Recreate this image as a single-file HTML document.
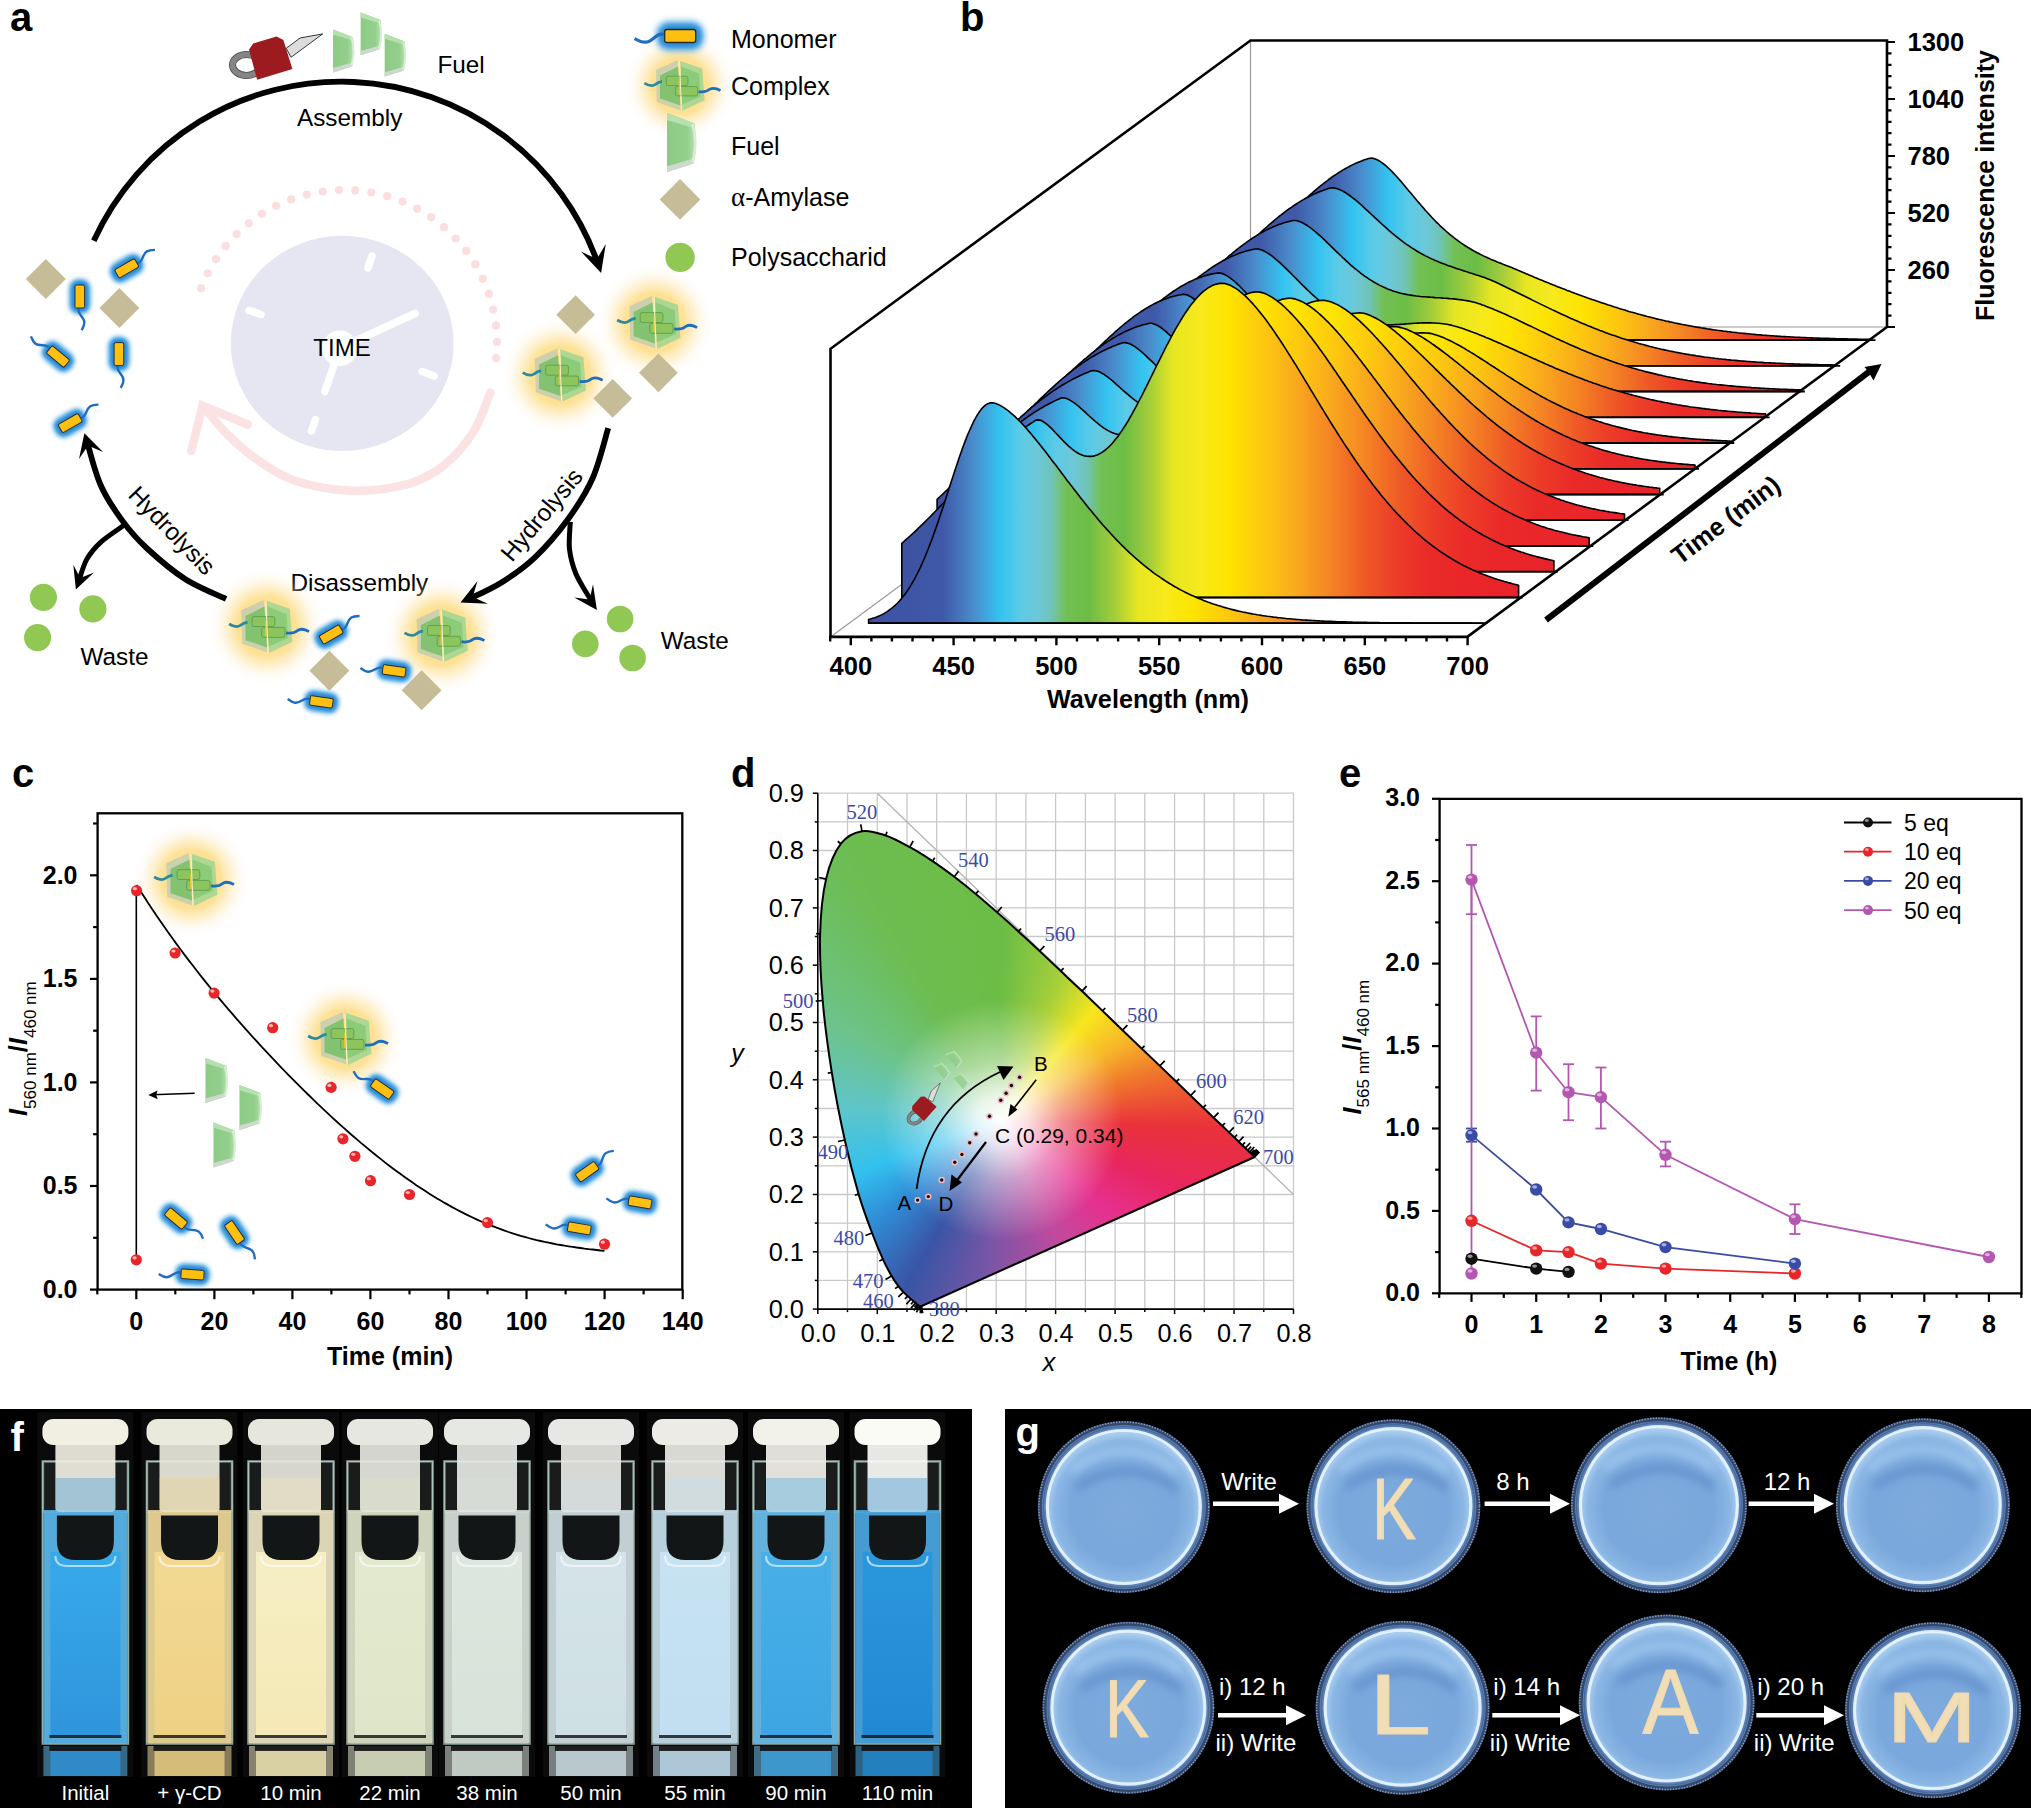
<!DOCTYPE html><html><head><meta charset="utf-8"><title>Figure</title><style>html,body{margin:0;padding:0;background:#fff;}body{width:2031px;height:1808px;overflow:hidden;}svg{display:block;}</style></head><body><svg xmlns="http://www.w3.org/2000/svg" width="2031" height="1808" viewBox="0 0 2031 1808"><defs><filter id="blur3" x="-50%" y="-50%" width="200%" height="200%"><feGaussianBlur stdDeviation="3"/></filter>
<filter id="blur2" x="-50%" y="-50%" width="200%" height="200%"><feGaussianBlur stdDeviation="2"/></filter>
<radialGradient id="yglow"><stop offset="0" stop-color="#fcd669" stop-opacity="0.95"/><stop offset="0.5" stop-color="#fddc84" stop-opacity="0.85"/><stop offset="0.68" stop-color="#fde3a0" stop-opacity="0.5"/><stop offset="0.85" stop-color="#feefd0" stop-opacity="0.2"/><stop offset="1" stop-color="#fff8ee" stop-opacity="0"/></radialGradient>
<linearGradient id="fuelg" x1="0" y1="0" x2="1" y2="0"><stop offset="0" stop-color="#8ccb86"/><stop offset="0.7" stop-color="#93cf8c"/><stop offset="1" stop-color="#b9e2b2"/></linearGradient>
<g id="mono"><rect x="-24" y="-15" width="48" height="30" rx="13" fill="#5aaee6" filter="url(#blur3)"/><rect x="-20.5" y="-11" width="41" height="22" rx="9" fill="#2a8ad6" filter="url(#blur2)"/><path d="M-16 -1.5 C-24 -4 -27 6 -35 6.2 C-39 6.3 -42 4.5 -45.6 2.5" fill="none" stroke="#1f6cc0" stroke-width="3.2" stroke-linecap="butt"/><rect x="-15.5" y="-6.5" width="31" height="13" rx="2.2" fill="#fdc011" stroke="#2a2a2a" stroke-width="1.3"/></g>
<g id="cplxbody"><path d="M-2.7 -25.3 L-24 -15.5 L-23.1 16.4 L0.9 24.8 Z" fill="#c9cfae" opacity="0.95"/><path d="M0 -24.6 L22.2 -17 L24.6 14.6 L2.4 25.2 Z" fill="#a9d693" opacity="0.95"/><path d="M-2 -19 L-20 -10 L-20 13 L0.5 20 Z" fill="#83c270"/><path d="M1 -19 L19 -12 L20.5 11 L2 19 Z" fill="#8ccb78"/><rect x="-13.7" y="-9.4" width="21.6" height="9.4" rx="1.8" fill="#8cc45e" stroke="#5d9a4a" stroke-width="0.8"/><rect x="-4.6" y="0.9" width="22.2" height="9.4" rx="1.8" fill="#8cc45e" stroke="#5d9a4a" stroke-width="0.8"/><path d="M-0.5 -5 V9" stroke="#f5c21a" stroke-width="1.6"/><line x1="-0.5" y1="-24" x2="1.5" y2="25" stroke="#f7f0c8" stroke-width="1"/><path d="M-35.6 -2.4 C-31 0.5 -28 1 -25 -1 C-23 -2.5 -21 -4 -18 -4" fill="none" stroke="#2a8aa0" stroke-width="2.6"/><path d="M18.6 6 C24 7 27 6 30 3.5 C34 1.5 37 3 40.5 4.9" fill="none" stroke="#1f6cc0" stroke-width="2.6"/></g>
<g id="cplx"><circle r="56" fill="url(#yglow)"/><use href="#cplxbody"/></g>
<g id="fuel"><path d="M0 0 L20 7.6 Q22 22 19.3 36.6 L0 42.8 Z" fill="url(#fuelg)"/><path d="M0 0 L20 7.6 L19.6 11 L0 5 Z" fill="#b6e0ae"/><path d="M0 38.5 L19.5 33 L19.3 36.6 L0 42.8 Z" fill="#cfd8cf"/><path d="M18.5 8 Q22.5 22 18.5 36" fill="none" stroke="#d7eed2" stroke-width="2"/></g>
<path id="dia" d="M0 -20 L20 0 L0 20 L-20 0 Z" fill="#c6bd98"/>
<g id="lock"><path d="M-8 -4 L-8 -4" /><ellipse cx="-23" cy="5" rx="14" ry="10.5" fill="none" stroke="#4a4a4a" stroke-width="7"/><ellipse cx="-23" cy="5" rx="14" ry="10.5" fill="none" stroke="#858585" stroke-width="5.4"/><path d="M16.7 -11.7 L30.5 -22 L53.2 -26.1 L21.5 -2.7 Z" fill="#dcdcdc" stroke="#222" stroke-width="0.9"/><path d="M-20.5 -10.3 L-16.4 -16.5 L7 -23.4 L13.9 -19.9 L22.9 9 L-12.3 19.8 Z" fill="#9b1b1e"/></g><linearGradient id="spec" gradientUnits="userSpaceOnUse" x1="866.5" y1="0" x2="1483.3" y2="0"><stop offset="0.0000" stop-color="#3d52a3"/><stop offset="0.1233" stop-color="#3f58a7"/><stop offset="0.1733" stop-color="#4a8ccc"/><stop offset="0.2167" stop-color="#33c3f0"/><stop offset="0.2500" stop-color="#5ccbe6"/><stop offset="0.2767" stop-color="#6cc8d8"/><stop offset="0.3000" stop-color="#6fc4b8"/><stop offset="0.3233" stop-color="#72c055"/><stop offset="0.3600" stop-color="#6cbd45"/><stop offset="0.4000" stop-color="#a0cc3a"/><stop offset="0.4400" stop-color="#e6e622"/><stop offset="0.4833" stop-color="#f7e91c"/><stop offset="0.5267" stop-color="#fde500"/><stop offset="0.5867" stop-color="#fdc810"/><stop offset="0.6400" stop-color="#f9a81e"/><stop offset="0.6933" stop-color="#f48524"/><stop offset="0.7500" stop-color="#ef5a26"/><stop offset="0.8033" stop-color="#ec3c28"/><stop offset="0.8567" stop-color="#ea2a28"/><stop offset="1.0000" stop-color="#e8222a"/></linearGradient></defs><rect width="2031" height="1808" fill="#fff"/><text x="10" y="31" font-size="40" font-weight="bold" fill="#000" font-family="'Liberation Sans', Arial, Helvetica, sans-serif">a</text>
<ellipse cx="342.2" cy="343.4" rx="111.4" ry="107.6" fill="#e5e6f1"/>
<g stroke="#fff" stroke-linecap="round" fill="none"><line x1="340" y1="348" x2="415" y2="313.5" stroke-width="7.5"/><line x1="340" y1="348" x2="324.8" y2="391.5" stroke-width="7.5"/><line x1="368" y1="268" x2="372" y2="256" stroke-width="7.5"/><line x1="249" y1="310.5" x2="261" y2="314.5" stroke-width="7.5"/><line x1="422" y1="371.5" x2="434" y2="376" stroke-width="7.5"/><line x1="311.5" y1="431" x2="315.5" y2="419.5" stroke-width="7.5"/></g>
<circle cx="339.8" cy="348.3" r="17.9" fill="#fff"/>
<text x="342" y="356" font-size="24" text-anchor="middle" fill="#000" font-family="'Liberation Sans', Arial, Helvetica, sans-serif">TIME</text>
<g fill="#fbdfe0"><circle cx="201.2" cy="288.2" r="4.1"/><circle cx="207.8" cy="273.3" r="4.1"/><circle cx="216" cy="259.2" r="4.1"/><circle cx="225.6" cy="246.1" r="4.1"/><circle cx="236.6" cy="234.1" r="4.1"/><circle cx="248.8" cy="223.3" r="4.1"/><circle cx="262" cy="213.8" r="4.1"/><circle cx="276.2" cy="205.8" r="4.1"/><circle cx="291.2" cy="199.4" r="4.1"/><circle cx="306.7" cy="194.6" r="4.1"/><circle cx="322.7" cy="191.5" r="4.1"/><circle cx="338.9" cy="190.1" r="4.1"/><circle cx="355.2" cy="190.4" r="4.1"/><circle cx="371.4" cy="192.5" r="4.1"/><circle cx="387.2" cy="196.2" r="4.1"/><circle cx="402.6" cy="201.6" r="4.1"/><circle cx="417.2" cy="208.7" r="4.1"/><circle cx="431.1" cy="217.2" r="4.1"/><circle cx="444" cy="227.2" r="4.1"/><circle cx="455.7" cy="238.5" r="4.1"/><circle cx="466.2" cy="250.9" r="4.1"/><circle cx="475.3" cy="264.4" r="4.1"/><circle cx="482.9" cy="278.8" r="4.1"/><circle cx="488.9" cy="293.9" r="4.1"/><circle cx="493.3" cy="309.6" r="4.1"/><circle cx="496" cy="325.7" r="4.1"/><circle cx="497" cy="341.9" r="4.1"/><circle cx="496.2" cy="358.2" r="4.1"/></g>
<path d="M490.3 392.5 C487.5 399.1 481.1 419.8 473.3 432 C465.5 444.2 454.6 457 443.3 465.8 C432 474.6 421.3 480.5 405.6 484.6 C389.9 488.7 368 491.3 349.2 490.5 C330.4 489.7 308.5 485.3 292.8 479.9 C277.1 474.5 266.2 466 255.2 458.3 C244.2 450.6 235 441.8 227 433.9 C219 426 210.3 414.8 207 411" fill="none" stroke="#fce3e3" stroke-width="8.5" stroke-linecap="round"/>
<path d="M191.3 450.8 L202.6 405.6 L247.7 424.5" fill="none" stroke="#fce3e3" stroke-width="8.5" stroke-linecap="round" stroke-linejoin="miter"/>
<text x="297" y="126.2" font-size="24.3" fill="#000" font-family="'Liberation Sans', Arial, Helvetica, sans-serif">Assembly</text>
<text x="290.5" y="590.8" font-size="24.3" fill="#000" font-family="'Liberation Sans', Arial, Helvetica, sans-serif">Disassembly</text>
<text x="437.5" y="73.1" font-size="24.3" fill="#000" font-family="'Liberation Sans', Arial, Helvetica, sans-serif">Fuel</text>
<text x="80.5" y="665.4" font-size="24.3" fill="#000" font-family="'Liberation Sans', Arial, Helvetica, sans-serif">Waste</text>
<text x="660.8" y="648.9" font-size="24.3" fill="#000" font-family="'Liberation Sans', Arial, Helvetica, sans-serif">Waste</text>
<text x="0" y="0" font-size="24.3" fill="#000" font-family="'Liberation Sans', Arial, Helvetica, sans-serif" transform="translate(512 563) rotate(-50)">Hydrolysis</text>
<text x="0" y="0" font-size="24.3" fill="#000" font-family="'Liberation Sans', Arial, Helvetica, sans-serif" transform="translate(127 496) rotate(46)">Hydrolysis</text>
<text x="731" y="47.5" font-size="25" fill="#000" font-family="'Liberation Sans', Arial, Helvetica, sans-serif">Monomer</text>
<text x="731" y="95.2" font-size="25" fill="#000" font-family="'Liberation Sans', Arial, Helvetica, sans-serif">Complex</text>
<text x="731" y="155" font-size="25" fill="#000" font-family="'Liberation Sans', Arial, Helvetica, sans-serif">Fuel</text>
<text x="731" y="206" font-size="25" fill="#000" font-family="'Liberation Sans', Arial, Helvetica, sans-serif"><tspan font-family="Liberation Serif, serif" font-size="27">α</tspan>-Amylase</text>
<text x="731" y="265.8" font-size="25" fill="#000" font-family="'Liberation Sans', Arial, Helvetica, sans-serif">Polysaccharid</text>
<use href="#cplx" transform="translate(680 85.6)"/>
<use href="#mono" transform="translate(680.2 36)"/>
<use href="#fuel" transform="translate(667 113) scale(1.380)"/>
<use href="#dia" transform="translate(680 199.4) scale(1.020)"/>
<circle cx="680.1" cy="257.4" r="14.7" fill="#90c853"/>
<use href="#lock" transform="translate(269.5 60)"/>
<use href="#fuel" transform="translate(333 29.6)"/>
<use href="#fuel" transform="translate(360.6 12.4)"/>
<use href="#fuel" transform="translate(384.7 33.8)"/>
<use href="#cplx" transform="translate(654.6 322.5) scale(1.050)"/>
<use href="#cplx" transform="translate(560.1 375.1) scale(1.050)"/>
<use href="#dia" transform="translate(575.6 314.7) scale(0.970)"/>
<use href="#dia" transform="translate(658.4 372.8) scale(0.970)"/>
<use href="#dia" transform="translate(612.7 398.4) scale(0.970)"/>
<circle cx="620.1" cy="619" r="13.3" fill="#90c853"/>
<circle cx="585.3" cy="643.9" r="13.3" fill="#90c853"/>
<circle cx="632.6" cy="658" r="13.3" fill="#90c853"/>
<circle cx="43.4" cy="597.3" r="13.6" fill="#90c853"/>
<circle cx="92.9" cy="608.9" r="13.6" fill="#90c853"/>
<circle cx="37.6" cy="637.6" r="13.6" fill="#90c853"/>
<use href="#dia" transform="translate(45.8 279.1)"/>
<use href="#dia" transform="translate(119.4 307.9)"/>
<use href="#mono" transform="translate(126.7 268.3) rotate(150) scale(0.740)"/>
<use href="#mono" transform="translate(79.8 296.5) rotate(-90) scale(0.740)"/>
<use href="#mono" transform="translate(58 356.6) rotate(40) scale(0.740)"/>
<use href="#mono" transform="translate(118.9 354.1) rotate(-90) scale(0.740)"/>
<use href="#mono" transform="translate(70.2 423.1) rotate(150) scale(0.740)"/>
<use href="#cplx" transform="translate(266.5 626.5) scale(1.050)"/>
<use href="#cplx" transform="translate(441.9 635.4) scale(1.050)"/>
<use href="#dia" transform="translate(329.4 670.8)"/>
<use href="#dia" transform="translate(421.6 690.3)"/>
<use href="#mono" transform="translate(331.2 634.5) rotate(150) scale(0.740)"/>
<use href="#mono" transform="translate(394.1 670.8) rotate(8) scale(0.740)"/>
<use href="#mono" transform="translate(321.4 701.8) rotate(8) scale(0.740)"/>
<path d="M93.8 240.7 A272 272 0 0 1 598 264" fill="none" stroke="#000" stroke-width="5.8"/>
<path d="M601.1 272.9 L581 251.6 L596.9 259.1 L605.8 243.9 Z" fill="#000"/>
<path d="M608.2 428.2 C605.6 436.5 599.4 462.8 592.7 478 C586 493.2 577.5 506.2 567.8 519.5 C558.1 532.8 545.8 547.1 534.7 557.6 C523.7 568.1 512.6 575.5 501.5 582.5 C490.4 589.5 473.6 596.7 468 599.5" fill="none" stroke="#000" stroke-width="5.8"/>
<path d="M460.5 602.6 L477.5 581 L472.7 597 L487.9 603.7 Z" fill="#000"/>
<path d="M226.1 598.9 C219.4 595.7 199 587.9 185.8 579.5 C172.6 571.1 157.7 558.3 147.1 548.5 C136.5 538.7 130.1 531.2 122.3 520.6 C114.5 510 106.5 498.3 100.6 485 C94.7 471.7 89.1 448.3 86.8 441" fill="none" stroke="#000" stroke-width="5.8"/>
<path d="M84.4 433.2 L103 452.1 L88 445.5 L79 459.1 Z" fill="#000"/>
<path d="M570.3 522 C570.2 526.5 568.5 540.6 569.5 549.3 C570.5 558 572.4 565.4 576.1 574.2 C579.9 583 589.4 597.4 592 602" fill="none" stroke="#000" stroke-width="5"/>
<path d="M596.9 609.9 L574.2 597.4 L589.6 599.4 L593 584.2 Z" fill="#000"/>
<path d="M123.9 525.3 C120 528.1 106.8 536.6 100.6 542.3 C94.4 548 90.4 552.8 86.7 559.4 C83 566 79.9 578.2 78.5 582" fill="none" stroke="#000" stroke-width="5"/>
<path d="M75.9 589.6 L73.3 564.8 L80.2 578.1 L94 572.5 Z" fill="#000"/>
<text x="960" y="31" font-size="40" font-weight="bold" fill="#000" font-family="'Liberation Sans', Arial, Helvetica, sans-serif">b</text>
<line x1="1250.5" y1="40.5" x2="1250.5" y2="327" stroke="#9a9a9a" stroke-width="1.2"/>
<line x1="1250.5" y1="327" x2="1887" y2="327" stroke="#9a9a9a" stroke-width="1.2"/>
<line x1="830.5" y1="637" x2="1250.5" y2="327" stroke="#9a9a9a" stroke-width="1.2"/>
<g transform="translate(388.2 -283.1)"><path d="M866.5 623.2 L866.5 532.7 L868.6 530.7 L870.6 528.6 L872.7 526.5 L874.7 524.4 L876.8 522.3 L878.8 520.2 L880.9 518.2 L882.9 516 L885 513.9 L887.1 511.8 L889.1 509.7 L891.2 507.7 L893.2 505.6 L895.3 503.5 L897.3 501.4 L899.4 499.3 L901.5 497.3 L903.5 495.3 L905.6 493.2 L907.6 491.2 L909.7 489.2 L911.7 487.3 L913.8 485.3 L915.8 483.4 L917.9 481.5 L920 479.6 L922 477.8 L924.1 476 L926.1 474.2 L928.2 472.4 L930.2 470.7 L932.3 469 L934.3 467.4 L936.4 465.7 L938.5 464.2 L940.5 462.6 L942.6 461.1 L944.6 459.6 L946.7 458.2 L948.7 456.9 L950.8 455.5 L952.9 454.2 L954.9 453 L957 451.8 L959 450.7 L961.1 449.6 L963.1 448.5 L965.2 447.5 L967.2 446.5 L969.3 445.6 L971.4 444.8 L973.4 444 L975.5 443.2 L977.5 442.5 L979.6 441.9 L981.6 441.3 L983.7 441.2 L985.7 441.6 L987.8 442.3 L989.9 443.3 L991.9 444.5 L994 445.9 L996 447.5 L998.1 449.2 L1000.1 451.1 L1002.2 453.1 L1004.3 455.2 L1006.3 457.3 L1008.4 459.6 L1010.4 461.9 L1012.5 464.2 L1014.5 466.6 L1016.6 469.1 L1018.6 471.5 L1020.7 474 L1022.8 476.4 L1024.8 478.9 L1026.9 481.4 L1028.9 483.8 L1031 486.2 L1033 488.6 L1035.1 491 L1037.1 493.3 L1039.2 495.6 L1041.3 497.9 L1043.3 500.1 L1045.4 502.3 L1047.4 504.4 L1049.5 506.4 L1051.5 508.4 L1053.6 510.4 L1055.7 512.3 L1057.7 514.1 L1059.8 515.9 L1061.8 517.7 L1063.9 519.3 L1065.9 521 L1068 522.5 L1070 524 L1072.1 525.5 L1074.2 526.9 L1076.2 528.3 L1078.3 529.6 L1080.3 530.9 L1082.4 532.1 L1084.4 533.3 L1086.5 534.5 L1088.5 535.6 L1090.6 536.6 L1092.7 537.7 L1094.7 538.7 L1096.8 539.7 L1098.8 540.6 L1100.9 541.5 L1102.9 542.5 L1105 543.3 L1107.1 544.2 L1109.1 545.1 L1111.2 545.9 L1113.2 546.7 L1115.3 547.5 L1117.3 548.3 L1119.4 549.1 L1121.4 549.9 L1123.5 550.7 L1125.6 551.5 L1127.6 552.4 L1129.7 553.3 L1131.7 554.1 L1133.8 555 L1135.8 555.9 L1137.9 556.8 L1139.9 557.7 L1142 558.5 L1144.1 559.4 L1146.1 560.3 L1148.2 561.1 L1150.2 562 L1152.3 562.8 L1154.3 563.7 L1156.4 564.5 L1158.5 565.4 L1160.5 566.2 L1162.6 567 L1164.6 567.9 L1166.7 568.7 L1168.7 569.5 L1170.8 570.3 L1172.8 571.1 L1174.9 571.9 L1177 572.7 L1179 573.5 L1181.1 574.2 L1183.1 575 L1185.2 575.8 L1187.2 576.6 L1189.3 577.3 L1191.3 578.1 L1193.4 578.8 L1195.5 579.6 L1197.5 580.3 L1199.6 581.1 L1201.6 581.8 L1203.7 582.5 L1205.7 583.2 L1207.8 583.9 L1209.9 584.6 L1211.9 585.3 L1214 586 L1216 586.7 L1218.1 587.4 L1220.1 588.1 L1222.2 588.7 L1224.2 589.4 L1226.3 590.1 L1228.4 590.7 L1230.4 591.4 L1232.5 592 L1234.5 592.6 L1236.6 593.2 L1238.6 593.8 L1240.7 594.5 L1242.7 595.1 L1244.8 595.6 L1246.9 596.2 L1248.9 596.8 L1251 597.4 L1253 597.9 L1255.1 598.5 L1257.1 599 L1259.2 599.6 L1261.3 600.1 L1263.3 600.6 L1265.4 601.1 L1267.4 601.7 L1269.5 602.2 L1271.5 602.6 L1273.6 603.1 L1275.6 603.6 L1277.7 604.1 L1279.8 604.5 L1281.8 605 L1283.9 605.4 L1285.9 605.9 L1288 606.3 L1290 606.7 L1292.1 607.1 L1294.1 607.6 L1296.2 607.9 L1298.3 608.3 L1300.3 608.7 L1302.4 609.1 L1304.4 609.5 L1306.5 609.8 L1308.5 610.2 L1310.6 610.5 L1312.7 610.9 L1314.7 611.2 L1316.8 611.5 L1318.8 611.9 L1320.9 612.2 L1322.9 612.5 L1325 612.8 L1327 613.1 L1329.1 613.4 L1331.2 613.6 L1333.2 613.9 L1335.3 614.2 L1337.3 614.4 L1339.4 614.7 L1341.4 614.9 L1343.5 615.2 L1345.5 615.4 L1347.6 615.6 L1349.7 615.9 L1351.7 616.1 L1353.8 616.3 L1355.8 616.5 L1357.9 616.7 L1359.9 616.9 L1362 617.1 L1364.1 617.3 L1366.1 617.5 L1368.2 617.7 L1370.2 617.8 L1372.3 618 L1374.3 618.2 L1376.4 618.3 L1378.4 618.5 L1380.5 618.6 L1382.6 618.8 L1384.6 618.9 L1386.7 619.1 L1388.7 619.2 L1390.8 619.3 L1392.8 619.5 L1394.9 619.6 L1396.9 619.7 L1399 619.8 L1401.1 619.9 L1403.1 620.1 L1405.2 620.2 L1407.2 620.3 L1409.3 620.4 L1411.3 620.5 L1413.4 620.6 L1415.5 620.6 L1417.5 620.7 L1419.6 620.8 L1421.6 620.9 L1423.7 621 L1425.7 621.1 L1427.8 621.1 L1429.8 621.2 L1431.9 621.3 L1434 621.4 L1436 621.4 L1438.1 621.5 L1440.1 621.5 L1442.2 621.6 L1444.2 621.7 L1446.3 621.7 L1448.3 621.8 L1450.4 621.8 L1452.5 621.9 L1454.5 621.9 L1456.6 622 L1458.6 622 L1460.7 622.1 L1462.7 622.1 L1464.8 622.2 L1466.9 622.2 L1468.9 622.2 L1471 622.3 L1473 622.3 L1475.1 622.3 L1477.1 622.4 L1479.2 622.4 L1481.2 622.4 L1483.3 622.5 L1483.3 623.2 Z" fill="url(#spec)" stroke="#000" stroke-width="1.6" stroke-linejoin="round"/><line x1="866.5" y1="623.2" x2="1487.3" y2="623.2" stroke="#000" stroke-width="1.8"/></g>
<g transform="translate(352.9 -257.4)"><path d="M866.5 623.2 L866.5 530.4 L868.6 528.3 L870.6 526.3 L872.7 524.2 L874.7 522.2 L876.8 520.1 L878.8 518.1 L880.9 516 L882.9 514 L885 511.9 L887.1 509.9 L889.1 507.8 L891.2 505.8 L893.2 503.8 L895.3 501.8 L897.3 499.8 L899.4 497.8 L901.5 495.8 L903.5 493.9 L905.6 491.9 L907.6 490 L909.7 488.1 L911.7 486.3 L913.8 484.4 L915.8 482.6 L917.9 480.8 L920 479.1 L922 477.3 L924.1 475.6 L926.1 473.9 L928.2 472.3 L930.2 470.7 L932.3 469.1 L934.3 467.6 L936.4 466.1 L938.5 464.7 L940.5 463.3 L942.6 461.9 L944.6 460.6 L946.7 459.3 L948.7 458 L950.8 456.8 L952.9 455.7 L954.9 454.6 L957 453.5 L959 452.5 L961.1 451.5 L963.1 450.6 L965.2 449.7 L967.2 448.9 L969.3 448.1 L971.4 447.4 L973.4 446.7 L975.5 446 L977.5 445.4 L979.6 445.2 L981.6 445.5 L983.7 445.9 L985.7 446.6 L987.8 447.5 L989.9 448.5 L991.9 449.7 L994 451 L996 452.4 L998.1 453.9 L1000.1 455.5 L1002.2 457.1 L1004.3 458.8 L1006.3 460.6 L1008.4 462.4 L1010.4 464.3 L1012.5 466.2 L1014.5 468.1 L1016.6 470 L1018.6 471.9 L1020.7 473.8 L1022.8 475.7 L1024.8 477.6 L1026.9 479.6 L1028.9 481.4 L1031 483.3 L1033 485.1 L1035.1 487 L1037.1 488.7 L1039.2 490.5 L1041.3 492.2 L1043.3 493.9 L1045.4 495.5 L1047.4 497.1 L1049.5 498.7 L1051.5 500.2 L1053.6 501.7 L1055.7 503.1 L1057.7 504.5 L1059.8 505.8 L1061.8 507.1 L1063.9 508.4 L1065.9 509.6 L1068 510.8 L1070 511.9 L1072.1 513 L1074.2 514 L1076.2 515 L1078.3 516 L1080.3 517 L1082.4 517.9 L1084.4 518.7 L1086.5 519.6 L1088.5 520.4 L1090.6 521.2 L1092.7 522 L1094.7 522.8 L1096.8 523.5 L1098.8 524.2 L1100.9 524.9 L1102.9 525.6 L1105 526.3 L1107.1 527 L1109.1 527.6 L1111.2 528.3 L1113.2 529 L1115.3 529.6 L1117.3 530.3 L1119.4 530.9 L1121.4 531.6 L1123.5 532.3 L1125.6 532.9 L1127.6 533.6 L1129.7 534.3 L1131.7 535 L1133.8 535.8 L1135.8 536.6 L1137.9 537.4 L1139.9 538.3 L1142 539.2 L1144.1 540.2 L1146.1 541.1 L1148.2 542.1 L1150.2 543.1 L1152.3 544.1 L1154.3 545.1 L1156.4 546.1 L1158.5 547.1 L1160.5 548.1 L1162.6 549.1 L1164.6 550.1 L1166.7 551.2 L1168.7 552.2 L1170.8 553.2 L1172.8 554.2 L1174.9 555.2 L1177 556.2 L1179 557.3 L1181.1 558.3 L1183.1 559.3 L1185.2 560.3 L1187.2 561.3 L1189.3 562.3 L1191.3 563.3 L1193.4 564.3 L1195.5 565.3 L1197.5 566.3 L1199.6 567.3 L1201.6 568.2 L1203.7 569.2 L1205.7 570.2 L1207.8 571.1 L1209.9 572.1 L1211.9 573 L1214 573.9 L1216 574.9 L1218.1 575.8 L1220.1 576.7 L1222.2 577.6 L1224.2 578.5 L1226.3 579.4 L1228.4 580.3 L1230.4 581.1 L1232.5 582 L1234.5 582.9 L1236.6 583.7 L1238.6 584.5 L1240.7 585.4 L1242.7 586.2 L1244.8 587 L1246.9 587.8 L1248.9 588.5 L1251 589.3 L1253 590.1 L1255.1 590.8 L1257.1 591.6 L1259.2 592.3 L1261.3 593 L1263.3 593.7 L1265.4 594.4 L1267.4 595.1 L1269.5 595.8 L1271.5 596.4 L1273.6 597.1 L1275.6 597.7 L1277.7 598.4 L1279.8 599 L1281.8 599.6 L1283.9 600.2 L1285.9 600.8 L1288 601.4 L1290 601.9 L1292.1 602.5 L1294.1 603 L1296.2 603.6 L1298.3 604.1 L1300.3 604.6 L1302.4 605.1 L1304.4 605.6 L1306.5 606.1 L1308.5 606.6 L1310.6 607 L1312.7 607.5 L1314.7 607.9 L1316.8 608.4 L1318.8 608.8 L1320.9 609.2 L1322.9 609.6 L1325 610 L1327 610.4 L1329.1 610.8 L1331.2 611.1 L1333.2 611.5 L1335.3 611.8 L1337.3 612.2 L1339.4 612.5 L1341.4 612.8 L1343.5 613.2 L1345.5 613.5 L1347.6 613.8 L1349.7 614.1 L1351.7 614.4 L1353.8 614.6 L1355.8 614.9 L1357.9 615.2 L1359.9 615.4 L1362 615.7 L1364.1 615.9 L1366.1 616.2 L1368.2 616.4 L1370.2 616.6 L1372.3 616.8 L1374.3 617.1 L1376.4 617.3 L1378.4 617.5 L1380.5 617.6 L1382.6 617.8 L1384.6 618 L1386.7 618.2 L1388.7 618.4 L1390.8 618.5 L1392.8 618.7 L1394.9 618.9 L1396.9 619 L1399 619.2 L1401.1 619.3 L1403.1 619.4 L1405.2 619.6 L1407.2 619.7 L1409.3 619.8 L1411.3 620 L1413.4 620.1 L1415.5 620.2 L1417.5 620.3 L1419.6 620.4 L1421.6 620.5 L1423.7 620.6 L1425.7 620.7 L1427.8 620.8 L1429.8 620.9 L1431.9 621 L1434 621.1 L1436 621.1 L1438.1 621.2 L1440.1 621.3 L1442.2 621.4 L1444.2 621.4 L1446.3 621.5 L1448.3 621.6 L1450.4 621.6 L1452.5 621.7 L1454.5 621.8 L1456.6 621.8 L1458.6 621.9 L1460.7 621.9 L1462.7 622 L1464.8 622 L1466.9 622.1 L1468.9 622.1 L1471 622.2 L1473 622.2 L1475.1 622.2 L1477.1 622.3 L1479.2 622.3 L1481.2 622.4 L1483.3 622.4 L1483.3 623.2 Z" fill="url(#spec)" stroke="#000" stroke-width="1.6" stroke-linejoin="round"/><line x1="866.5" y1="623.2" x2="1487.3" y2="623.2" stroke="#000" stroke-width="1.8"/></g>
<g transform="translate(317.6 -231.7)"><path d="M866.5 623.2 L866.5 529.9 L868.6 527.9 L870.6 525.9 L872.7 523.9 L874.7 521.9 L876.8 519.9 L878.8 517.9 L880.9 515.9 L882.9 514 L885 512 L887.1 510 L889.1 508 L891.2 506.1 L893.2 504.1 L895.3 502.2 L897.3 500.3 L899.4 498.4 L901.5 496.5 L903.5 494.6 L905.6 492.8 L907.6 491 L909.7 489.2 L911.7 487.4 L913.8 485.7 L915.8 484 L917.9 482.3 L920 480.7 L922 479.1 L924.1 477.5 L926.1 476 L928.2 474.5 L930.2 473 L932.3 471.6 L934.3 470.2 L936.4 468.9 L938.5 467.6 L940.5 466.3 L942.6 465.1 L944.6 463.9 L946.7 462.8 L948.7 461.8 L950.8 460.7 L952.9 459.8 L954.9 458.8 L957 458 L959 457.1 L961.1 456.3 L963.1 455.6 L965.2 454.9 L967.2 454.3 L969.3 453.7 L971.4 453.2 L973.4 452.7 L975.5 452.2 L977.5 452.2 L979.6 452.5 L981.6 453.2 L983.7 454 L985.7 455 L987.8 456.2 L989.9 457.5 L991.9 458.9 L994 460.4 L996 462 L998.1 463.7 L1000.1 465.5 L1002.2 467.3 L1004.3 469.2 L1006.3 471.1 L1008.4 473.1 L1010.4 475.1 L1012.5 477.1 L1014.5 479.1 L1016.6 481.1 L1018.6 483.1 L1020.7 485 L1022.8 487 L1024.8 489 L1026.9 490.9 L1028.9 492.8 L1031 494.7 L1033 496.5 L1035.1 498.3 L1037.1 500 L1039.2 501.7 L1041.3 503.4 L1043.3 505 L1045.4 506.5 L1047.4 508 L1049.5 509.4 L1051.5 510.8 L1053.6 512.1 L1055.7 513.4 L1057.7 514.6 L1059.8 515.7 L1061.8 516.8 L1063.9 517.8 L1065.9 518.8 L1068 519.7 L1070 520.6 L1072.1 521.4 L1074.2 522.2 L1076.2 522.9 L1078.3 523.5 L1080.3 524.1 L1082.4 524.7 L1084.4 525.2 L1086.5 525.6 L1088.5 526.1 L1090.6 526.5 L1092.7 526.8 L1094.7 527.1 L1096.8 527.4 L1098.8 527.7 L1100.9 527.9 L1102.9 528.2 L1105 528.4 L1107.1 528.5 L1109.1 528.7 L1111.2 528.8 L1113.2 529 L1115.3 529.1 L1117.3 529.3 L1119.4 529.4 L1121.4 529.5 L1123.5 529.6 L1125.6 529.8 L1127.6 529.9 L1129.7 530.1 L1131.7 530.3 L1133.8 530.4 L1135.8 530.6 L1137.9 530.8 L1139.9 531.1 L1142 531.3 L1144.1 531.6 L1146.1 531.9 L1148.2 532.2 L1150.2 532.6 L1152.3 533 L1154.3 533.4 L1156.4 533.9 L1158.5 534.5 L1160.5 535.2 L1162.6 535.8 L1164.6 536.6 L1166.7 537.3 L1168.7 538.1 L1170.8 538.9 L1172.8 539.7 L1174.9 540.5 L1177 541.4 L1179 542.2 L1181.1 543.1 L1183.1 544 L1185.2 544.9 L1187.2 545.8 L1189.3 546.7 L1191.3 547.7 L1193.4 548.6 L1195.5 549.6 L1197.5 550.5 L1199.6 551.5 L1201.6 552.5 L1203.7 553.4 L1205.7 554.4 L1207.8 555.4 L1209.9 556.4 L1211.9 557.4 L1214 558.3 L1216 559.3 L1218.1 560.3 L1220.1 561.3 L1222.2 562.3 L1224.2 563.3 L1226.3 564.2 L1228.4 565.2 L1230.4 566.2 L1232.5 567.2 L1234.5 568.1 L1236.6 569.1 L1238.6 570.1 L1240.7 571 L1242.7 572 L1244.8 572.9 L1246.9 573.8 L1248.9 574.8 L1251 575.7 L1253 576.6 L1255.1 577.5 L1257.1 578.4 L1259.2 579.3 L1261.3 580.2 L1263.3 581.1 L1265.4 581.9 L1267.4 582.8 L1269.5 583.6 L1271.5 584.5 L1273.6 585.3 L1275.6 586.1 L1277.7 586.9 L1279.8 587.7 L1281.8 588.5 L1283.9 589.3 L1285.9 590 L1288 590.8 L1290 591.5 L1292.1 592.3 L1294.1 593 L1296.2 593.7 L1298.3 594.4 L1300.3 595.1 L1302.4 595.8 L1304.4 596.4 L1306.5 597.1 L1308.5 597.7 L1310.6 598.4 L1312.7 599 L1314.7 599.6 L1316.8 600.2 L1318.8 600.8 L1320.9 601.4 L1322.9 601.9 L1325 602.5 L1327 603.1 L1329.1 603.6 L1331.2 604.1 L1333.2 604.6 L1335.3 605.1 L1337.3 605.6 L1339.4 606.1 L1341.4 606.6 L1343.5 607 L1345.5 607.5 L1347.6 607.9 L1349.7 608.4 L1351.7 608.8 L1353.8 609.2 L1355.8 609.6 L1357.9 610 L1359.9 610.4 L1362 610.8 L1364.1 611.1 L1366.1 611.5 L1368.2 611.8 L1370.2 612.2 L1372.3 612.5 L1374.3 612.8 L1376.4 613.2 L1378.4 613.5 L1380.5 613.8 L1382.6 614.1 L1384.6 614.4 L1386.7 614.6 L1388.7 614.9 L1390.8 615.2 L1392.8 615.4 L1394.9 615.7 L1396.9 615.9 L1399 616.2 L1401.1 616.4 L1403.1 616.6 L1405.2 616.8 L1407.2 617 L1409.3 617.2 L1411.3 617.4 L1413.4 617.6 L1415.5 617.8 L1417.5 618 L1419.6 618.2 L1421.6 618.3 L1423.7 618.5 L1425.7 618.7 L1427.8 618.8 L1429.8 619 L1431.9 619.1 L1434 619.3 L1436 619.4 L1438.1 619.5 L1440.1 619.7 L1442.2 619.8 L1444.2 619.9 L1446.3 620 L1448.3 620.2 L1450.4 620.3 L1452.5 620.4 L1454.5 620.5 L1456.6 620.6 L1458.6 620.7 L1460.7 620.8 L1462.7 620.9 L1464.8 620.9 L1466.9 621 L1468.9 621.1 L1471 621.2 L1473 621.3 L1475.1 621.3 L1477.1 621.4 L1479.2 621.5 L1481.2 621.5 L1483.3 621.6 L1483.3 623.2 Z" fill="url(#spec)" stroke="#000" stroke-width="1.6" stroke-linejoin="round"/><line x1="866.5" y1="623.2" x2="1487.3" y2="623.2" stroke="#000" stroke-width="1.8"/></g>
<g transform="translate(282.3 -205.9)"><path d="M866.5 623.2 L866.5 528.5 L868.6 526.5 L870.6 524.5 L872.7 522.5 L874.7 520.5 L876.8 518.6 L878.8 516.6 L880.9 514.6 L882.9 512.6 L885 510.7 L887.1 508.7 L889.1 506.8 L891.2 504.9 L893.2 503 L895.3 501.1 L897.3 499.2 L899.4 497.3 L901.5 495.5 L903.5 493.7 L905.6 491.9 L907.6 490.2 L909.7 488.4 L911.7 486.7 L913.8 485 L915.8 483.4 L917.9 481.8 L920 480.2 L922 478.7 L924.1 477.2 L926.1 475.7 L928.2 474.3 L930.2 472.9 L932.3 471.6 L934.3 470.3 L936.4 469.1 L938.5 467.9 L940.5 466.7 L942.6 465.6 L944.6 464.5 L946.7 463.5 L948.7 462.5 L950.8 461.6 L952.9 460.8 L954.9 459.9 L957 459.2 L959 458.5 L961.1 457.8 L963.1 457.2 L965.2 456.6 L967.2 456.1 L969.3 455.6 L971.4 455.2 L973.4 454.9 L975.5 454.9 L977.5 455.3 L979.6 456 L981.6 456.9 L983.7 458 L985.7 459.3 L987.8 460.6 L989.9 462.1 L991.9 463.8 L994 465.5 L996 467.2 L998.1 469.1 L1000.1 471 L1002.2 473 L1004.3 475 L1006.3 477 L1008.4 479 L1010.4 481.1 L1012.5 483.2 L1014.5 485.3 L1016.6 487.3 L1018.6 489.4 L1020.7 491.5 L1022.8 493.5 L1024.8 495.5 L1026.9 497.4 L1028.9 499.4 L1031 501.2 L1033 503.1 L1035.1 504.9 L1037.1 506.6 L1039.2 508.3 L1041.3 509.9 L1043.3 511.5 L1045.4 513 L1047.4 514.5 L1049.5 515.9 L1051.5 517.2 L1053.6 518.5 L1055.7 519.7 L1057.7 520.8 L1059.8 521.9 L1061.8 522.9 L1063.9 523.8 L1065.9 524.7 L1068 525.5 L1070 526.2 L1072.1 526.9 L1074.2 527.6 L1076.2 528.1 L1078.3 528.6 L1080.3 529.1 L1082.4 529.5 L1084.4 529.8 L1086.5 530.1 L1088.5 530.4 L1090.6 530.6 L1092.7 530.7 L1094.7 530.8 L1096.8 530.9 L1098.8 531 L1100.9 531 L1102.9 531 L1105 530.9 L1107.1 530.8 L1109.1 530.8 L1111.2 530.7 L1113.2 530.5 L1115.3 530.4 L1117.3 530.3 L1119.4 530.1 L1121.4 530 L1123.5 529.8 L1125.6 529.6 L1127.6 529.5 L1129.7 529.4 L1131.7 529.2 L1133.8 529.1 L1135.8 529 L1137.9 528.9 L1139.9 528.8 L1142 528.8 L1144.1 528.8 L1146.1 528.8 L1148.2 528.8 L1150.2 528.9 L1152.3 528.9 L1154.3 529.1 L1156.4 529.2 L1158.5 529.4 L1160.5 529.6 L1162.6 529.9 L1164.6 530.2 L1166.7 530.6 L1168.7 531 L1170.8 531.6 L1172.8 532.1 L1174.9 532.7 L1177 533.3 L1179 534 L1181.1 534.7 L1183.1 535.4 L1185.2 536.1 L1187.2 536.8 L1189.3 537.6 L1191.3 538.4 L1193.4 539.1 L1195.5 540 L1197.5 540.8 L1199.6 541.6 L1201.6 542.4 L1203.7 543.3 L1205.7 544.1 L1207.8 545 L1209.9 545.9 L1211.9 546.8 L1214 547.7 L1216 548.6 L1218.1 549.5 L1220.1 550.4 L1222.2 551.3 L1224.2 552.2 L1226.3 553.2 L1228.4 554.1 L1230.4 555 L1232.5 555.9 L1234.5 556.9 L1236.6 557.8 L1238.6 558.7 L1240.7 559.7 L1242.7 560.6 L1244.8 561.5 L1246.9 562.5 L1248.9 563.4 L1251 564.3 L1253 565.2 L1255.1 566.2 L1257.1 567.1 L1259.2 568 L1261.3 568.9 L1263.3 569.8 L1265.4 570.7 L1267.4 571.6 L1269.5 572.5 L1271.5 573.4 L1273.6 574.3 L1275.6 575.1 L1277.7 576 L1279.8 576.8 L1281.8 577.7 L1283.9 578.5 L1285.9 579.4 L1288 580.2 L1290 581 L1292.1 581.8 L1294.1 582.6 L1296.2 583.4 L1298.3 584.2 L1300.3 585 L1302.4 585.8 L1304.4 586.5 L1306.5 587.3 L1308.5 588 L1310.6 588.8 L1312.7 589.5 L1314.7 590.2 L1316.8 590.9 L1318.8 591.6 L1320.9 592.3 L1322.9 593 L1325 593.6 L1327 594.3 L1329.1 594.9 L1331.2 595.6 L1333.2 596.2 L1335.3 596.8 L1337.3 597.4 L1339.4 598 L1341.4 598.6 L1343.5 599.2 L1345.5 599.7 L1347.6 600.3 L1349.7 600.8 L1351.7 601.4 L1353.8 601.9 L1355.8 602.4 L1357.9 602.9 L1359.9 603.4 L1362 603.9 L1364.1 604.4 L1366.1 604.9 L1368.2 605.4 L1370.2 605.8 L1372.3 606.3 L1374.3 606.7 L1376.4 607.1 L1378.4 607.5 L1380.5 608 L1382.6 608.4 L1384.6 608.7 L1386.7 609.1 L1388.7 609.5 L1390.8 609.9 L1392.8 610.2 L1394.9 610.6 L1396.9 610.9 L1399 611.3 L1401.1 611.6 L1403.1 611.9 L1405.2 612.2 L1407.2 612.6 L1409.3 612.9 L1411.3 613.1 L1413.4 613.4 L1415.5 613.7 L1417.5 614 L1419.6 614.3 L1421.6 614.5 L1423.7 614.8 L1425.7 615 L1427.8 615.3 L1429.8 615.5 L1431.9 615.7 L1434 615.9 L1436 616.2 L1438.1 616.4 L1440.1 616.6 L1442.2 616.8 L1444.2 617 L1446.3 617.2 L1448.3 617.4 L1450.4 617.5 L1452.5 617.7 L1454.5 617.9 L1456.6 618.1 L1458.6 618.2 L1460.7 618.4 L1462.7 618.5 L1464.8 618.7 L1466.9 618.8 L1468.9 619 L1471 619.1 L1473 619.2 L1475.1 619.4 L1477.1 619.5 L1479.2 619.6 L1481.2 619.7 L1483.3 619.8 L1483.3 623.2 Z" fill="url(#spec)" stroke="#000" stroke-width="1.6" stroke-linejoin="round"/><line x1="866.5" y1="623.2" x2="1487.3" y2="623.2" stroke="#000" stroke-width="1.8"/></g>
<g transform="translate(247 -180.2)"><path d="M866.5 623.2 L866.5 524.5 L868.6 522.5 L870.6 520.5 L872.7 518.4 L874.7 516.4 L876.8 514.4 L878.8 512.4 L880.9 510.4 L882.9 508.4 L885 506.4 L887.1 504.5 L889.1 502.5 L891.2 500.6 L893.2 498.6 L895.3 496.7 L897.3 494.9 L899.4 493 L901.5 491.2 L903.5 489.4 L905.6 487.6 L907.6 485.8 L909.7 484.1 L911.7 482.4 L913.8 480.8 L915.8 479.2 L917.9 477.6 L920 476.1 L922 474.6 L924.1 473.1 L926.1 471.7 L928.2 470.3 L930.2 469 L932.3 467.7 L934.3 466.5 L936.4 465.3 L938.5 464.2 L940.5 463.1 L942.6 462 L944.6 461.1 L946.7 460.1 L948.7 459.2 L950.8 458.4 L952.9 457.6 L954.9 456.9 L957 456.3 L959 455.6 L961.1 455.1 L963.1 454.6 L965.2 454.1 L967.2 453.7 L969.3 453.4 L971.4 453.1 L973.4 453.3 L975.5 453.8 L977.5 454.7 L979.6 455.8 L981.6 457.1 L983.7 458.5 L985.7 460.2 L987.8 461.9 L989.9 463.8 L991.9 465.7 L994 467.8 L996 469.9 L998.1 472.1 L1000.1 474.3 L1002.2 476.6 L1004.3 478.9 L1006.3 481.2 L1008.4 483.6 L1010.4 485.9 L1012.5 488.3 L1014.5 490.6 L1016.6 492.9 L1018.6 495.2 L1020.7 497.5 L1022.8 499.7 L1024.8 501.9 L1026.9 504 L1028.9 506.1 L1031 508.2 L1033 510.1 L1035.1 512 L1037.1 513.9 L1039.2 515.7 L1041.3 517.4 L1043.3 519 L1045.4 520.5 L1047.4 522 L1049.5 523.4 L1051.5 524.7 L1053.6 525.9 L1055.7 527.1 L1057.7 528.1 L1059.8 529.1 L1061.8 530 L1063.9 530.8 L1065.9 531.5 L1068 532.2 L1070 532.7 L1072.1 533.2 L1074.2 533.6 L1076.2 533.9 L1078.3 534.2 L1080.3 534.4 L1082.4 534.5 L1084.4 534.5 L1086.5 534.5 L1088.5 534.4 L1090.6 534.2 L1092.7 534 L1094.7 533.7 L1096.8 533.4 L1098.8 533 L1100.9 532.6 L1102.9 532.1 L1105 531.6 L1107.1 531 L1109.1 530.4 L1111.2 529.8 L1113.2 529.2 L1115.3 528.5 L1117.3 527.8 L1119.4 527.1 L1121.4 526.4 L1123.5 525.6 L1125.6 524.9 L1127.6 524.1 L1129.7 523.4 L1131.7 522.7 L1133.8 521.9 L1135.8 521.2 L1137.9 520.5 L1139.9 519.8 L1142 519.1 L1144.1 518.5 L1146.1 517.8 L1148.2 517.2 L1150.2 516.7 L1152.3 516.1 L1154.3 515.6 L1156.4 515.2 L1158.5 514.7 L1160.5 514.4 L1162.6 514 L1164.6 513.7 L1166.7 513.5 L1168.7 513.3 L1170.8 513.2 L1172.8 513.1 L1174.9 513 L1177 513.1 L1179 513.2 L1181.1 513.3 L1183.1 513.6 L1185.2 514 L1187.2 514.6 L1189.3 515.2 L1191.3 515.9 L1193.4 516.7 L1195.5 517.5 L1197.5 518.3 L1199.6 519.3 L1201.6 520.2 L1203.7 521.2 L1205.7 522.2 L1207.8 523.3 L1209.9 524.4 L1211.9 525.5 L1214 526.7 L1216 527.8 L1218.1 529 L1220.1 530.3 L1222.2 531.5 L1224.2 532.8 L1226.3 534 L1228.4 535.3 L1230.4 536.6 L1232.5 537.9 L1234.5 539.2 L1236.6 540.6 L1238.6 541.9 L1240.7 543.2 L1242.7 544.6 L1244.8 545.9 L1246.9 547.2 L1248.9 548.6 L1251 549.9 L1253 551.3 L1255.1 552.6 L1257.1 553.9 L1259.2 555.3 L1261.3 556.6 L1263.3 557.9 L1265.4 559.2 L1267.4 560.5 L1269.5 561.8 L1271.5 563.1 L1273.6 564.4 L1275.6 565.6 L1277.7 566.9 L1279.8 568.1 L1281.8 569.4 L1283.9 570.6 L1285.9 571.8 L1288 573 L1290 574.1 L1292.1 575.3 L1294.1 576.4 L1296.2 577.6 L1298.3 578.7 L1300.3 579.8 L1302.4 580.8 L1304.4 581.9 L1306.5 583 L1308.5 584 L1310.6 585 L1312.7 586 L1314.7 587 L1316.8 587.9 L1318.8 588.9 L1320.9 589.8 L1322.9 590.7 L1325 591.6 L1327 592.5 L1329.1 593.3 L1331.2 594.2 L1333.2 595 L1335.3 595.8 L1337.3 596.6 L1339.4 597.4 L1341.4 598.1 L1343.5 598.9 L1345.5 599.6 L1347.6 600.3 L1349.7 601 L1351.7 601.7 L1353.8 602.3 L1355.8 603 L1357.9 603.6 L1359.9 604.2 L1362 604.8 L1364.1 605.4 L1366.1 606 L1368.2 606.5 L1370.2 607.1 L1372.3 607.6 L1374.3 608.1 L1376.4 608.6 L1378.4 609.1 L1380.5 609.6 L1382.6 610 L1384.6 610.5 L1386.7 610.9 L1388.7 611.3 L1390.8 611.7 L1392.8 612.1 L1394.9 612.5 L1396.9 612.9 L1399 613.2 L1401.1 613.6 L1403.1 613.9 L1405.2 614.3 L1407.2 614.6 L1409.3 614.9 L1411.3 615.2 L1413.4 615.5 L1415.5 615.8 L1417.5 616 L1419.6 616.3 L1421.6 616.6 L1423.7 616.8 L1425.7 617.1 L1427.8 617.3 L1429.8 617.5 L1431.9 617.7 L1434 617.9 L1436 618.1 L1438.1 618.3 L1440.1 618.5 L1442.2 618.7 L1444.2 618.9 L1446.3 619.1 L1448.3 619.2 L1450.4 619.4 L1452.5 619.5 L1454.5 619.7 L1456.6 619.8 L1458.6 620 L1460.7 620.1 L1462.7 620.2 L1464.8 620.3 L1466.9 620.5 L1468.9 620.6 L1471 620.7 L1473 620.8 L1475.1 620.9 L1477.1 621 L1479.2 621.1 L1481.2 621.2 L1483.3 621.3 L1483.3 623.2 Z" fill="url(#spec)" stroke="#000" stroke-width="1.6" stroke-linejoin="round"/><line x1="866.5" y1="623.2" x2="1487.3" y2="623.2" stroke="#000" stroke-width="1.8"/></g>
<g transform="translate(211.7 -154.4)"><path d="M866.5 623.2 L866.5 522.2 L868.6 520.2 L870.6 518.1 L872.7 516 L874.7 514 L876.8 511.9 L878.8 509.9 L880.9 507.8 L882.9 505.8 L885 503.8 L887.1 501.8 L889.1 499.8 L891.2 497.8 L893.2 495.8 L895.3 493.9 L897.3 491.9 L899.4 490 L901.5 488.2 L903.5 486.3 L905.6 484.5 L907.6 482.7 L909.7 480.9 L911.7 479.2 L913.8 477.5 L915.8 475.9 L917.9 474.2 L920 472.7 L922 471.1 L924.1 469.6 L926.1 468.2 L928.2 466.8 L930.2 465.4 L932.3 464.1 L934.3 462.8 L936.4 461.6 L938.5 460.4 L940.5 459.3 L942.6 458.2 L944.6 457.2 L946.7 456.2 L948.7 455.3 L950.8 454.4 L952.9 453.6 L954.9 452.9 L957 452.2 L959 451.5 L961.1 450.9 L963.1 450.4 L965.2 449.9 L967.2 449.4 L969.3 449.1 L971.4 448.7 L973.4 448.9 L975.5 449.5 L977.5 450.4 L979.6 451.5 L981.6 452.9 L983.7 454.4 L985.7 456.2 L987.8 458 L989.9 460 L991.9 462.1 L994 464.2 L996 466.5 L998.1 468.8 L1000.1 471.1 L1002.2 473.5 L1004.3 475.9 L1006.3 478.3 L1008.4 480.7 L1010.4 483.1 L1012.5 485.6 L1014.5 487.9 L1016.6 490.3 L1018.6 492.6 L1020.7 494.9 L1022.8 497.1 L1024.8 499.3 L1026.9 501.4 L1028.9 503.5 L1031 505.5 L1033 507.4 L1035.1 509.2 L1037.1 510.9 L1039.2 512.6 L1041.3 514.1 L1043.3 515.6 L1045.4 517 L1047.4 518.3 L1049.5 519.4 L1051.5 520.5 L1053.6 521.5 L1055.7 522.4 L1057.7 523.2 L1059.8 523.9 L1061.8 524.5 L1063.9 525 L1065.9 525.3 L1068 525.6 L1070 525.8 L1072.1 525.9 L1074.2 525.9 L1076.2 525.8 L1078.3 525.7 L1080.3 525.4 L1082.4 525.1 L1084.4 524.6 L1086.5 524.1 L1088.5 523.5 L1090.6 522.9 L1092.7 522.1 L1094.7 521.4 L1096.8 520.5 L1098.8 519.6 L1100.9 518.6 L1102.9 517.6 L1105 516.5 L1107.1 515.4 L1109.1 514.3 L1111.2 513.1 L1113.2 511.9 L1115.3 510.6 L1117.3 509.4 L1119.4 508.1 L1121.4 506.8 L1123.5 505.5 L1125.6 504.2 L1127.6 502.9 L1129.7 501.6 L1131.7 500.3 L1133.8 499 L1135.8 497.7 L1137.9 496.5 L1139.9 495.3 L1142 494.1 L1144.1 492.9 L1146.1 491.8 L1148.2 490.7 L1150.2 489.7 L1152.3 488.7 L1154.3 487.7 L1156.4 486.8 L1158.5 486 L1160.5 485.2 L1162.6 484.5 L1164.6 483.8 L1166.7 483.2 L1168.7 482.7 L1170.8 482.3 L1172.8 481.9 L1174.9 481.6 L1177 481.3 L1179 481.2 L1181.1 481.1 L1183.1 481.1 L1185.2 481.2 L1187.2 481.5 L1189.3 482 L1191.3 482.6 L1193.4 483.2 L1195.5 484 L1197.5 484.9 L1199.6 485.8 L1201.6 486.8 L1203.7 487.9 L1205.7 489 L1207.8 490.1 L1209.9 491.3 L1211.9 492.6 L1214 493.9 L1216 495.2 L1218.1 496.6 L1220.1 498 L1222.2 499.4 L1224.2 500.9 L1226.3 502.4 L1228.4 503.9 L1230.4 505.4 L1232.5 507 L1234.5 508.5 L1236.6 510.1 L1238.6 511.7 L1240.7 513.3 L1242.7 515 L1244.8 516.6 L1246.9 518.2 L1248.9 519.9 L1251 521.6 L1253 523.2 L1255.1 524.9 L1257.1 526.5 L1259.2 528.2 L1261.3 529.8 L1263.3 531.5 L1265.4 533.1 L1267.4 534.8 L1269.5 536.4 L1271.5 538 L1273.6 539.7 L1275.6 541.3 L1277.7 542.9 L1279.8 544.5 L1281.8 546.1 L1283.9 547.6 L1285.9 549.2 L1288 550.7 L1290 552.3 L1292.1 553.8 L1294.1 555.3 L1296.2 556.7 L1298.3 558.2 L1300.3 559.7 L1302.4 561.1 L1304.4 562.5 L1306.5 563.9 L1308.5 565.3 L1310.6 566.6 L1312.7 568 L1314.7 569.3 L1316.8 570.6 L1318.8 571.9 L1320.9 573.1 L1322.9 574.4 L1325 575.6 L1327 576.8 L1329.1 578 L1331.2 579.1 L1333.2 580.3 L1335.3 581.4 L1337.3 582.5 L1339.4 583.6 L1341.4 584.6 L1343.5 585.7 L1345.5 586.7 L1347.6 587.7 L1349.7 588.7 L1351.7 589.6 L1353.8 590.6 L1355.8 591.5 L1357.9 592.4 L1359.9 593.3 L1362 594.1 L1364.1 595 L1366.1 595.8 L1368.2 596.6 L1370.2 597.4 L1372.3 598.1 L1374.3 598.9 L1376.4 599.6 L1378.4 600.3 L1380.5 601 L1382.6 601.7 L1384.6 602.4 L1386.7 603 L1388.7 603.7 L1390.8 604.3 L1392.8 604.9 L1394.9 605.5 L1396.9 606 L1399 606.6 L1401.1 607.1 L1403.1 607.6 L1405.2 608.2 L1407.2 608.6 L1409.3 609.1 L1411.3 609.6 L1413.4 610.1 L1415.5 610.5 L1417.5 610.9 L1419.6 611.3 L1421.6 611.7 L1423.7 612.1 L1425.7 612.5 L1427.8 612.9 L1429.8 613.3 L1431.9 613.6 L1434 613.9 L1436 614.3 L1438.1 614.6 L1440.1 614.9 L1442.2 615.2 L1444.2 615.5 L1446.3 615.8 L1448.3 616 L1450.4 616.3 L1452.5 616.5 L1454.5 616.8 L1456.6 617 L1458.6 617.3 L1460.7 617.5 L1462.7 617.7 L1464.8 617.9 L1466.9 618.1 L1468.9 618.3 L1471 618.5 L1473 618.7 L1475.1 618.8 L1477.1 619 L1479.2 619.2 L1481.2 619.3 L1483.3 619.5 L1483.3 623.2 Z" fill="url(#spec)" stroke="#000" stroke-width="1.6" stroke-linejoin="round"/><line x1="866.5" y1="623.2" x2="1487.3" y2="623.2" stroke="#000" stroke-width="1.8"/></g>
<g transform="translate(176.4 -128.7)"><path d="M866.5 623.2 L866.5 527.2 L868.6 525.2 L870.6 523.2 L872.7 521.2 L874.7 519.2 L876.8 517.2 L878.8 515.2 L880.9 513.2 L882.9 511.2 L885 509.2 L887.1 507.2 L889.1 505.3 L891.2 503.3 L893.2 501.4 L895.3 499.5 L897.3 497.6 L899.4 495.7 L901.5 493.9 L903.5 492 L905.6 490.2 L907.6 488.4 L909.7 486.7 L911.7 485 L913.8 483.3 L915.8 481.6 L917.9 480 L920 478.4 L922 476.8 L924.1 475.3 L926.1 473.8 L928.2 472.4 L930.2 471 L932.3 469.6 L934.3 468.3 L936.4 467 L938.5 465.8 L940.5 464.6 L942.6 463.5 L944.6 462.4 L946.7 461.3 L948.7 460.3 L950.8 459.4 L952.9 458.5 L954.9 457.6 L957 456.8 L959 456 L961.1 455.3 L963.1 454.7 L965.2 454 L967.2 453.5 L969.3 452.9 L971.4 452.4 L973.4 452 L975.5 452 L977.5 452.6 L979.6 453.4 L981.6 454.5 L983.7 455.7 L985.7 457.2 L987.8 458.8 L989.9 460.6 L991.9 462.5 L994 464.4 L996 466.5 L998.1 468.6 L1000.1 470.7 L1002.2 472.9 L1004.3 475.1 L1006.3 477.4 L1008.4 479.6 L1010.4 481.8 L1012.5 484 L1014.5 486.2 L1016.6 488.4 L1018.6 490.5 L1020.7 492.5 L1022.8 494.5 L1024.8 496.4 L1026.9 498.3 L1028.9 500 L1031 501.7 L1033 503.3 L1035.1 504.8 L1037.1 506.2 L1039.2 507.5 L1041.3 508.7 L1043.3 509.8 L1045.4 510.8 L1047.4 511.7 L1049.5 512.5 L1051.5 513.1 L1053.6 513.6 L1055.7 514.1 L1057.7 514.4 L1059.8 514.6 L1061.8 514.7 L1063.9 514.6 L1065.9 514.5 L1068 514.2 L1070 513.9 L1072.1 513.4 L1074.2 512.8 L1076.2 512.1 L1078.3 511.4 L1080.3 510.5 L1082.4 509.5 L1084.4 508.5 L1086.5 507.3 L1088.5 506.1 L1090.6 504.8 L1092.7 503.4 L1094.7 502 L1096.8 500.5 L1098.8 498.9 L1100.9 497.2 L1102.9 495.6 L1105 493.8 L1107.1 492.1 L1109.1 490.2 L1111.2 488.4 L1113.2 486.5 L1115.3 484.6 L1117.3 482.7 L1119.4 480.8 L1121.4 478.9 L1123.5 476.9 L1125.6 475 L1127.6 473.1 L1129.7 471.2 L1131.7 469.3 L1133.8 467.5 L1135.8 465.7 L1137.9 463.9 L1139.9 462.1 L1142 460.4 L1144.1 458.8 L1146.1 457.1 L1148.2 455.6 L1150.2 454.1 L1152.3 452.7 L1154.3 451.4 L1156.4 450.1 L1158.5 448.9 L1160.5 447.8 L1162.6 446.8 L1164.6 445.8 L1166.7 445 L1168.7 444.2 L1170.8 443.5 L1172.8 443 L1174.9 442.5 L1177 442.1 L1179 441.9 L1181.1 441.7 L1183.1 441.6 L1185.2 441.7 L1187.2 442 L1189.3 442.5 L1191.3 443.2 L1193.4 444 L1195.5 444.9 L1197.5 445.9 L1199.6 446.9 L1201.6 448.1 L1203.7 449.3 L1205.7 450.6 L1207.8 452 L1209.9 453.4 L1211.9 454.9 L1214 456.4 L1216 458 L1218.1 459.6 L1220.1 461.3 L1222.2 463 L1224.2 464.8 L1226.3 466.5 L1228.4 468.3 L1230.4 470.2 L1232.5 472 L1234.5 473.9 L1236.6 475.8 L1238.6 477.8 L1240.7 479.7 L1242.7 481.7 L1244.8 483.7 L1246.9 485.7 L1248.9 487.7 L1251 489.7 L1253 491.7 L1255.1 493.7 L1257.1 495.7 L1259.2 497.8 L1261.3 499.8 L1263.3 501.8 L1265.4 503.8 L1267.4 505.9 L1269.5 507.9 L1271.5 509.9 L1273.6 511.9 L1275.6 513.9 L1277.7 515.9 L1279.8 517.8 L1281.8 519.8 L1283.9 521.8 L1285.9 523.7 L1288 525.6 L1290 527.5 L1292.1 529.4 L1294.1 531.3 L1296.2 533.2 L1298.3 535 L1300.3 536.8 L1302.4 538.6 L1304.4 540.4 L1306.5 542.2 L1308.5 543.9 L1310.6 545.7 L1312.7 547.4 L1314.7 549.1 L1316.8 550.7 L1318.8 552.4 L1320.9 554 L1322.9 555.6 L1325 557.1 L1327 558.7 L1329.1 560.2 L1331.2 561.7 L1333.2 563.2 L1335.3 564.6 L1337.3 566.1 L1339.4 567.5 L1341.4 568.9 L1343.5 570.2 L1345.5 571.6 L1347.6 572.9 L1349.7 574.2 L1351.7 575.4 L1353.8 576.7 L1355.8 577.9 L1357.9 579.1 L1359.9 580.2 L1362 581.4 L1364.1 582.5 L1366.1 583.6 L1368.2 584.7 L1370.2 585.8 L1372.3 586.8 L1374.3 587.8 L1376.4 588.8 L1378.4 589.8 L1380.5 590.7 L1382.6 591.6 L1384.6 592.5 L1386.7 593.4 L1388.7 594.3 L1390.8 595.1 L1392.8 596 L1394.9 596.8 L1396.9 597.6 L1399 598.3 L1401.1 599.1 L1403.1 599.8 L1405.2 600.5 L1407.2 601.2 L1409.3 601.9 L1411.3 602.5 L1413.4 603.2 L1415.5 603.8 L1417.5 604.4 L1419.6 605 L1421.6 605.6 L1423.7 606.2 L1425.7 606.7 L1427.8 607.2 L1429.8 607.8 L1431.9 608.3 L1434 608.7 L1436 609.2 L1438.1 609.7 L1440.1 610.1 L1442.2 610.6 L1444.2 611 L1446.3 611.4 L1448.3 611.8 L1450.4 612.2 L1452.5 612.6 L1454.5 612.9 L1456.6 613.3 L1458.6 613.6 L1460.7 614 L1462.7 614.3 L1464.8 614.6 L1466.9 614.9 L1468.9 615.2 L1471 615.5 L1473 615.8 L1475.1 616 L1477.1 616.3 L1479.2 616.5 L1481.2 616.8 L1483.3 617 L1483.3 623.2 Z" fill="url(#spec)" stroke="#000" stroke-width="1.6" stroke-linejoin="round"/><line x1="866.5" y1="623.2" x2="1487.3" y2="623.2" stroke="#000" stroke-width="1.8"/></g>
<g transform="translate(141.2 -103)"><path d="M866.5 623.2 L866.5 534.1 L868.6 532.1 L870.6 530.1 L872.7 528 L874.7 526 L876.8 524 L878.8 521.9 L880.9 519.9 L882.9 517.8 L885 515.8 L887.1 513.8 L889.1 511.7 L891.2 509.7 L893.2 507.7 L895.3 505.7 L897.3 503.7 L899.4 501.7 L901.5 499.7 L903.5 497.7 L905.6 495.8 L907.6 493.8 L909.7 491.9 L911.7 490.1 L913.8 488.2 L915.8 486.3 L917.9 484.5 L920 482.7 L922 481 L924.1 479.3 L926.1 477.6 L928.2 475.9 L930.2 474.3 L932.3 472.7 L934.3 471.1 L936.4 469.6 L938.5 468.1 L940.5 466.6 L942.6 465.2 L944.6 463.8 L946.7 462.5 L948.7 461.2 L950.8 459.9 L952.9 458.7 L954.9 457.5 L957 456.4 L959 455.3 L961.1 454.2 L963.1 453.2 L965.2 452.2 L967.2 451.3 L969.3 450.4 L971.4 449.5 L973.4 448.7 L975.5 447.9 L977.5 447.1 L979.6 446.4 L981.6 445.8 L983.7 445.6 L985.7 445.9 L987.8 446.6 L989.9 447.5 L991.9 448.6 L994 449.9 L996 451.4 L998.1 453 L1000.1 454.7 L1002.2 456.5 L1004.3 458.4 L1006.3 460.3 L1008.4 462.3 L1010.4 464.2 L1012.5 466.2 L1014.5 468.2 L1016.6 470.2 L1018.6 472.1 L1020.7 474.1 L1022.8 475.9 L1024.8 477.7 L1026.9 479.5 L1028.9 481.1 L1031 482.7 L1033 484.2 L1035.1 485.6 L1037.1 486.9 L1039.2 488.1 L1041.3 489.2 L1043.3 490.2 L1045.4 491.1 L1047.4 491.8 L1049.5 492.4 L1051.5 492.9 L1053.6 493.3 L1055.7 493.5 L1057.7 493.6 L1059.8 493.6 L1061.8 493.5 L1063.9 493.2 L1065.9 492.8 L1068 492.3 L1070 491.6 L1072.1 490.9 L1074.2 490 L1076.2 489 L1078.3 487.9 L1080.3 486.7 L1082.4 485.3 L1084.4 483.9 L1086.5 482.4 L1088.5 480.8 L1090.6 479 L1092.7 477.3 L1094.7 475.4 L1096.8 473.4 L1098.8 471.4 L1100.9 469.4 L1102.9 467.2 L1105 465.1 L1107.1 462.8 L1109.1 460.6 L1111.2 458.3 L1113.2 456 L1115.3 453.6 L1117.3 451.3 L1119.4 448.9 L1121.4 446.6 L1123.5 444.2 L1125.6 441.9 L1127.6 439.6 L1129.7 437.3 L1131.7 435 L1133.8 432.8 L1135.8 430.6 L1137.9 428.5 L1139.9 426.4 L1142 424.4 L1144.1 422.4 L1146.1 420.5 L1148.2 418.7 L1150.2 417 L1152.3 415.3 L1154.3 413.8 L1156.4 412.3 L1158.5 411 L1160.5 409.7 L1162.6 408.5 L1164.6 407.5 L1166.7 406.6 L1168.7 405.7 L1170.8 405 L1172.8 404.5 L1174.9 404 L1177 403.7 L1179 403.5 L1181.1 403.4 L1183.1 403.4 L1185.2 403.7 L1187.2 404.2 L1189.3 404.8 L1191.3 405.5 L1193.4 406.4 L1195.5 407.4 L1197.5 408.4 L1199.6 409.6 L1201.6 410.9 L1203.7 412.2 L1205.7 413.7 L1207.8 415.2 L1209.9 416.7 L1211.9 418.4 L1214 420.1 L1216 421.9 L1218.1 423.7 L1220.1 425.6 L1222.2 427.6 L1224.2 429.5 L1226.3 431.6 L1228.4 433.7 L1230.4 435.8 L1232.5 438 L1234.5 440.2 L1236.6 442.4 L1238.6 444.7 L1240.7 447 L1242.7 449.3 L1244.8 451.6 L1246.9 454 L1248.9 456.4 L1251 458.8 L1253 461.2 L1255.1 463.7 L1257.1 466.1 L1259.2 468.6 L1261.3 471 L1263.3 473.5 L1265.4 476 L1267.4 478.4 L1269.5 480.9 L1271.5 483.4 L1273.6 485.8 L1275.6 488.3 L1277.7 490.8 L1279.8 493.2 L1281.8 495.6 L1283.9 498.1 L1285.9 500.5 L1288 502.9 L1290 505.3 L1292.1 507.6 L1294.1 510 L1296.2 512.3 L1298.3 514.6 L1300.3 516.9 L1302.4 519.2 L1304.4 521.4 L1306.5 523.7 L1308.5 525.9 L1310.6 528 L1312.7 530.2 L1314.7 532.3 L1316.8 534.4 L1318.8 536.5 L1320.9 538.6 L1322.9 540.6 L1325 542.6 L1327 544.5 L1329.1 546.5 L1331.2 548.4 L1333.2 550.3 L1335.3 552.1 L1337.3 553.9 L1339.4 555.7 L1341.4 557.5 L1343.5 559.2 L1345.5 560.9 L1347.6 562.6 L1349.7 564.2 L1351.7 565.8 L1353.8 567.4 L1355.8 568.9 L1357.9 570.4 L1359.9 571.9 L1362 573.4 L1364.1 574.8 L1366.1 576.2 L1368.2 577.5 L1370.2 578.9 L1372.3 580.2 L1374.3 581.5 L1376.4 582.7 L1378.4 583.9 L1380.5 585.1 L1382.6 586.3 L1384.6 587.4 L1386.7 588.5 L1388.7 589.6 L1390.8 590.7 L1392.8 591.7 L1394.9 592.7 L1396.9 593.7 L1399 594.6 L1401.1 595.6 L1403.1 596.5 L1405.2 597.3 L1407.2 598.2 L1409.3 599 L1411.3 599.8 L1413.4 600.6 L1415.5 601.4 L1417.5 602.1 L1419.6 602.9 L1421.6 603.6 L1423.7 604.3 L1425.7 604.9 L1427.8 605.6 L1429.8 606.2 L1431.9 606.8 L1434 607.4 L1436 608 L1438.1 608.5 L1440.1 609 L1442.2 609.6 L1444.2 610.1 L1446.3 610.5 L1448.3 611 L1450.4 611.5 L1452.5 611.9 L1454.5 612.3 L1456.6 612.8 L1458.6 613.2 L1460.7 613.5 L1462.7 613.9 L1464.8 614.3 L1466.9 614.6 L1468.9 615 L1471 615.3 L1473 615.6 L1475.1 615.9 L1477.1 616.2 L1479.2 616.5 L1481.2 616.7 L1483.3 617 L1483.3 623.2 Z" fill="url(#spec)" stroke="#000" stroke-width="1.6" stroke-linejoin="round"/><line x1="866.5" y1="623.2" x2="1487.3" y2="623.2" stroke="#000" stroke-width="1.8"/></g>
<g transform="translate(105.9 -77.2)"><path d="M866.5 623.2 L866.5 540.3 L868.6 538.4 L870.6 536.4 L872.7 534.4 L874.7 532.5 L876.8 530.5 L878.8 528.5 L880.9 526.5 L882.9 524.5 L885 522.5 L887.1 520.5 L889.1 518.5 L891.2 516.5 L893.2 514.6 L895.3 512.6 L897.3 510.6 L899.4 508.6 L901.5 506.7 L903.5 504.7 L905.6 502.8 L907.6 500.9 L909.7 498.9 L911.7 497 L913.8 495.2 L915.8 493.3 L917.9 491.5 L920 489.7 L922 487.9 L924.1 486.1 L926.1 484.4 L928.2 482.7 L930.2 481 L932.3 479.3 L934.3 477.7 L936.4 476.1 L938.5 474.5 L940.5 473 L942.6 471.5 L944.6 470 L946.7 468.6 L948.7 467.2 L950.8 465.9 L952.9 464.5 L954.9 463.2 L957 462 L959 460.8 L961.1 459.6 L963.1 458.4 L965.2 457.3 L967.2 456.2 L969.3 455.2 L971.4 454.2 L973.4 453.2 L975.5 452.3 L977.5 451.3 L979.6 450.4 L981.6 449.6 L983.7 448.8 L985.7 448 L987.8 447.7 L989.9 447.9 L991.9 448.5 L994 449.3 L996 450.4 L998.1 451.6 L1000.1 453 L1002.2 454.5 L1004.3 456.2 L1006.3 457.9 L1008.4 459.6 L1010.4 461.5 L1012.5 463.3 L1014.5 465.2 L1016.6 467 L1018.6 468.8 L1020.7 470.6 L1022.8 472.4 L1024.8 474.1 L1026.9 475.8 L1028.9 477.4 L1031 478.9 L1033 480.3 L1035.1 481.6 L1037.1 482.8 L1039.2 483.9 L1041.3 484.9 L1043.3 485.7 L1045.4 486.5 L1047.4 487.1 L1049.5 487.5 L1051.5 487.9 L1053.6 488.1 L1055.7 488.1 L1057.7 488.1 L1059.8 487.9 L1061.8 487.5 L1063.9 487 L1065.9 486.4 L1068 485.6 L1070 484.7 L1072.1 483.6 L1074.2 482.5 L1076.2 481.2 L1078.3 479.7 L1080.3 478.2 L1082.4 476.5 L1084.4 474.7 L1086.5 472.8 L1088.5 470.9 L1090.6 468.8 L1092.7 466.6 L1094.7 464.3 L1096.8 462 L1098.8 459.5 L1100.9 457 L1102.9 454.5 L1105 451.9 L1107.1 449.2 L1109.1 446.5 L1111.2 443.7 L1113.2 440.9 L1115.3 438.1 L1117.3 435.3 L1119.4 432.5 L1121.4 429.7 L1123.5 426.9 L1125.6 424 L1127.6 421.3 L1129.7 418.5 L1131.7 415.8 L1133.8 413.1 L1135.8 410.4 L1137.9 407.8 L1139.9 405.3 L1142 402.8 L1144.1 400.5 L1146.1 398.1 L1148.2 395.9 L1150.2 393.8 L1152.3 391.7 L1154.3 389.8 L1156.4 388 L1158.5 386.2 L1160.5 384.6 L1162.6 383.1 L1164.6 381.8 L1166.7 380.5 L1168.7 379.4 L1170.8 378.4 L1172.8 377.6 L1174.9 376.9 L1177 376.3 L1179 375.9 L1181.1 375.6 L1183.1 375.5 L1185.2 375.5 L1187.2 375.8 L1189.3 376.2 L1191.3 376.9 L1193.4 377.7 L1195.5 378.6 L1197.5 379.6 L1199.6 380.8 L1201.6 382 L1203.7 383.4 L1205.7 384.9 L1207.8 386.4 L1209.9 388 L1211.9 389.7 L1214 391.5 L1216 393.4 L1218.1 395.3 L1220.1 397.3 L1222.2 399.3 L1224.2 401.5 L1226.3 403.6 L1228.4 405.9 L1230.4 408.1 L1232.5 410.5 L1234.5 412.8 L1236.6 415.2 L1238.6 417.7 L1240.7 420.2 L1242.7 422.7 L1244.8 425.2 L1246.9 427.8 L1248.9 430.4 L1251 433 L1253 435.7 L1255.1 438.3 L1257.1 441 L1259.2 443.7 L1261.3 446.4 L1263.3 449.1 L1265.4 451.8 L1267.4 454.6 L1269.5 457.3 L1271.5 460 L1273.6 462.7 L1275.6 465.5 L1277.7 468.2 L1279.8 470.9 L1281.8 473.6 L1283.9 476.3 L1285.9 479 L1288 481.7 L1290 484.4 L1292.1 487 L1294.1 489.6 L1296.2 492.3 L1298.3 494.9 L1300.3 497.4 L1302.4 500 L1304.4 502.5 L1306.5 505.1 L1308.5 507.6 L1310.6 510 L1312.7 512.5 L1314.7 514.9 L1316.8 517.3 L1318.8 519.6 L1320.9 522 L1322.9 524.3 L1325 526.6 L1327 528.8 L1329.1 531 L1331.2 533.2 L1333.2 535.4 L1335.3 537.5 L1337.3 539.6 L1339.4 541.7 L1341.4 543.7 L1343.5 545.7 L1345.5 547.6 L1347.6 549.6 L1349.7 551.5 L1351.7 553.3 L1353.8 555.2 L1355.8 557 L1357.9 558.7 L1359.9 560.5 L1362 562.2 L1364.1 563.8 L1366.1 565.5 L1368.2 567.1 L1370.2 568.7 L1372.3 570.2 L1374.3 571.7 L1376.4 573.2 L1378.4 574.6 L1380.5 576 L1382.6 577.4 L1384.6 578.8 L1386.7 580.1 L1388.7 581.4 L1390.8 582.6 L1392.8 583.9 L1394.9 585.1 L1396.9 586.2 L1399 587.4 L1401.1 588.5 L1403.1 589.6 L1405.2 590.6 L1407.2 591.7 L1409.3 592.7 L1411.3 593.7 L1413.4 594.6 L1415.5 595.5 L1417.5 596.5 L1419.6 597.3 L1421.6 598.2 L1423.7 599 L1425.7 599.8 L1427.8 600.6 L1429.8 601.4 L1431.9 602.1 L1434 602.9 L1436 603.6 L1438.1 604.2 L1440.1 604.9 L1442.2 605.6 L1444.2 606.2 L1446.3 606.8 L1448.3 607.4 L1450.4 607.9 L1452.5 608.5 L1454.5 609 L1456.6 609.5 L1458.6 610 L1460.7 610.5 L1462.7 611 L1464.8 611.4 L1466.9 611.9 L1468.9 612.3 L1471 612.7 L1473 613.1 L1475.1 613.5 L1477.1 613.9 L1479.2 614.2 L1481.2 614.6 L1483.3 614.9 L1483.3 623.2 Z" fill="url(#spec)" stroke="#000" stroke-width="1.6" stroke-linejoin="round"/><line x1="866.5" y1="623.2" x2="1487.3" y2="623.2" stroke="#000" stroke-width="1.8"/></g>
<g transform="translate(70.6 -51.5)"><path d="M866.5 623.2 L866.5 550.8 L868.6 548.9 L870.6 547 L872.7 545 L874.7 543.1 L876.8 541.1 L878.8 539.1 L880.9 537.1 L882.9 535.1 L885 533.1 L887.1 531.1 L889.1 529.1 L891.2 527 L893.2 525 L895.3 523 L897.3 520.9 L899.4 518.9 L901.5 516.9 L903.5 514.8 L905.6 512.8 L907.6 510.8 L909.7 508.8 L911.7 506.8 L913.8 504.8 L915.8 502.9 L917.9 500.9 L920 499 L922 497.1 L924.1 495.2 L926.1 493.3 L928.2 491.4 L930.2 489.6 L932.3 487.8 L934.3 486 L936.4 484.2 L938.5 482.5 L940.5 480.8 L942.6 479.2 L944.6 477.5 L946.7 475.9 L948.7 474.3 L950.8 472.8 L952.9 471.3 L954.9 469.8 L957 468.4 L959 467 L961.1 465.6 L963.1 464.2 L965.2 462.9 L967.2 461.7 L969.3 460.4 L971.4 459.2 L973.4 458 L975.5 456.9 L977.5 455.8 L979.6 454.7 L981.6 453.7 L983.7 452.6 L985.7 451.6 L987.8 450.7 L989.9 449.7 L991.9 449.3 L994 449.5 L996 450.1 L998.1 451 L1000.1 452.1 L1002.2 453.4 L1004.3 454.9 L1006.3 456.5 L1008.4 458.2 L1010.4 460 L1012.5 461.9 L1014.5 463.7 L1016.6 465.6 L1018.6 467.5 L1020.7 469.4 L1022.8 471.2 L1024.8 473 L1026.9 474.7 L1028.9 476.3 L1031 477.9 L1033 479.3 L1035.1 480.7 L1037.1 481.9 L1039.2 483 L1041.3 483.9 L1043.3 484.7 L1045.4 485.4 L1047.4 485.9 L1049.5 486.3 L1051.5 486.5 L1053.6 486.5 L1055.7 486.4 L1057.7 486.1 L1059.8 485.6 L1061.8 485 L1063.9 484.3 L1065.9 483.3 L1068 482.2 L1070 481 L1072.1 479.5 L1074.2 478 L1076.2 476.3 L1078.3 474.4 L1080.3 472.4 L1082.4 470.3 L1084.4 468 L1086.5 465.6 L1088.5 463.1 L1090.6 460.5 L1092.7 457.8 L1094.7 454.9 L1096.8 452 L1098.8 449 L1100.9 445.9 L1102.9 442.8 L1105 439.5 L1107.1 436.2 L1109.1 432.9 L1111.2 429.5 L1113.2 426.1 L1115.3 422.7 L1117.3 419.3 L1119.4 415.8 L1121.4 412.3 L1123.5 408.9 L1125.6 405.5 L1127.6 402 L1129.7 398.7 L1131.7 395.3 L1133.8 392 L1135.8 388.8 L1137.9 385.6 L1139.9 382.5 L1142 379.4 L1144.1 376.5 L1146.1 373.6 L1148.2 370.8 L1150.2 368.2 L1152.3 365.6 L1154.3 363.2 L1156.4 360.8 L1158.5 358.6 L1160.5 356.6 L1162.6 354.6 L1164.6 352.8 L1166.7 351.2 L1168.7 349.7 L1170.8 348.4 L1172.8 347.2 L1174.9 346.1 L1177 345.3 L1179 344.6 L1181.1 344 L1183.1 343.6 L1185.2 343.4 L1187.2 343.4 L1189.3 343.6 L1191.3 344.1 L1193.4 344.8 L1195.5 345.6 L1197.5 346.6 L1199.6 347.7 L1201.6 348.9 L1203.7 350.3 L1205.7 351.7 L1207.8 353.3 L1209.9 354.9 L1211.9 356.7 L1214 358.5 L1216 360.5 L1218.1 362.5 L1220.1 364.6 L1222.2 366.8 L1224.2 369 L1226.3 371.3 L1228.4 373.7 L1230.4 376.1 L1232.5 378.6 L1234.5 381.1 L1236.6 383.7 L1238.6 386.4 L1240.7 389 L1242.7 391.8 L1244.8 394.5 L1246.9 397.3 L1248.9 400.2 L1251 403 L1253 405.9 L1255.1 408.8 L1257.1 411.7 L1259.2 414.7 L1261.3 417.7 L1263.3 420.7 L1265.4 423.6 L1267.4 426.7 L1269.5 429.7 L1271.5 432.7 L1273.6 435.7 L1275.6 438.7 L1277.7 441.8 L1279.8 444.8 L1281.8 447.8 L1283.9 450.8 L1285.9 453.8 L1288 456.8 L1290 459.8 L1292.1 462.8 L1294.1 465.7 L1296.2 468.7 L1298.3 471.6 L1300.3 474.5 L1302.4 477.4 L1304.4 480.2 L1306.5 483.1 L1308.5 485.9 L1310.6 488.7 L1312.7 491.5 L1314.7 494.2 L1316.8 496.9 L1318.8 499.6 L1320.9 502.3 L1322.9 504.9 L1325 507.5 L1327 510.1 L1329.1 512.6 L1331.2 515.2 L1333.2 517.6 L1335.3 520.1 L1337.3 522.5 L1339.4 524.9 L1341.4 527.2 L1343.5 529.5 L1345.5 531.8 L1347.6 534 L1349.7 536.2 L1351.7 538.4 L1353.8 540.5 L1355.8 542.6 L1357.9 544.7 L1359.9 546.7 L1362 548.7 L1364.1 550.6 L1366.1 552.5 L1368.2 554.4 L1370.2 556.3 L1372.3 558.1 L1374.3 559.8 L1376.4 561.6 L1378.4 563.3 L1380.5 564.9 L1382.6 566.6 L1384.6 568.2 L1386.7 569.7 L1388.7 571.3 L1390.8 572.8 L1392.8 574.2 L1394.9 575.7 L1396.9 577.1 L1399 578.4 L1401.1 579.8 L1403.1 581.1 L1405.2 582.4 L1407.2 583.6 L1409.3 584.8 L1411.3 586 L1413.4 587.2 L1415.5 588.3 L1417.5 589.4 L1419.6 590.5 L1421.6 591.5 L1423.7 592.5 L1425.7 593.5 L1427.8 594.5 L1429.8 595.4 L1431.9 596.3 L1434 597.2 L1436 598.1 L1438.1 598.9 L1440.1 599.7 L1442.2 600.5 L1444.2 601.3 L1446.3 602 L1448.3 602.7 L1450.4 603.5 L1452.5 604.1 L1454.5 604.8 L1456.6 605.4 L1458.6 606.1 L1460.7 606.7 L1462.7 607.3 L1464.8 607.8 L1466.9 608.4 L1468.9 608.9 L1471 609.4 L1473 609.9 L1475.1 610.4 L1477.1 610.9 L1479.2 611.4 L1481.2 611.8 L1483.3 612.2 L1483.3 623.2 Z" fill="url(#spec)" stroke="#000" stroke-width="1.6" stroke-linejoin="round"/><line x1="866.5" y1="623.2" x2="1487.3" y2="623.2" stroke="#000" stroke-width="1.8"/></g>
<g transform="translate(35.3 -25.7)"><path d="M866.5 623.2 L866.5 569 L868.6 567.2 L870.6 565.4 L872.7 563.6 L874.7 561.7 L876.8 559.9 L878.8 558 L880.9 556 L882.9 554.1 L885 552.1 L887.1 550.1 L889.1 548.1 L891.2 546 L893.2 544 L895.3 541.9 L897.3 539.8 L899.4 537.7 L901.5 535.6 L903.5 533.5 L905.6 531.3 L907.6 529.2 L909.7 527 L911.7 524.9 L913.8 522.7 L915.8 520.5 L917.9 518.4 L920 516.2 L922 514 L924.1 511.9 L926.1 509.7 L928.2 507.6 L930.2 505.5 L932.3 503.4 L934.3 501.3 L936.4 499.2 L938.5 497.1 L940.5 495 L942.6 493 L944.6 491 L946.7 489 L948.7 487 L950.8 485.1 L952.9 483.1 L954.9 481.2 L957 479.4 L959 477.5 L961.1 475.7 L963.1 473.9 L965.2 472.1 L967.2 470.4 L969.3 468.7 L971.4 467 L973.4 465.3 L975.5 463.7 L977.5 462.1 L979.6 460.5 L981.6 459 L983.7 457.5 L985.7 456 L987.8 454.5 L989.9 453.1 L991.9 451.6 L994 450.2 L996 448.9 L998.1 447.5 L1000.1 446.1 L1002.2 445.6 L1004.3 445.8 L1006.3 446.5 L1008.4 447.7 L1010.4 449.1 L1012.5 450.7 L1014.5 452.6 L1016.6 454.6 L1018.6 456.7 L1020.7 458.9 L1022.8 461.1 L1024.8 463.3 L1026.9 465.5 L1028.9 467.6 L1031 469.6 L1033 471.6 L1035.1 473.4 L1037.1 475.1 L1039.2 476.6 L1041.3 478 L1043.3 479.2 L1045.4 480.2 L1047.4 481 L1049.5 481.6 L1051.5 481.9 L1053.6 482.1 L1055.7 482.1 L1057.7 481.8 L1059.8 481.3 L1061.8 480.6 L1063.9 479.7 L1065.9 478.6 L1068 477.2 L1070 475.7 L1072.1 473.9 L1074.2 472 L1076.2 469.9 L1078.3 467.5 L1080.3 465 L1082.4 462.4 L1084.4 459.5 L1086.5 456.6 L1088.5 453.4 L1090.6 450.2 L1092.7 446.8 L1094.7 443.2 L1096.8 439.6 L1098.8 435.9 L1100.9 432.1 L1102.9 428.2 L1105 424.2 L1107.1 420.2 L1109.1 416.1 L1111.2 412 L1113.2 407.9 L1115.3 403.7 L1117.3 399.5 L1119.4 395.3 L1121.4 391.2 L1123.5 387 L1125.6 382.9 L1127.6 378.8 L1129.7 374.7 L1131.7 370.7 L1133.8 366.8 L1135.8 362.9 L1137.9 359.1 L1139.9 355.4 L1142 351.8 L1144.1 348.3 L1146.1 344.9 L1148.2 341.6 L1150.2 338.4 L1152.3 335.4 L1154.3 332.5 L1156.4 329.8 L1158.5 327.2 L1160.5 324.7 L1162.6 322.5 L1164.6 320.3 L1166.7 318.4 L1168.7 316.6 L1170.8 315 L1172.8 313.6 L1174.9 312.4 L1177 311.3 L1179 310.5 L1181.1 309.8 L1183.1 309.3 L1185.2 309.1 L1187.2 309 L1189.3 309.2 L1191.3 309.7 L1193.4 310.4 L1195.5 311.3 L1197.5 312.4 L1199.6 313.6 L1201.6 314.9 L1203.7 316.4 L1205.7 318 L1207.8 319.8 L1209.9 321.6 L1211.9 323.6 L1214 325.7 L1216 327.8 L1218.1 330.1 L1220.1 332.4 L1222.2 334.9 L1224.2 337.4 L1226.3 340 L1228.4 342.6 L1230.4 345.3 L1232.5 348.1 L1234.5 351 L1236.6 353.9 L1238.6 356.8 L1240.7 359.9 L1242.7 362.9 L1244.8 366 L1246.9 369.2 L1248.9 372.3 L1251 375.6 L1253 378.8 L1255.1 382.1 L1257.1 385.4 L1259.2 388.7 L1261.3 392 L1263.3 395.4 L1265.4 398.8 L1267.4 402.1 L1269.5 405.5 L1271.5 408.9 L1273.6 412.3 L1275.6 415.7 L1277.7 419.1 L1279.8 422.5 L1281.8 425.9 L1283.9 429.3 L1285.9 432.7 L1288 436 L1290 439.4 L1292.1 442.7 L1294.1 446.1 L1296.2 449.4 L1298.3 452.7 L1300.3 455.9 L1302.4 459.2 L1304.4 462.4 L1306.5 465.6 L1308.5 468.8 L1310.6 471.9 L1312.7 475 L1314.7 478.1 L1316.8 481.2 L1318.8 484.2 L1320.9 487.2 L1322.9 490.2 L1325 493.1 L1327 496 L1329.1 498.8 L1331.2 501.7 L1333.2 504.5 L1335.3 507.2 L1337.3 509.9 L1339.4 512.6 L1341.4 515.2 L1343.5 517.8 L1345.5 520.4 L1347.6 522.9 L1349.7 525.4 L1351.7 527.8 L1353.8 530.2 L1355.8 532.5 L1357.9 534.9 L1359.9 537.1 L1362 539.4 L1364.1 541.6 L1366.1 543.7 L1368.2 545.8 L1370.2 547.9 L1372.3 549.9 L1374.3 551.9 L1376.4 553.9 L1378.4 555.8 L1380.5 557.7 L1382.6 559.5 L1384.6 561.3 L1386.7 563.1 L1388.7 564.8 L1390.8 566.5 L1392.8 568.1 L1394.9 569.7 L1396.9 571.3 L1399 572.9 L1401.1 574.4 L1403.1 575.8 L1405.2 577.3 L1407.2 578.7 L1409.3 580 L1411.3 581.4 L1413.4 582.7 L1415.5 583.9 L1417.5 585.2 L1419.6 586.4 L1421.6 587.5 L1423.7 588.7 L1425.7 589.8 L1427.8 590.9 L1429.8 591.9 L1431.9 593 L1434 594 L1436 594.9 L1438.1 595.9 L1440.1 596.8 L1442.2 597.7 L1444.2 598.5 L1446.3 599.4 L1448.3 600.2 L1450.4 601 L1452.5 601.8 L1454.5 602.5 L1456.6 603.2 L1458.6 603.9 L1460.7 604.6 L1462.7 605.3 L1464.8 605.9 L1466.9 606.5 L1468.9 607.1 L1471 607.7 L1473 608.3 L1475.1 608.8 L1477.1 609.4 L1479.2 609.9 L1481.2 610.4 L1483.3 610.9 L1483.3 623.2 Z" fill="url(#spec)" stroke="#000" stroke-width="1.6" stroke-linejoin="round"/><line x1="866.5" y1="623.2" x2="1487.3" y2="623.2" stroke="#000" stroke-width="1.8"/></g>
<g transform="translate(0 -0)"><path d="M868.6 623.2 L868.6 619.5 L870.6 618.9 L872.7 618.3 L874.7 617.7 L876.8 616.9 L878.8 616.1 L880.9 615.1 L882.9 614.1 L885 612.9 L887.1 611.6 L889.1 610.2 L891.2 608.7 L893.2 607 L895.3 605.2 L897.3 603.2 L899.4 601 L901.5 598.6 L903.5 596.1 L905.6 593.4 L907.6 590.4 L909.7 587.3 L911.7 583.9 L913.8 580.3 L915.8 576.5 L917.9 572.5 L920 568.2 L922 563.7 L924.1 559 L926.1 554.1 L928.2 549 L930.2 543.7 L932.3 538.2 L934.3 532.5 L936.4 526.7 L938.5 520.7 L940.5 514.6 L942.6 508.4 L944.6 502.2 L946.7 495.8 L948.7 489.5 L950.8 483.1 L952.9 476.8 L954.9 470.5 L957 464.3 L959 458.2 L961.1 452.3 L963.1 446.6 L965.2 441.1 L967.2 435.9 L969.3 431 L971.4 426.3 L973.4 422 L975.5 418.1 L977.5 414.6 L979.6 411.5 L981.6 408.8 L983.7 406.6 L985.7 404.9 L987.8 403.7 L989.9 402.9 L991.9 402.7 L994 403 L996 403.6 L998.1 404.4 L1000.1 405.4 L1002.2 406.6 L1004.3 407.9 L1006.3 409.4 L1008.4 410.9 L1010.4 412.6 L1012.5 414.4 L1014.5 416.2 L1016.6 418.2 L1018.6 420.2 L1020.7 422.3 L1022.8 424.5 L1024.8 426.7 L1026.9 429 L1028.9 431.4 L1031 433.8 L1033 436.2 L1035.1 438.7 L1037.1 441.2 L1039.2 443.8 L1041.3 446.4 L1043.3 449 L1045.4 451.6 L1047.4 454.3 L1049.5 457 L1051.5 459.7 L1053.6 462.4 L1055.7 465.1 L1057.7 467.8 L1059.8 470.5 L1061.8 473.2 L1063.9 475.9 L1065.9 478.7 L1068 481.4 L1070 484.1 L1072.1 486.8 L1074.2 489.5 L1076.2 492.1 L1078.3 494.8 L1080.3 497.4 L1082.4 500 L1084.4 502.6 L1086.5 505.2 L1088.5 507.8 L1090.6 510.3 L1092.7 512.8 L1094.7 515.3 L1096.8 517.7 L1098.8 520.2 L1100.9 522.6 L1102.9 524.9 L1105 527.3 L1107.1 529.6 L1109.1 531.8 L1111.2 534.1 L1113.2 536.3 L1115.3 538.5 L1117.3 540.6 L1119.4 542.7 L1121.4 544.8 L1123.5 546.8 L1125.6 548.9 L1127.6 550.8 L1129.7 552.8 L1131.7 554.7 L1133.8 556.5 L1135.8 558.4 L1137.9 560.2 L1139.9 561.9 L1142 563.7 L1144.1 565.3 L1146.1 567 L1148.2 568.6 L1150.2 570.2 L1152.3 571.8 L1154.3 573.3 L1156.4 574.8 L1158.5 576.2 L1160.5 577.6 L1162.6 579 L1164.6 580.4 L1166.7 581.7 L1168.7 583 L1170.8 584.2 L1172.8 585.5 L1174.9 586.7 L1177 587.8 L1179 589 L1181.1 590.1 L1183.1 591.1 L1185.2 592.2 L1187.2 593.2 L1189.3 594.2 L1191.3 595.2 L1193.4 596.1 L1195.5 597 L1197.5 597.9 L1199.6 598.8 L1201.6 599.6 L1203.7 600.4 L1205.7 601.2 L1207.8 602 L1209.9 602.7 L1211.9 603.5 L1214 604.2 L1216 604.8 L1218.1 605.5 L1220.1 606.1 L1222.2 606.8 L1224.2 607.4 L1226.3 607.9 L1228.4 608.5 L1230.4 609.1 L1232.5 609.6 L1234.5 610.1 L1236.6 610.6 L1238.6 611.1 L1240.7 611.5 L1242.7 612 L1244.8 612.4 L1246.9 612.8 L1248.9 613.2 L1251 613.6 L1253 614 L1255.1 614.3 L1257.1 614.7 L1259.2 615 L1261.3 615.4 L1263.3 615.7 L1265.4 616 L1267.4 616.3 L1269.5 616.5 L1271.5 616.8 L1273.6 617.1 L1275.6 617.3 L1277.7 617.6 L1279.8 617.8 L1281.8 618 L1283.9 618.2 L1285.9 618.5 L1288 618.7 L1290 618.8 L1292.1 619 L1294.1 619.2 L1296.2 619.4 L1298.3 619.5 L1300.3 619.7 L1302.4 619.9 L1304.4 620 L1306.5 620.1 L1308.5 620.3 L1310.6 620.4 L1312.7 620.5 L1314.7 620.6 L1316.8 620.8 L1318.8 620.9 L1320.9 621 L1322.9 621.1 L1325 621.2 L1327 621.3 L1329.1 621.3 L1331.2 621.4 L1333.2 621.5 L1335.3 621.6 L1337.3 621.7 L1339.4 621.7 L1341.4 621.8 L1343.5 621.9 L1345.5 621.9 L1347.6 622 L1349.7 622 L1351.7 622.1 L1353.8 622.2 L1355.8 622.2 L1357.9 622.3 L1359.9 622.3 L1362 622.3 L1364.1 622.4 L1366.1 622.4 L1368.2 622.5 L1370.2 622.5 L1372.3 622.5 L1374.3 622.6 L1376.4 622.6 L1378.4 622.6 L1380.5 622.7 L1382.6 622.7 L1384.6 622.7 L1386.7 622.7 L1388.7 622.8 L1390.8 622.8 L1392.8 622.8 L1394.9 622.8 L1396.9 622.8 L1399 622.9 L1401.1 622.9 L1403.1 622.9 L1405.2 622.9 L1407.2 622.9 L1409.3 622.9 L1411.3 622.9 L1413.4 623 L1415.5 623 L1417.5 623 L1419.6 623 L1421.6 623 L1423.7 623 L1425.7 623 L1427.8 623 L1429.8 623 L1431.9 623.1 L1434 623.1 L1436 623.1 L1438.1 623.1 L1440.1 623.1 L1442.2 623.1 L1444.2 623.1 L1446.3 623.1 L1448.3 623.1 L1450.4 623.1 L1452.5 623.1 L1454.5 623.1 L1456.6 623.1 L1458.6 623.1 L1460.7 623.1 L1462.7 623.1 L1464.8 623.1 L1466.9 623.1 L1468.9 623.1 L1471 623.1 L1473 623.2 L1475.1 623.2 L1477.1 623.2 L1479.2 623.2 L1481.2 623.2 L1483.3 623.2 L1483.3 623.2 Z" fill="url(#spec)" stroke="#000" stroke-width="1.6" stroke-linejoin="round"/><line x1="868.6" y1="623.2" x2="1487.3" y2="623.2" stroke="#000" stroke-width="1.8"/></g>
<path d="M830.5 638 V348.8 L1250.5 40.5 H1887 V327" fill="none" stroke="#000" stroke-width="2.6" stroke-linejoin="miter"/>
<path d="M829.2 636.9 H1467.3 L1887 327" fill="none" stroke="#000" stroke-width="2.6"/>
<path d="M830.2 636.9 V641.5 M850.8 636.9 V645.3 M871.4 636.9 V641.5 M891.9 636.9 V641.5 M912.5 636.9 V641.5 M933 636.9 V641.5 M953.6 636.9 V645.3 M974.2 636.9 V641.5 M994.7 636.9 V641.5 M1015.3 636.9 V641.5 M1035.8 636.9 V641.5 M1056.4 636.9 V645.3 M1077 636.9 V641.5 M1097.5 636.9 V641.5 M1118.1 636.9 V641.5 M1138.6 636.9 V641.5 M1159.2 636.9 V645.3 M1179.8 636.9 V641.5 M1200.3 636.9 V641.5 M1220.9 636.9 V641.5 M1241.4 636.9 V641.5 M1262 636.9 V645.3 M1282.6 636.9 V641.5 M1303.1 636.9 V641.5 M1323.7 636.9 V641.5 M1344.2 636.9 V641.5 M1364.8 636.9 V645.3 M1385.4 636.9 V641.5 M1405.9 636.9 V641.5 M1426.5 636.9 V641.5 M1447 636.9 V641.5 M1467.6 636.9 V645.3" stroke="#000" stroke-width="2.4"/>
<text x="850.8" y="675.4" font-size="25.5" font-weight="bold" text-anchor="middle" fill="#000" font-family="'Liberation Sans', Arial, Helvetica, sans-serif">400</text>
<text x="953.6" y="675.4" font-size="25.5" font-weight="bold" text-anchor="middle" fill="#000" font-family="'Liberation Sans', Arial, Helvetica, sans-serif">450</text>
<text x="1056.4" y="675.4" font-size="25.5" font-weight="bold" text-anchor="middle" fill="#000" font-family="'Liberation Sans', Arial, Helvetica, sans-serif">500</text>
<text x="1159.2" y="675.4" font-size="25.5" font-weight="bold" text-anchor="middle" fill="#000" font-family="'Liberation Sans', Arial, Helvetica, sans-serif">550</text>
<text x="1262" y="675.4" font-size="25.5" font-weight="bold" text-anchor="middle" fill="#000" font-family="'Liberation Sans', Arial, Helvetica, sans-serif">600</text>
<text x="1364.8" y="675.4" font-size="25.5" font-weight="bold" text-anchor="middle" fill="#000" font-family="'Liberation Sans', Arial, Helvetica, sans-serif">650</text>
<text x="1467.6" y="675.4" font-size="25.5" font-weight="bold" text-anchor="middle" fill="#000" font-family="'Liberation Sans', Arial, Helvetica, sans-serif">700</text>
<text x="1148" y="708.2" font-size="25.2" font-weight="bold" text-anchor="middle" fill="#000" font-family="'Liberation Sans', Arial, Helvetica, sans-serif">Wavelength (nm)</text>
<path d="M1887 327 H1895 M1887 315.6 H1891.5 M1887 304.2 H1891.5 M1887 292.8 H1891.5 M1887 281.4 H1891.5 M1887 270 H1895 M1887 258.6 H1891.5 M1887 247.2 H1891.5 M1887 235.8 H1891.5 M1887 224.4 H1891.5 M1887 213 H1895 M1887 201.6 H1891.5 M1887 190.2 H1891.5 M1887 178.8 H1891.5 M1887 167.4 H1891.5 M1887 156 H1895 M1887 144.6 H1891.5 M1887 133.2 H1891.5 M1887 121.8 H1891.5 M1887 110.4 H1891.5 M1887 99 H1895 M1887 87.6 H1891.5 M1887 76.2 H1891.5 M1887 64.8 H1891.5 M1887 53.4 H1891.5 M1887 42 H1895" stroke="#000" stroke-width="2.2"/>
<text x="1907.5" y="279.1" font-size="25.5" font-weight="bold" fill="#000" font-family="'Liberation Sans', Arial, Helvetica, sans-serif">260</text>
<text x="1907.5" y="222.1" font-size="25.5" font-weight="bold" fill="#000" font-family="'Liberation Sans', Arial, Helvetica, sans-serif">520</text>
<text x="1907.5" y="165.1" font-size="25.5" font-weight="bold" fill="#000" font-family="'Liberation Sans', Arial, Helvetica, sans-serif">780</text>
<text x="1907.5" y="108.1" font-size="25.5" font-weight="bold" fill="#000" font-family="'Liberation Sans', Arial, Helvetica, sans-serif">1040</text>
<text x="1907.5" y="51.1" font-size="25.5" font-weight="bold" fill="#000" font-family="'Liberation Sans', Arial, Helvetica, sans-serif">1300</text>
<text x="0" y="0" font-size="25" font-weight="bold" text-anchor="middle" fill="#000" font-family="'Liberation Sans', Arial, Helvetica, sans-serif" transform="translate(1994 185.5) rotate(-90)">Fluorescence intensity</text>
<line x1="1546" y1="620" x2="1870" y2="371" stroke="#000" stroke-width="6"/>
<path d="M1881.5 364 L1864.5 367 L1868.5 372 L1873.5 380.5 Z" fill="#000"/>
<text x="0" y="0" font-size="25.5" font-weight="bold" text-anchor="middle" fill="#000" font-family="'Liberation Sans', Arial, Helvetica, sans-serif" transform="translate(1731 527) rotate(-36.9)">Time (min)</text>
<text x="12" y="787" font-size="40" font-weight="bold" fill="#000" font-family="'Liberation Sans', Arial, Helvetica, sans-serif">c</text>
<rect x="97.6" y="813.3" width="584.7" height="476.3" fill="none" stroke="#000" stroke-width="2.3"/>
<line x1="90" y1="1289.6" x2="97.6" y2="1289.6" stroke="#000" stroke-width="2.2"/>
<line x1="93.1" y1="1237.8" x2="97.6" y2="1237.8" stroke="#000" stroke-width="2.2"/>
<line x1="90" y1="1186" x2="97.6" y2="1186" stroke="#000" stroke-width="2.2"/>
<line x1="93.1" y1="1134.2" x2="97.6" y2="1134.2" stroke="#000" stroke-width="2.2"/>
<line x1="90" y1="1082.4" x2="97.6" y2="1082.4" stroke="#000" stroke-width="2.2"/>
<line x1="93.1" y1="1030.7" x2="97.6" y2="1030.7" stroke="#000" stroke-width="2.2"/>
<line x1="90" y1="978.9" x2="97.6" y2="978.9" stroke="#000" stroke-width="2.2"/>
<line x1="93.1" y1="927.1" x2="97.6" y2="927.1" stroke="#000" stroke-width="2.2"/>
<line x1="90" y1="875.3" x2="97.6" y2="875.3" stroke="#000" stroke-width="2.2"/>
<line x1="93.1" y1="823.5" x2="97.6" y2="823.5" stroke="#000" stroke-width="2.2"/>
<text x="77.5" y="1297.8" font-size="25" font-weight="bold" text-anchor="end" fill="#000" font-family="'Liberation Sans', Arial, Helvetica, sans-serif">0.0</text>
<text x="77.5" y="1194.2" font-size="25" font-weight="bold" text-anchor="end" fill="#000" font-family="'Liberation Sans', Arial, Helvetica, sans-serif">0.5</text>
<text x="77.5" y="1090.6" font-size="25" font-weight="bold" text-anchor="end" fill="#000" font-family="'Liberation Sans', Arial, Helvetica, sans-serif">1.0</text>
<text x="77.5" y="987.1" font-size="25" font-weight="bold" text-anchor="end" fill="#000" font-family="'Liberation Sans', Arial, Helvetica, sans-serif">1.5</text>
<text x="77.5" y="883.5" font-size="25" font-weight="bold" text-anchor="end" fill="#000" font-family="'Liberation Sans', Arial, Helvetica, sans-serif">2.0</text>
<line x1="97.3" y1="1289.6" x2="97.3" y2="1294.4" stroke="#000" stroke-width="2.2"/>
<line x1="136.3" y1="1289.6" x2="136.3" y2="1299.2" stroke="#000" stroke-width="2.2"/>
<line x1="175.3" y1="1289.6" x2="175.3" y2="1294.4" stroke="#000" stroke-width="2.2"/>
<line x1="214.4" y1="1289.6" x2="214.4" y2="1299.2" stroke="#000" stroke-width="2.2"/>
<line x1="253.4" y1="1289.6" x2="253.4" y2="1294.4" stroke="#000" stroke-width="2.2"/>
<line x1="292.4" y1="1289.6" x2="292.4" y2="1299.2" stroke="#000" stroke-width="2.2"/>
<line x1="331.4" y1="1289.6" x2="331.4" y2="1294.4" stroke="#000" stroke-width="2.2"/>
<line x1="370.4" y1="1289.6" x2="370.4" y2="1299.2" stroke="#000" stroke-width="2.2"/>
<line x1="409.5" y1="1289.6" x2="409.5" y2="1294.4" stroke="#000" stroke-width="2.2"/>
<line x1="448.5" y1="1289.6" x2="448.5" y2="1299.2" stroke="#000" stroke-width="2.2"/>
<line x1="487.5" y1="1289.6" x2="487.5" y2="1294.4" stroke="#000" stroke-width="2.2"/>
<line x1="526.5" y1="1289.6" x2="526.5" y2="1299.2" stroke="#000" stroke-width="2.2"/>
<line x1="565.6" y1="1289.6" x2="565.6" y2="1294.4" stroke="#000" stroke-width="2.2"/>
<line x1="604.6" y1="1289.6" x2="604.6" y2="1299.2" stroke="#000" stroke-width="2.2"/>
<line x1="643.6" y1="1289.6" x2="643.6" y2="1294.4" stroke="#000" stroke-width="2.2"/>
<line x1="682.7" y1="1289.6" x2="682.7" y2="1299.2" stroke="#000" stroke-width="2.2"/>
<text x="136.3" y="1330.2" font-size="25" font-weight="bold" text-anchor="middle" fill="#000" font-family="'Liberation Sans', Arial, Helvetica, sans-serif">0</text>
<text x="214.4" y="1330.2" font-size="25" font-weight="bold" text-anchor="middle" fill="#000" font-family="'Liberation Sans', Arial, Helvetica, sans-serif">20</text>
<text x="292.4" y="1330.2" font-size="25" font-weight="bold" text-anchor="middle" fill="#000" font-family="'Liberation Sans', Arial, Helvetica, sans-serif">40</text>
<text x="370.4" y="1330.2" font-size="25" font-weight="bold" text-anchor="middle" fill="#000" font-family="'Liberation Sans', Arial, Helvetica, sans-serif">60</text>
<text x="448.5" y="1330.2" font-size="25" font-weight="bold" text-anchor="middle" fill="#000" font-family="'Liberation Sans', Arial, Helvetica, sans-serif">80</text>
<text x="526.5" y="1330.2" font-size="25" font-weight="bold" text-anchor="middle" fill="#000" font-family="'Liberation Sans', Arial, Helvetica, sans-serif">100</text>
<text x="604.6" y="1330.2" font-size="25" font-weight="bold" text-anchor="middle" fill="#000" font-family="'Liberation Sans', Arial, Helvetica, sans-serif">120</text>
<text x="682.7" y="1330.2" font-size="25" font-weight="bold" text-anchor="middle" fill="#000" font-family="'Liberation Sans', Arial, Helvetica, sans-serif">140</text>
<text x="390" y="1364.6" font-size="25" font-weight="bold" text-anchor="middle" fill="#000" font-family="'Liberation Sans', Arial, Helvetica, sans-serif">Time (min)</text>
<text transform="translate(27.4,1116) rotate(-90)" font-family="'Liberation Sans', Arial, Helvetica, sans-serif" font-size="25.5" font-weight="bold"><tspan font-style="italic">I</tspan><tspan font-size="17" font-weight="normal" dy="8.6">560 nm</tspan><tspan dy="-8.6">/</tspan><tspan font-style="italic">I</tspan><tspan font-size="17" font-weight="normal" dy="8.6">460 nm</tspan></text>
<use href="#cplx" transform="translate(191.5 879.5) scale(1.050)"/>
<use href="#cplx" transform="translate(345.5 1038.5) scale(1.050)"/>
<use href="#fuel" transform="translate(205.5 1058) scale(1.050)"/>
<use href="#fuel" transform="translate(239.5 1085) scale(1.050)"/>
<use href="#fuel" transform="translate(213.5 1122.5) scale(1.050)"/>
<use href="#mono" transform="translate(176 1218.5) rotate(-140) scale(0.740)"/>
<use href="#mono" transform="translate(234.5 1232.5) rotate(-124) scale(0.740)"/>
<use href="#mono" transform="translate(192.5 1274.5) rotate(4) scale(0.740)"/>
<use href="#mono" transform="translate(382.2 1089) rotate(35) scale(0.740)"/>
<use href="#mono" transform="translate(587.2 1171.7) rotate(145) scale(0.740)"/>
<use href="#mono" transform="translate(640 1202.4) rotate(10) scale(0.740)"/>
<use href="#mono" transform="translate(579.3 1228.4) rotate(10) scale(0.740)"/>
<line x1="136.3" y1="1259.6" x2="136.3" y2="889.8" stroke="#000" stroke-width="1.6"/>
<path d="M136.6 884.9 L140.6 891.3 L144.6 897.6 L148.6 903.7 L152.6 909.8 L156.6 915.7 L160.6 921.6 L164.6 927.3 L168.6 933 L172.6 938.6 L176.6 944.1 L180.6 949.5 L184.6 954.9 L188.6 960.1 L192.6 965.3 L196.6 970.5 L200.6 975.6 L204.6 980.6 L208.6 985.6 L212.6 990.5 L216.6 995.3 L220.6 1000.1 L224.6 1004.9 L228.6 1009.6 L232.6 1014.2 L236.6 1018.8 L240.6 1023.4 L244.6 1027.9 L248.6 1032.4 L252.6 1036.8 L256.6 1041.2 L260.6 1045.6 L264.6 1049.9 L268.6 1054.2 L272.6 1058.4 L276.6 1062.7 L280.6 1066.8 L284.6 1071 L288.6 1075.1 L292.6 1079.1 L296.6 1083.2 L300.6 1087.2 L304.6 1091.1 L308.6 1095 L312.6 1098.9 L316.6 1102.8 L320.6 1106.6 L324.6 1110.4 L328.6 1114.1 L332.6 1117.8 L336.6 1121.5 L340.6 1125.1 L344.6 1128.7 L348.6 1132.2 L352.6 1135.7 L356.6 1139.1 L360.6 1142.6 L364.6 1145.9 L368.6 1149.2 L372.6 1152.5 L376.6 1155.8 L380.6 1158.9 L384.6 1162.1 L388.6 1165.2 L392.6 1168.2 L396.6 1171.2 L400.6 1174.1 L404.6 1177 L408.6 1179.8 L412.6 1182.6 L416.6 1185.4 L420.6 1188 L424.6 1190.6 L428.6 1193.2 L432.6 1195.7 L436.6 1198.2 L440.6 1200.5 L444.6 1202.9 L448.6 1205.1 L452.6 1207.4 L456.6 1209.5 L460.6 1211.6 L464.6 1213.6 L468.6 1215.6 L472.6 1217.5 L476.6 1219.4 L480.6 1221.2 L484.6 1222.9 L488.6 1224.6 L492.6 1226.2 L496.6 1227.7 L500.6 1229.2 L504.6 1230.6 L508.6 1232 L512.6 1233.3 L516.6 1234.6 L520.6 1235.8 L524.6 1236.9 L528.6 1238 L532.6 1239.1 L536.6 1240.1 L540.6 1241 L544.6 1241.9 L548.6 1242.7 L552.6 1243.5 L556.6 1244.3 L560.6 1245 L564.6 1245.7 L568.6 1246.3 L572.6 1246.9 L576.6 1247.5 L580.6 1248 L584.6 1248.6 L588.6 1249.1 L592.6 1249.5 L596.6 1250 L600.6 1250.5 L604.5 1250.9" fill="none" stroke="#000" stroke-width="1.8"/>
<line x1="194.7" y1="1093.2" x2="152" y2="1094.8" stroke="#000" stroke-width="1.5"/>
<path d="M148.3 1094.9 L157.5 1090.5 L156.2 1094.9 L157.8 1099.2 Z" fill="#000"/>
<circle cx="136.6" cy="890.7" r="5.6" fill="#e8262a"/><ellipse cx="134.9" cy="888.7" rx="2.1" ry="1.6" fill="#ffd0d0" opacity="0.85"/>
<circle cx="175.1" cy="953" r="5.6" fill="#e8262a"/><ellipse cx="173.4" cy="951" rx="2.1" ry="1.6" fill="#ffd0d0" opacity="0.85"/>
<circle cx="214.1" cy="993.1" r="5.6" fill="#e8262a"/><ellipse cx="212.4" cy="991.1" rx="2.1" ry="1.6" fill="#ffd0d0" opacity="0.85"/>
<circle cx="272.7" cy="1027.7" r="5.6" fill="#e8262a"/><ellipse cx="271" cy="1025.7" rx="2.1" ry="1.6" fill="#ffd0d0" opacity="0.85"/>
<circle cx="331.1" cy="1087.4" r="5.6" fill="#e8262a"/><ellipse cx="329.4" cy="1085.4" rx="2.1" ry="1.6" fill="#ffd0d0" opacity="0.85"/>
<circle cx="342.9" cy="1138.8" r="5.6" fill="#e8262a"/><ellipse cx="341.2" cy="1136.8" rx="2.1" ry="1.6" fill="#ffd0d0" opacity="0.85"/>
<circle cx="354.9" cy="1156.3" r="5.6" fill="#e8262a"/><ellipse cx="353.2" cy="1154.3" rx="2.1" ry="1.6" fill="#ffd0d0" opacity="0.85"/>
<circle cx="370.5" cy="1180.7" r="5.6" fill="#e8262a"/><ellipse cx="368.8" cy="1178.7" rx="2.1" ry="1.6" fill="#ffd0d0" opacity="0.85"/>
<circle cx="409.5" cy="1194.5" r="5.6" fill="#e8262a"/><ellipse cx="407.8" cy="1192.5" rx="2.1" ry="1.6" fill="#ffd0d0" opacity="0.85"/>
<circle cx="487.5" cy="1222.6" r="5.6" fill="#e8262a"/><ellipse cx="485.8" cy="1220.6" rx="2.1" ry="1.6" fill="#ffd0d0" opacity="0.85"/>
<circle cx="604.5" cy="1244.2" r="5.6" fill="#e8262a"/><ellipse cx="602.8" cy="1242.2" rx="2.1" ry="1.6" fill="#ffd0d0" opacity="0.85"/>
<circle cx="136.3" cy="1259.8" r="5.6" fill="#e8262a"/><ellipse cx="134.6" cy="1257.8" rx="2.1" ry="1.6" fill="#ffd0d0" opacity="0.85"/>
<text x="731" y="787" font-size="40" font-weight="bold" fill="#000" font-family="'Liberation Sans', Arial, Helvetica, sans-serif">d</text>
<path d="M847.5 1309.1 V793.2 M877.3 1309.1 V793.2 M907 1309.1 V793.2 M936.7 1309.1 V793.2 M966.4 1309.1 V793.2 M996.2 1309.1 V793.2 M1025.9 1309.1 V793.2 M1055.6 1309.1 V793.2 M1085.4 1309.1 V793.2 M1115.1 1309.1 V793.2 M1144.8 1309.1 V793.2 M1174.6 1309.1 V793.2 M1204.3 1309.1 V793.2 M1234 1309.1 V793.2 M1263.8 1309.1 V793.2 M1293.5 1309.1 V793.2 M817.8 1280.4 H1293.5 M817.8 1251.8 H1293.5 M817.8 1223.1 H1293.5 M817.8 1194.5 H1293.5 M817.8 1165.8 H1293.5 M817.8 1137.1 H1293.5 M817.8 1108.5 H1293.5 M817.8 1079.8 H1293.5 M817.8 1051.2 H1293.5 M817.8 1022.5 H1293.5 M817.8 993.8 H1293.5 M817.8 965.2 H1293.5 M817.8 936.5 H1293.5 M817.8 907.9 H1293.5 M817.8 879.2 H1293.5 M817.8 850.5 H1293.5 M817.8 821.9 H1293.5 M817.8 793.2 H1293.5" stroke="#c9c9c9" stroke-width="1.3" fill="none"/>
<line x1="877.3" y1="793.2" x2="1293.5" y2="1194.5" stroke="#b3b3b3" stroke-width="1.3"/>
<foreignObject x="818.1" y="829.2" width="438.5" height="479.2"><div xmlns="http://www.w3.org/1999/xhtml" style="width:438.5px;height:479.2px;background:radial-gradient(circle at 184.0px 290.8px, rgba(255,255,255,1) 0px, rgba(255,255,255,0.85) 25px, rgba(255,255,255,0.45) 60px, rgba(255,255,255,0) 120px),conic-gradient(from 0deg at 184.0px 290.8px, #6cbd45 0deg, #a6cf3a 22deg, #f8e61c 40deg, #f7b52a 58deg, #f07a2a 72deg, #e9323a 92deg, #e8265e 110deg, #e6308e 130deg, #c14a9d 155deg, #7a55a5 185deg, #3a55a6 210deg, #2f8fd8 232deg, #33c1ee 250deg, #5ec5c8 275deg, #6dc38a 300deg, #6cbd50 330deg, #6cbd45 360deg);clip-path:path('M103.2 477.1 C103.2 477.1 103.2 477.1 103.1 477.1 C103.1 477.1 103.1 477.1 103 477.1 C103 477.1 103 477.1 102.9 477.1 C102.9 477.1 102.8 477.2 102.7 477.2 C102.7 477.2 102.6 477.2 102.5 477.2 C102.5 477.2 102.4 477.2 102.3 477.2 C102.2 477.2 102.1 477.2 102 477.2 C101.9 477.2 101.8 477.1 101.6 477 C101.4 476.9 101.2 476.8 100.9 476.6 C100.7 476.4 100.4 476.2 100.1 476 C99.8 475.7 99.4 475.4 98.9 475 C98.5 474.6 98 474.2 97.4 473.7 C96.9 473.2 96.2 472.7 95.5 472 C94.7 471.4 93.8 470.6 92.8 469.8 C91.8 468.9 90.7 468.1 89.5 466.9 C88.2 465.8 86.8 464.6 85.3 462.9 C83.8 461.3 82.2 459.7 80.2 457.1 C78.3 454.4 76 451.3 73.5 446.8 C70.9 442.3 68.1 437.3 64.8 430.2 C61.6 423 58 414.8 54 403.9 C49.9 393 45.1 380.4 40.5 364.9 C36 349.4 31.2 331.1 26.7 310.8 C22.2 290.6 17.3 266.6 13.7 243.4 C10 220.1 6.5 194.5 4.6 171.3 C2.6 148.2 1.4 124.8 2 104.6 C2.6 84.4 4.5 64.9 7.9 49.9 C11.4 34.9 16.8 22.5 22.8 14.5 C28.8 6.5 36.4 3.4 43.9 2 C51.3 0.6 59.6 3.7 67.6 6.4 C75.6 9 83.9 13.7 91.7 18 C99.5 22.3 107 27 114.4 31.9 C121.8 36.9 129 42.1 136.2 47.6 C143.4 53 150.6 58.8 157.7 64.8 C164.9 70.7 171.9 76.9 179 83.1 C186.1 89.4 193.2 95.8 200.2 102.3 C207.3 108.7 214.5 115.4 221.5 122 C228.6 128.6 235.7 135.3 242.7 142 C249.7 148.6 256.8 155.4 263.7 162 C270.7 168.6 277.6 175.2 284.4 181.8 C291.2 188.3 297.9 194.7 304.4 201 C311 207.3 317.4 213.5 323.6 219.5 C329.8 225.4 335.9 231.3 341.7 236.8 C347.5 242.3 353 247.7 358.2 252.7 C363.3 257.6 368 262.1 372.5 266.4 C377 270.7 381.3 274.8 385.1 278.5 C388.9 282.2 392.4 285.5 395.6 288.5 C398.7 291.5 401.5 294.2 404.1 296.7 C406.6 299.1 408.8 301.3 410.8 303.2 C412.9 305.2 414.6 306.8 416.3 308.4 C417.9 309.9 419.3 311.3 420.6 312.6 C421.9 313.8 423.1 315 424.2 316.1 C425.3 317.1 426.3 318.1 427.2 318.9 C428.1 319.8 428.9 320.5 429.6 321.2 C430.3 321.8 430.8 322.4 431.4 322.9 C431.9 323.4 432.3 323.8 432.7 324.2 C433.1 324.6 433.5 324.9 433.7 325.2 C434 325.4 434.2 325.6 434.4 325.8 C434.6 326 434.8 326.2 434.9 326.3 C435.1 326.5 435.2 326.6 435.3 326.7 C435.5 326.9 435.6 327 435.8 327.1 C435.9 327.2 436 327.4 436.1 327.5 C436.2 327.6 436.3 327.6 436.4 327.7 C436.4 327.7 436.4 327.8 436.5 327.8 C436.5 327.8 436.5 327.9 436.5 327.9 Z')"></div></foreignObject>
<path d="M921.3 1306.2 C921.3 1306.2 921.3 1306.2 921.3 1306.2 C921.2 1306.2 921.2 1306.3 921.1 1306.3 C921.1 1306.3 921.1 1306.3 921 1306.3 C921 1306.3 920.9 1306.3 920.8 1306.3 C920.8 1306.4 920.7 1306.3 920.7 1306.3 C920.6 1306.3 920.5 1306.3 920.4 1306.3 C920.3 1306.3 920.2 1306.4 920.1 1306.3 C920 1306.3 919.9 1306.3 919.7 1306.2 C919.5 1306.1 919.3 1305.9 919.1 1305.8 C918.8 1305.6 918.6 1305.4 918.2 1305.1 C917.9 1304.9 917.5 1304.6 917 1304.2 C916.6 1303.8 916.1 1303.3 915.6 1302.9 C915 1302.4 914.4 1301.8 913.6 1301.2 C912.8 1300.5 911.9 1299.8 910.9 1299 C909.9 1298.1 908.8 1297.2 907.6 1296.1 C906.3 1294.9 905 1293.7 903.4 1292.1 C901.9 1290.4 900.3 1288.9 898.4 1286.2 C896.4 1283.5 894.2 1280.4 891.6 1276 C889 1271.5 886.2 1266.5 883 1259.3 C879.7 1252.2 876.1 1243.9 872.1 1233 C868 1222.2 863.2 1209.6 858.6 1194.1 C854.1 1178.6 849.3 1160.3 844.8 1140 C840.3 1119.8 835.5 1095.8 831.8 1072.5 C828.1 1049.3 824.6 1023.6 822.7 1000.5 C820.7 977.4 819.6 954 820.1 933.8 C820.7 913.5 822.6 894.1 826.1 879.1 C829.5 864.1 834.9 851.6 840.9 843.7 C846.9 835.7 854.5 832.5 862 831.2 C869.4 829.8 877.7 832.9 885.7 835.5 C893.7 838.2 902 842.9 909.8 847.2 C917.6 851.4 925.1 856.2 932.5 861.1 C939.9 866 947.1 871.3 954.3 876.7 C961.5 882.2 968.7 888 975.8 893.9 C983 899.9 990 906 997.1 912.3 C1004.2 918.5 1011.3 924.9 1018.4 931.4 C1025.4 937.9 1032.6 944.5 1039.6 951.1 C1046.7 957.8 1053.8 964.5 1060.8 971.1 C1067.8 977.8 1074.9 984.5 1081.9 991.1 C1088.8 997.8 1095.7 1004.4 1102.5 1010.9 C1109.3 1017.4 1116 1023.9 1122.5 1030.2 C1129.1 1036.5 1135.5 1042.7 1141.7 1048.6 C1148 1054.6 1154.1 1060.4 1159.8 1065.9 C1165.6 1071.5 1171.2 1076.9 1176.3 1081.8 C1181.4 1086.8 1186.1 1091.3 1190.6 1095.6 C1195.1 1099.9 1199.4 1104 1203.2 1107.7 C1207.1 1111.4 1210.5 1114.6 1213.7 1117.7 C1216.8 1120.7 1219.6 1123.4 1222.2 1125.8 C1224.7 1128.3 1226.9 1130.4 1229 1132.4 C1231 1134.3 1232.8 1136 1234.4 1137.5 C1236 1139.1 1237.4 1140.4 1238.7 1141.7 C1240 1143 1241.2 1144.2 1242.3 1145.2 C1243.4 1146.3 1244.4 1147.2 1245.3 1148.1 C1246.2 1148.9 1247 1149.7 1247.7 1150.3 C1248.4 1151 1249 1151.5 1249.5 1152 C1250 1152.5 1250.5 1153 1250.8 1153.4 C1251.2 1153.7 1251.6 1154.1 1251.9 1154.3 C1252.1 1154.6 1252.3 1154.8 1252.5 1155 C1252.7 1155.2 1252.9 1155.3 1253 1155.5 C1253.2 1155.6 1253.3 1155.7 1253.5 1155.9 C1253.6 1156 1253.8 1156.2 1253.9 1156.3 C1254 1156.4 1254.1 1156.5 1254.2 1156.6 C1254.3 1156.7 1254.4 1156.8 1254.5 1156.9 C1254.5 1156.9 1254.6 1156.9 1254.6 1157 C1254.6 1157 1254.6 1157 1254.7 1157 Z" fill="none" stroke="#000" stroke-width="2"/>
<path d="M921.3 1306.2 L921.3 1313.2 M921.3 1306.2 L922.5 1310 M921.1 1306.3 L922.8 1313.1 M921 1306.3 L921.8 1310.2 M920.8 1306.3 L922 1313.3 M920.7 1306.3 L920.7 1310.3 M920.4 1306.3 L920.4 1313.3 M920.1 1306.3 L919.2 1310.2 M919.7 1306.2 L916.4 1312.3 M919.1 1305.8 L916.8 1309.1 M918.2 1305.1 L913.9 1310.6 M917 1304.2 L914.4 1307.2 M915.6 1302.9 L911 1308.1 M913.6 1301.2 L911 1304.3 M910.9 1299 L906.4 1304.3 M907.6 1296.1 L904.9 1299 M903.4 1292.1 L898.3 1296.9 M898.4 1286.2 L895.1 1288.6 M891.6 1276 L885.5 1279.4 M883 1259.3 L879.3 1261 M872.1 1233 L865.5 1235.5 M858.6 1194.1 L854.8 1195.2 M844.8 1140 L838 1141.5 M831.8 1072.5 L827.8 1073.2 M822.7 1000.5 L815.7 1001.1 M820.1 933.8 L816.1 933.7 M826.1 879.1 L819.2 877.5 M840.9 843.7 L837.7 841.3 M862 831.2 L860.7 824.3 M885.7 835.5 L887 831.7 M909.8 847.2 L913.1 841 M932.5 861.1 L934.7 857.8 M954.3 876.7 L958.5 871.2 M975.8 893.9 L978.4 890.9 M997.1 912.3 L1001.8 907 M1018.4 931.4 L1021.1 928.5 M1039.6 951.1 L1044.4 946 M1060.8 971.1 L1063.6 968.2 M1081.9 991.1 L1086.7 986.1 M1102.5 1010.9 L1105.3 1008 M1122.5 1030.2 L1127.4 1025.1 M1141.7 1048.6 L1144.5 1045.8 M1159.8 1065.9 L1164.7 1060.9 M1176.3 1081.8 L1179.1 1078.9 M1190.6 1095.6 L1195.5 1090.5 M1203.2 1107.7 L1206 1104.8 M1213.7 1117.7 L1218.5 1112.6 M1222.2 1125.8 L1225 1123 M1229 1132.4 L1233.8 1127.3 M1234.4 1137.5 L1237.1 1134.7 M1238.7 1141.7 L1243.6 1136.7 M1242.3 1145.2 L1245.1 1142.3 M1245.3 1148.1 L1250.1 1143 M1247.7 1150.3 L1251.1 1146.7 M1249.5 1152 L1254.3 1147 M1250.8 1153.4 L1254.3 1149.8 M1251.9 1154.3 L1256.7 1149.3 M1252.5 1155 L1256 1151.4 M1253 1155.5 L1257.9 1150.4 M1253.5 1155.9 L1256.9 1152.3 M1253.9 1156.3 L1258.7 1151.2 M1254.2 1156.6 L1257.7 1153 M1254.5 1156.9 L1259.3 1151.8 M1254.6 1157 L1258.1 1153.4 M1254.7 1157 L1259.5 1152" stroke="#000" stroke-width="1.7" fill="none"/>
<line x1="817.8" y1="1309.1" x2="817.8" y2="793.2" stroke="#000" stroke-width="1.6"/>
<line x1="817.8" y1="1309.1" x2="1293.5" y2="1309.1" stroke="#000" stroke-width="1.6"/>
<line x1="812.8" y1="1309.1" x2="817.8" y2="1309.1" stroke="#000" stroke-width="1.5"/>
<line x1="814.8" y1="1280.4" x2="817.8" y2="1280.4" stroke="#000" stroke-width="1.5"/>
<line x1="812.8" y1="1251.8" x2="817.8" y2="1251.8" stroke="#000" stroke-width="1.5"/>
<line x1="814.8" y1="1223.1" x2="817.8" y2="1223.1" stroke="#000" stroke-width="1.5"/>
<line x1="812.8" y1="1194.5" x2="817.8" y2="1194.5" stroke="#000" stroke-width="1.5"/>
<line x1="814.8" y1="1165.8" x2="817.8" y2="1165.8" stroke="#000" stroke-width="1.5"/>
<line x1="812.8" y1="1137.1" x2="817.8" y2="1137.1" stroke="#000" stroke-width="1.5"/>
<line x1="814.8" y1="1108.5" x2="817.8" y2="1108.5" stroke="#000" stroke-width="1.5"/>
<line x1="812.8" y1="1079.8" x2="817.8" y2="1079.8" stroke="#000" stroke-width="1.5"/>
<line x1="814.8" y1="1051.2" x2="817.8" y2="1051.2" stroke="#000" stroke-width="1.5"/>
<line x1="812.8" y1="1022.5" x2="817.8" y2="1022.5" stroke="#000" stroke-width="1.5"/>
<line x1="814.8" y1="993.8" x2="817.8" y2="993.8" stroke="#000" stroke-width="1.5"/>
<line x1="812.8" y1="965.2" x2="817.8" y2="965.2" stroke="#000" stroke-width="1.5"/>
<line x1="814.8" y1="936.5" x2="817.8" y2="936.5" stroke="#000" stroke-width="1.5"/>
<line x1="812.8" y1="907.9" x2="817.8" y2="907.9" stroke="#000" stroke-width="1.5"/>
<line x1="814.8" y1="879.2" x2="817.8" y2="879.2" stroke="#000" stroke-width="1.5"/>
<line x1="812.8" y1="850.5" x2="817.8" y2="850.5" stroke="#000" stroke-width="1.5"/>
<line x1="814.8" y1="821.9" x2="817.8" y2="821.9" stroke="#000" stroke-width="1.5"/>
<line x1="812.8" y1="793.2" x2="817.8" y2="793.2" stroke="#000" stroke-width="1.5"/>
<line x1="817.8" y1="1309.1" x2="817.8" y2="1314.1" stroke="#000" stroke-width="1.5"/>
<line x1="847.5" y1="1309.1" x2="847.5" y2="1312.1" stroke="#000" stroke-width="1.5"/>
<line x1="877.3" y1="1309.1" x2="877.3" y2="1314.1" stroke="#000" stroke-width="1.5"/>
<line x1="907" y1="1309.1" x2="907" y2="1312.1" stroke="#000" stroke-width="1.5"/>
<line x1="936.7" y1="1309.1" x2="936.7" y2="1314.1" stroke="#000" stroke-width="1.5"/>
<line x1="966.4" y1="1309.1" x2="966.4" y2="1312.1" stroke="#000" stroke-width="1.5"/>
<line x1="996.2" y1="1309.1" x2="996.2" y2="1314.1" stroke="#000" stroke-width="1.5"/>
<line x1="1025.9" y1="1309.1" x2="1025.9" y2="1312.1" stroke="#000" stroke-width="1.5"/>
<line x1="1055.6" y1="1309.1" x2="1055.6" y2="1314.1" stroke="#000" stroke-width="1.5"/>
<line x1="1085.4" y1="1309.1" x2="1085.4" y2="1312.1" stroke="#000" stroke-width="1.5"/>
<line x1="1115.1" y1="1309.1" x2="1115.1" y2="1314.1" stroke="#000" stroke-width="1.5"/>
<line x1="1144.8" y1="1309.1" x2="1144.8" y2="1312.1" stroke="#000" stroke-width="1.5"/>
<line x1="1174.6" y1="1309.1" x2="1174.6" y2="1314.1" stroke="#000" stroke-width="1.5"/>
<line x1="1204.3" y1="1309.1" x2="1204.3" y2="1312.1" stroke="#000" stroke-width="1.5"/>
<line x1="1234" y1="1309.1" x2="1234" y2="1314.1" stroke="#000" stroke-width="1.5"/>
<line x1="1263.8" y1="1309.1" x2="1263.8" y2="1312.1" stroke="#000" stroke-width="1.5"/>
<line x1="1293.5" y1="1309.1" x2="1293.5" y2="1314.1" stroke="#000" stroke-width="1.5"/>
<text x="803.8" y="1317.9" font-size="25.3" text-anchor="end" fill="#000" font-family="'Liberation Sans', Arial, Helvetica, sans-serif">0.0</text>
<text x="803.8" y="1260.6" font-size="25.3" text-anchor="end" fill="#000" font-family="'Liberation Sans', Arial, Helvetica, sans-serif">0.1</text>
<text x="803.8" y="1203.3" font-size="25.3" text-anchor="end" fill="#000" font-family="'Liberation Sans', Arial, Helvetica, sans-serif">0.2</text>
<text x="803.8" y="1145.9" font-size="25.3" text-anchor="end" fill="#000" font-family="'Liberation Sans', Arial, Helvetica, sans-serif">0.3</text>
<text x="803.8" y="1088.6" font-size="25.3" text-anchor="end" fill="#000" font-family="'Liberation Sans', Arial, Helvetica, sans-serif">0.4</text>
<text x="803.8" y="1031.3" font-size="25.3" text-anchor="end" fill="#000" font-family="'Liberation Sans', Arial, Helvetica, sans-serif">0.5</text>
<text x="803.8" y="974" font-size="25.3" text-anchor="end" fill="#000" font-family="'Liberation Sans', Arial, Helvetica, sans-serif">0.6</text>
<text x="803.8" y="916.7" font-size="25.3" text-anchor="end" fill="#000" font-family="'Liberation Sans', Arial, Helvetica, sans-serif">0.7</text>
<text x="803.8" y="859.3" font-size="25.3" text-anchor="end" fill="#000" font-family="'Liberation Sans', Arial, Helvetica, sans-serif">0.8</text>
<text x="803.8" y="802" font-size="25.3" text-anchor="end" fill="#000" font-family="'Liberation Sans', Arial, Helvetica, sans-serif">0.9</text>
<text x="818.3" y="1342" font-size="25.3" text-anchor="middle" fill="#000" font-family="'Liberation Sans', Arial, Helvetica, sans-serif">0.0</text>
<text x="877.8" y="1342" font-size="25.3" text-anchor="middle" fill="#000" font-family="'Liberation Sans', Arial, Helvetica, sans-serif">0.1</text>
<text x="937.2" y="1342" font-size="25.3" text-anchor="middle" fill="#000" font-family="'Liberation Sans', Arial, Helvetica, sans-serif">0.2</text>
<text x="996.7" y="1342" font-size="25.3" text-anchor="middle" fill="#000" font-family="'Liberation Sans', Arial, Helvetica, sans-serif">0.3</text>
<text x="1056.1" y="1342" font-size="25.3" text-anchor="middle" fill="#000" font-family="'Liberation Sans', Arial, Helvetica, sans-serif">0.4</text>
<text x="1115.6" y="1342" font-size="25.3" text-anchor="middle" fill="#000" font-family="'Liberation Sans', Arial, Helvetica, sans-serif">0.5</text>
<text x="1175.1" y="1342" font-size="25.3" text-anchor="middle" fill="#000" font-family="'Liberation Sans', Arial, Helvetica, sans-serif">0.6</text>
<text x="1234.5" y="1342" font-size="25.3" text-anchor="middle" fill="#000" font-family="'Liberation Sans', Arial, Helvetica, sans-serif">0.7</text>
<text x="1294" y="1342" font-size="25.3" text-anchor="middle" fill="#000" font-family="'Liberation Sans', Arial, Helvetica, sans-serif">0.8</text>
<text x="1049" y="1371" font-size="25" font-style="italic" text-anchor="middle" fill="#000" font-family="'Liberation Sans', Arial, Helvetica, sans-serif">x</text>
<text x="737.5" y="1062" font-size="25" font-style="italic" text-anchor="middle" fill="#000" font-family="'Liberation Sans', Arial, Helvetica, sans-serif">y</text>
<text x="846.5" y="819" font-size="20.5" fill="#3d4ba3" font-family="'Liberation Serif', 'Times New Roman', serif">520</text>
<text x="958" y="866.8" font-size="20.5" fill="#3d4ba3" font-family="'Liberation Serif', 'Times New Roman', serif">540</text>
<text x="1044.5" y="941" font-size="20.5" fill="#3d4ba3" font-family="'Liberation Serif', 'Times New Roman', serif">560</text>
<text x="1127" y="1021.8" font-size="20.5" fill="#3d4ba3" font-family="'Liberation Serif', 'Times New Roman', serif">580</text>
<text x="1196" y="1088" font-size="20.5" fill="#3d4ba3" font-family="'Liberation Serif', 'Times New Roman', serif">600</text>
<text x="1233.3" y="1124.4" font-size="20.5" fill="#3d4ba3" font-family="'Liberation Serif', 'Times New Roman', serif">620</text>
<text x="1263" y="1164" font-size="20.5" fill="#3d4ba3" font-family="'Liberation Serif', 'Times New Roman', serif">700</text>
<text x="782.8" y="1008.3" font-size="20.5" fill="#3d4ba3" font-family="'Liberation Serif', 'Times New Roman', serif">500</text>
<text x="817.5" y="1158.7" font-size="20.5" fill="#3d4ba3" font-family="'Liberation Serif', 'Times New Roman', serif">490</text>
<text x="833.4" y="1244.7" font-size="20.5" fill="#3d4ba3" font-family="'Liberation Serif', 'Times New Roman', serif">480</text>
<text x="852.8" y="1287.9" font-size="20.5" fill="#3d4ba3" font-family="'Liberation Serif', 'Times New Roman', serif">470</text>
<text x="863" y="1308.4" font-size="20.5" fill="#3d4ba3" font-family="'Liberation Serif', 'Times New Roman', serif">460</text>
<text x="929" y="1316.2" font-size="20.5" fill="#3d4ba3" font-family="'Liberation Serif', 'Times New Roman', serif">380</text>
<use href="#lock" transform="translate(924 1109) rotate(-32) scale(0.520)"/>
<g opacity="0.75"><use href="#fuel" transform="translate(933 1066) rotate(-40) scale(0.450)"/><use href="#fuel" transform="translate(945 1054) rotate(-40) scale(0.450)"/><use href="#fuel" transform="translate(952 1076) rotate(-40) scale(0.450)"/></g>
<path d="M916.6 1188.8 C922 1150 940 1100 1000 1072" fill="none" stroke="#000" stroke-width="1.8"/>
<path d="M1013.5 1066.5 L997 1066 L1003.5 1080 Z" fill="#000"/>
<line x1="1036.2" y1="1079.8" x2="1011" y2="1112" stroke="#000" stroke-width="1.6"/>
<path d="M1008.3 1116.8 L1010.5 1104 L1017.5 1109.5 Z" fill="#000"/>
<line x1="986" y1="1142" x2="955" y2="1183" stroke="#000" stroke-width="2.2"/>
<path d="M949.5 1191 L951.5 1174.5 L962 1182.5 Z" fill="#000"/>
<circle cx="917.6" cy="1200.1" r="3.2" fill="#f4b8c4"/><circle cx="917.6" cy="1200.1" r="1.7" fill="#111"/>
<circle cx="928.3" cy="1196.6" r="3.2" fill="#f4b8c4"/><circle cx="928.3" cy="1196.6" r="1.7" fill="#111"/>
<circle cx="941.7" cy="1180" r="3.2" fill="#f4b8c4"/><circle cx="941.7" cy="1180" r="1.7" fill="#111"/>
<circle cx="954.8" cy="1162.3" r="3.2" fill="#f4b8c4"/><circle cx="954.8" cy="1162.3" r="1.7" fill="#111"/>
<circle cx="961.9" cy="1154.5" r="3.2" fill="#f4b8c4"/><circle cx="961.9" cy="1154.5" r="1.7" fill="#111"/>
<circle cx="969.7" cy="1142.8" r="3.2" fill="#f4b8c4"/><circle cx="969.7" cy="1142.8" r="1.7" fill="#111"/>
<circle cx="976" cy="1134" r="3.2" fill="#f4b8c4"/><circle cx="976" cy="1134" r="1.7" fill="#111"/>
<circle cx="989.5" cy="1116.3" r="3.2" fill="#f4b8c4"/><circle cx="989.5" cy="1116.3" r="1.7" fill="#111"/>
<circle cx="1000.8" cy="1100.3" r="3.2" fill="#f4b8c4"/><circle cx="1000.8" cy="1100.3" r="1.7" fill="#111"/>
<circle cx="1006.1" cy="1093.3" r="3.2" fill="#f4b8c4"/><circle cx="1006.1" cy="1093.3" r="1.7" fill="#111"/>
<circle cx="1011.4" cy="1085.5" r="3.2" fill="#f4b8c4"/><circle cx="1011.4" cy="1085.5" r="1.7" fill="#111"/>
<circle cx="1019.6" cy="1077.3" r="3.2" fill="#f4b8c4"/><circle cx="1019.6" cy="1077.3" r="1.7" fill="#111"/>
<text x="897.5" y="1209.5" font-size="20.5" fill="#000" font-family="'Liberation Sans', Arial, Helvetica, sans-serif">A</text>
<text x="1034" y="1070.5" font-size="20.5" fill="#000" font-family="'Liberation Sans', Arial, Helvetica, sans-serif">B</text>
<text x="995" y="1142.5" font-size="21" fill="#000" font-family="'Liberation Sans', Arial, Helvetica, sans-serif">C (0.29, 0.34)</text>
<text x="938.5" y="1210.5" font-size="20.5" fill="#000" font-family="'Liberation Sans', Arial, Helvetica, sans-serif">D</text>
<text x="1339" y="787" font-size="40" font-weight="bold" fill="#000" font-family="'Liberation Sans', Arial, Helvetica, sans-serif">e</text>
<path d="M1439.6 798.8 H2021.5 V1293.3 H1439.6 Z" fill="none" stroke="#000" stroke-width="2.3"/>
<line x1="1432" y1="1293.3" x2="1439.6" y2="1293.3" stroke="#000" stroke-width="2.2"/>
<line x1="1435.1" y1="1252.1" x2="1439.6" y2="1252.1" stroke="#000" stroke-width="2.2"/>
<line x1="1432" y1="1210.9" x2="1439.6" y2="1210.9" stroke="#000" stroke-width="2.2"/>
<line x1="1435.1" y1="1169.7" x2="1439.6" y2="1169.7" stroke="#000" stroke-width="2.2"/>
<line x1="1432" y1="1128.5" x2="1439.6" y2="1128.5" stroke="#000" stroke-width="2.2"/>
<line x1="1435.1" y1="1087.3" x2="1439.6" y2="1087.3" stroke="#000" stroke-width="2.2"/>
<line x1="1432" y1="1046.1" x2="1439.6" y2="1046.1" stroke="#000" stroke-width="2.2"/>
<line x1="1435.1" y1="1004.8" x2="1439.6" y2="1004.8" stroke="#000" stroke-width="2.2"/>
<line x1="1432" y1="963.6" x2="1439.6" y2="963.6" stroke="#000" stroke-width="2.2"/>
<line x1="1435.1" y1="922.4" x2="1439.6" y2="922.4" stroke="#000" stroke-width="2.2"/>
<line x1="1432" y1="881.2" x2="1439.6" y2="881.2" stroke="#000" stroke-width="2.2"/>
<line x1="1435.1" y1="840" x2="1439.6" y2="840" stroke="#000" stroke-width="2.2"/>
<line x1="1432" y1="798.8" x2="1439.6" y2="798.8" stroke="#000" stroke-width="2.2"/>
<text x="1420" y="1300.9" font-size="25" font-weight="bold" text-anchor="end" fill="#000" font-family="'Liberation Sans', Arial, Helvetica, sans-serif">0.0</text>
<text x="1420" y="1218.5" font-size="25" font-weight="bold" text-anchor="end" fill="#000" font-family="'Liberation Sans', Arial, Helvetica, sans-serif">0.5</text>
<text x="1420" y="1136.1" font-size="25" font-weight="bold" text-anchor="end" fill="#000" font-family="'Liberation Sans', Arial, Helvetica, sans-serif">1.0</text>
<text x="1420" y="1053.7" font-size="25" font-weight="bold" text-anchor="end" fill="#000" font-family="'Liberation Sans', Arial, Helvetica, sans-serif">1.5</text>
<text x="1420" y="971.2" font-size="25" font-weight="bold" text-anchor="end" fill="#000" font-family="'Liberation Sans', Arial, Helvetica, sans-serif">2.0</text>
<text x="1420" y="888.8" font-size="25" font-weight="bold" text-anchor="end" fill="#000" font-family="'Liberation Sans', Arial, Helvetica, sans-serif">2.5</text>
<text x="1420" y="806.4" font-size="25" font-weight="bold" text-anchor="end" fill="#000" font-family="'Liberation Sans', Arial, Helvetica, sans-serif">3.0</text>
<line x1="1439.2" y1="1293.3" x2="1439.2" y2="1297.9" stroke="#000" stroke-width="2.2"/>
<line x1="1471.5" y1="1293.3" x2="1471.5" y2="1301.9" stroke="#000" stroke-width="2.2"/>
<line x1="1503.8" y1="1293.3" x2="1503.8" y2="1297.9" stroke="#000" stroke-width="2.2"/>
<line x1="1536.2" y1="1293.3" x2="1536.2" y2="1301.9" stroke="#000" stroke-width="2.2"/>
<line x1="1568.5" y1="1293.3" x2="1568.5" y2="1297.9" stroke="#000" stroke-width="2.2"/>
<line x1="1600.9" y1="1293.3" x2="1600.9" y2="1301.9" stroke="#000" stroke-width="2.2"/>
<line x1="1633.2" y1="1293.3" x2="1633.2" y2="1297.9" stroke="#000" stroke-width="2.2"/>
<line x1="1665.5" y1="1293.3" x2="1665.5" y2="1301.9" stroke="#000" stroke-width="2.2"/>
<line x1="1697.9" y1="1293.3" x2="1697.9" y2="1297.9" stroke="#000" stroke-width="2.2"/>
<line x1="1730.2" y1="1293.3" x2="1730.2" y2="1301.9" stroke="#000" stroke-width="2.2"/>
<line x1="1762.6" y1="1293.3" x2="1762.6" y2="1297.9" stroke="#000" stroke-width="2.2"/>
<line x1="1794.9" y1="1293.3" x2="1794.9" y2="1301.9" stroke="#000" stroke-width="2.2"/>
<line x1="1827.2" y1="1293.3" x2="1827.2" y2="1297.9" stroke="#000" stroke-width="2.2"/>
<line x1="1859.6" y1="1293.3" x2="1859.6" y2="1301.9" stroke="#000" stroke-width="2.2"/>
<line x1="1891.9" y1="1293.3" x2="1891.9" y2="1297.9" stroke="#000" stroke-width="2.2"/>
<line x1="1924.3" y1="1293.3" x2="1924.3" y2="1301.9" stroke="#000" stroke-width="2.2"/>
<line x1="1956.6" y1="1293.3" x2="1956.6" y2="1297.9" stroke="#000" stroke-width="2.2"/>
<line x1="1988.9" y1="1293.3" x2="1988.9" y2="1301.9" stroke="#000" stroke-width="2.2"/>
<line x1="2021.3" y1="1293.3" x2="2021.3" y2="1297.9" stroke="#000" stroke-width="2.2"/>
<text x="1471.5" y="1333" font-size="25" font-weight="bold" text-anchor="middle" fill="#000" font-family="'Liberation Sans', Arial, Helvetica, sans-serif">0</text>
<text x="1536.2" y="1333" font-size="25" font-weight="bold" text-anchor="middle" fill="#000" font-family="'Liberation Sans', Arial, Helvetica, sans-serif">1</text>
<text x="1600.9" y="1333" font-size="25" font-weight="bold" text-anchor="middle" fill="#000" font-family="'Liberation Sans', Arial, Helvetica, sans-serif">2</text>
<text x="1665.5" y="1333" font-size="25" font-weight="bold" text-anchor="middle" fill="#000" font-family="'Liberation Sans', Arial, Helvetica, sans-serif">3</text>
<text x="1730.2" y="1333" font-size="25" font-weight="bold" text-anchor="middle" fill="#000" font-family="'Liberation Sans', Arial, Helvetica, sans-serif">4</text>
<text x="1794.9" y="1333" font-size="25" font-weight="bold" text-anchor="middle" fill="#000" font-family="'Liberation Sans', Arial, Helvetica, sans-serif">5</text>
<text x="1859.6" y="1333" font-size="25" font-weight="bold" text-anchor="middle" fill="#000" font-family="'Liberation Sans', Arial, Helvetica, sans-serif">6</text>
<text x="1924.3" y="1333" font-size="25" font-weight="bold" text-anchor="middle" fill="#000" font-family="'Liberation Sans', Arial, Helvetica, sans-serif">7</text>
<text x="1988.9" y="1333" font-size="25" font-weight="bold" text-anchor="middle" fill="#000" font-family="'Liberation Sans', Arial, Helvetica, sans-serif">8</text>
<text x="1729" y="1369.5" font-size="25" font-weight="bold" text-anchor="middle" fill="#000" font-family="'Liberation Sans', Arial, Helvetica, sans-serif">Time (h)</text>
<text transform="translate(1360.8,1114.5) rotate(-90)" font-family="'Liberation Sans', Arial, Helvetica, sans-serif" font-size="25.5" font-weight="bold"><tspan font-style="italic">I</tspan><tspan font-size="17" font-weight="normal" dy="8.6">565 nm</tspan><tspan dy="-8.6">/</tspan><tspan font-style="italic">I</tspan><tspan font-size="17" font-weight="normal" dy="8.6">460 nm</tspan></text>
<line x1="1471.5" y1="914.2" x2="1471.5" y2="845" stroke="#b457b0" stroke-width="1.8"/>
<line x1="1466" y1="914.2" x2="1477" y2="914.2" stroke="#b457b0" stroke-width="1.8"/>
<line x1="1466" y1="845" x2="1477" y2="845" stroke="#b457b0" stroke-width="1.8"/>
<line x1="1536.2" y1="1090.6" x2="1536.2" y2="1016.4" stroke="#b457b0" stroke-width="1.8"/>
<line x1="1530.7" y1="1090.6" x2="1541.7" y2="1090.6" stroke="#b457b0" stroke-width="1.8"/>
<line x1="1530.7" y1="1016.4" x2="1541.7" y2="1016.4" stroke="#b457b0" stroke-width="1.8"/>
<line x1="1568.5" y1="1120.2" x2="1568.5" y2="1064.2" stroke="#b457b0" stroke-width="1.8"/>
<line x1="1563" y1="1120.2" x2="1574" y2="1120.2" stroke="#b457b0" stroke-width="1.8"/>
<line x1="1563" y1="1064.2" x2="1574" y2="1064.2" stroke="#b457b0" stroke-width="1.8"/>
<line x1="1600.9" y1="1128.5" x2="1600.9" y2="1067.5" stroke="#b457b0" stroke-width="1.8"/>
<line x1="1595.4" y1="1128.5" x2="1606.4" y2="1128.5" stroke="#b457b0" stroke-width="1.8"/>
<line x1="1595.4" y1="1067.5" x2="1606.4" y2="1067.5" stroke="#b457b0" stroke-width="1.8"/>
<line x1="1665.5" y1="1166.4" x2="1665.5" y2="1141.7" stroke="#b457b0" stroke-width="1.8"/>
<line x1="1660" y1="1166.4" x2="1671" y2="1166.4" stroke="#b457b0" stroke-width="1.8"/>
<line x1="1660" y1="1141.7" x2="1671" y2="1141.7" stroke="#b457b0" stroke-width="1.8"/>
<line x1="1794.9" y1="1234" x2="1794.9" y2="1204.3" stroke="#b457b0" stroke-width="1.8"/>
<line x1="1789.4" y1="1234" x2="1800.4" y2="1234" stroke="#b457b0" stroke-width="1.8"/>
<line x1="1789.4" y1="1204.3" x2="1800.4" y2="1204.3" stroke="#b457b0" stroke-width="1.8"/>
<line x1="1466" y1="1141.7" x2="1477" y2="1141.7" stroke="#3a4ba5" stroke-width="1.8"/>
<line x1="1466" y1="1128.5" x2="1477" y2="1128.5" stroke="#3a4ba5" stroke-width="1.8"/>
<line x1="1471.5" y1="1273.5" x2="1471.5" y2="879.6" stroke="#b457b0" stroke-width="1.8"/>
<polyline points="1471.5,1258.7 1536.2,1268.6 1568.5,1271.9" fill="none" stroke="#000000" stroke-width="1.8"/>
<polyline points="1471.5,1220.8 1536.2,1250.4 1568.5,1252.1 1600.9,1263.6 1665.5,1268.6 1794.9,1273.5" fill="none" stroke="#e8262a" stroke-width="1.8"/>
<polyline points="1471.5,1135.1 1536.2,1189.5 1568.5,1222.4 1600.9,1229 1665.5,1247.1 1794.9,1263.6" fill="none" stroke="#3a4ba5" stroke-width="1.8"/>
<polyline points="1471.5,879.6 1536.2,1052.6 1568.5,1092.2 1600.9,1097.2 1665.5,1154.8 1794.9,1219.1 1988.9,1257" fill="none" stroke="#b457b0" stroke-width="1.8"/>
<circle cx="1471.5" cy="1258.7" r="6.2" fill="#111"/><ellipse cx="1470" cy="1256.2" rx="2.5" ry="1.7" fill="#fff" opacity="0.55"/>
<circle cx="1536.2" cy="1268.6" r="6.2" fill="#111"/><ellipse cx="1534.6" cy="1266.1" rx="2.5" ry="1.7" fill="#fff" opacity="0.55"/>
<circle cx="1568.5" cy="1271.9" r="6.2" fill="#111"/><ellipse cx="1567" cy="1269.4" rx="2.5" ry="1.7" fill="#fff" opacity="0.55"/>
<circle cx="1471.5" cy="1220.8" r="6.2" fill="#e8262a"/><ellipse cx="1470" cy="1218.3" rx="2.5" ry="1.7" fill="#fff" opacity="0.55"/>
<circle cx="1536.2" cy="1250.4" r="6.2" fill="#e8262a"/><ellipse cx="1534.6" cy="1248" rx="2.5" ry="1.7" fill="#fff" opacity="0.55"/>
<circle cx="1568.5" cy="1252.1" r="6.2" fill="#e8262a"/><ellipse cx="1567" cy="1249.6" rx="2.5" ry="1.7" fill="#fff" opacity="0.55"/>
<circle cx="1600.9" cy="1263.6" r="6.2" fill="#e8262a"/><ellipse cx="1599.3" cy="1261.2" rx="2.5" ry="1.7" fill="#fff" opacity="0.55"/>
<circle cx="1665.5" cy="1268.6" r="6.2" fill="#e8262a"/><ellipse cx="1664" cy="1266.1" rx="2.5" ry="1.7" fill="#fff" opacity="0.55"/>
<circle cx="1794.9" cy="1273.5" r="6.2" fill="#e8262a"/><ellipse cx="1793.4" cy="1271" rx="2.5" ry="1.7" fill="#fff" opacity="0.55"/>
<circle cx="1471.5" cy="1135.1" r="6.2" fill="#3a4ba5"/><ellipse cx="1470" cy="1132.6" rx="2.5" ry="1.7" fill="#fff" opacity="0.55"/>
<circle cx="1536.2" cy="1189.5" r="6.2" fill="#3a4ba5"/><ellipse cx="1534.6" cy="1187" rx="2.5" ry="1.7" fill="#fff" opacity="0.55"/>
<circle cx="1568.5" cy="1222.4" r="6.2" fill="#3a4ba5"/><ellipse cx="1567" cy="1219.9" rx="2.5" ry="1.7" fill="#fff" opacity="0.55"/>
<circle cx="1600.9" cy="1229" r="6.2" fill="#3a4ba5"/><ellipse cx="1599.3" cy="1226.5" rx="2.5" ry="1.7" fill="#fff" opacity="0.55"/>
<circle cx="1665.5" cy="1247.1" r="6.2" fill="#3a4ba5"/><ellipse cx="1664" cy="1244.7" rx="2.5" ry="1.7" fill="#fff" opacity="0.55"/>
<circle cx="1794.9" cy="1263.6" r="6.2" fill="#3a4ba5"/><ellipse cx="1793.4" cy="1261.2" rx="2.5" ry="1.7" fill="#fff" opacity="0.55"/>
<circle cx="1471.5" cy="879.6" r="6.2" fill="#b457b0"/><ellipse cx="1470" cy="877.1" rx="2.5" ry="1.7" fill="#fff" opacity="0.55"/>
<circle cx="1536.2" cy="1052.6" r="6.2" fill="#b457b0"/><ellipse cx="1534.6" cy="1050.2" rx="2.5" ry="1.7" fill="#fff" opacity="0.55"/>
<circle cx="1568.5" cy="1092.2" r="6.2" fill="#b457b0"/><ellipse cx="1567" cy="1089.7" rx="2.5" ry="1.7" fill="#fff" opacity="0.55"/>
<circle cx="1600.9" cy="1097.2" r="6.2" fill="#b457b0"/><ellipse cx="1599.3" cy="1094.7" rx="2.5" ry="1.7" fill="#fff" opacity="0.55"/>
<circle cx="1665.5" cy="1154.8" r="6.2" fill="#b457b0"/><ellipse cx="1664" cy="1152.4" rx="2.5" ry="1.7" fill="#fff" opacity="0.55"/>
<circle cx="1794.9" cy="1219.1" r="6.2" fill="#b457b0"/><ellipse cx="1793.4" cy="1216.6" rx="2.5" ry="1.7" fill="#fff" opacity="0.55"/>
<circle cx="1988.9" cy="1257" r="6.2" fill="#b457b0"/><ellipse cx="1987.4" cy="1254.6" rx="2.5" ry="1.7" fill="#fff" opacity="0.55"/>
<circle cx="1471.5" cy="1273.5" r="6.2" fill="#b457b0"/><ellipse cx="1470" cy="1271" rx="2.5" ry="1.7" fill="#fff" opacity="0.55"/>
<line x1="1844" y1="822.5" x2="1891.5" y2="822.5" stroke="#000000" stroke-width="1.8"/>
<circle cx="1868" cy="822.5" r="5" fill="#111"/><ellipse cx="1866.8" cy="820.5" rx="2" ry="1.4" fill="#fff" opacity="0.55"/>
<text x="1904" y="831" font-size="23" fill="#000" font-family="'Liberation Sans', Arial, Helvetica, sans-serif">5 eq</text>
<line x1="1844" y1="851.7" x2="1891.5" y2="851.7" stroke="#e8262a" stroke-width="1.8"/>
<circle cx="1868" cy="851.7" r="5" fill="#e8262a"/><ellipse cx="1866.8" cy="849.7" rx="2" ry="1.4" fill="#fff" opacity="0.55"/>
<text x="1904" y="860.2" font-size="23" fill="#000" font-family="'Liberation Sans', Arial, Helvetica, sans-serif">10 eq</text>
<line x1="1844" y1="880.9" x2="1891.5" y2="880.9" stroke="#3a4ba5" stroke-width="1.8"/>
<circle cx="1868" cy="880.9" r="5" fill="#3a4ba5"/><ellipse cx="1866.8" cy="878.9" rx="2" ry="1.4" fill="#fff" opacity="0.55"/>
<text x="1904" y="889.4" font-size="23" fill="#000" font-family="'Liberation Sans', Arial, Helvetica, sans-serif">20 eq</text>
<line x1="1844" y1="910.1" x2="1891.5" y2="910.1" stroke="#b457b0" stroke-width="1.8"/>
<circle cx="1868" cy="910.1" r="5" fill="#b457b0"/><ellipse cx="1866.8" cy="908.1" rx="2" ry="1.4" fill="#fff" opacity="0.55"/>
<text x="1904" y="918.6" font-size="23" fill="#000" font-family="'Liberation Sans', Arial, Helvetica, sans-serif">50 eq</text>
<rect x="0" y="1409" width="972" height="399" fill="#000"/>
<linearGradient id="lq0" x1="0" y1="0" x2="0" y2="1"><stop offset="0" stop-color="#37aaea"/><stop offset="1" stop-color="#2f95dc"/></linearGradient>
<rect x="37.4" y="1412" width="96" height="365" fill="#0b0b0b"/>
<rect x="42.4" y="1461" width="86" height="283" rx="3" fill="#5ab8ec" opacity="0.45"/>
<rect x="43.4" y="1462" width="84" height="50" fill="#1a1c1c"/>
<rect x="43.4" y="1462" width="84" height="50" fill="none" stroke="#9aa" stroke-width="1.5" opacity="0.7"/>
<rect x="43.4" y="1510" width="84" height="233" fill="#5ab8ec" opacity="0.85"/>
<rect x="50.4" y="1552" width="70" height="184" fill="url(#lq0)"/>
<path d="M56.9 1515.5 H113.9 V1541 Q113.9 1560 95.4 1560 H75.4 Q56.9 1560 56.9 1541 Z" fill="#121616"/>
<path d="M55.4 1556 Q55.4 1566 67.4 1566 H103.4 Q115.4 1566 115.4 1556" fill="none" stroke="#fff" stroke-width="2" opacity="0.6"/>
<rect x="42.4" y="1461" width="86" height="283" fill="none" stroke="#dfe" stroke-width="1.6" opacity="0.6"/>
<rect x="49.4" y="1735" width="72" height="3" fill="#111" opacity="0.8"/>
<rect x="42.4" y="1419" width="86" height="26" rx="11" fill="#f1efe2"/>
<rect x="55.4" y="1440" width="60" height="72" rx="4" fill="#f1efe2" opacity="0.92"/>
<rect x="55.4" y="1478" width="60" height="34" fill="#2f95dc" opacity="0.35"/>
<rect x="43.4" y="1746" width="84" height="30" fill="#5ab8ec" opacity="0.55"/>
<rect x="50.4" y="1750" width="70" height="26" fill="#2f95dc" opacity="0.75"/>
<rect x="49.4" y="1746" width="72" height="5" fill="#0d0d0d" opacity="0.85"/>
<text x="85.4" y="1800" font-size="20.5" text-anchor="middle" fill="#fff" font-family="'Liberation Sans', Arial, Helvetica, sans-serif">Initial</text>
<linearGradient id="lq1" x1="0" y1="0" x2="0" y2="1"><stop offset="0" stop-color="#f2d993"/><stop offset="1" stop-color="#efd184"/></linearGradient>
<rect x="141.5" y="1412" width="96" height="365" fill="#0b0b0b"/>
<rect x="146.5" y="1461" width="86" height="283" rx="3" fill="#eedb9c" opacity="0.45"/>
<rect x="147.5" y="1462" width="84" height="50" fill="#1a1c1c"/>
<rect x="147.5" y="1462" width="84" height="50" fill="none" stroke="#9aa" stroke-width="1.5" opacity="0.7"/>
<rect x="147.5" y="1510" width="84" height="233" fill="#eedb9c" opacity="0.85"/>
<rect x="154.5" y="1552" width="70" height="184" fill="url(#lq1)"/>
<path d="M161 1515.5 H218 V1541 Q218 1560 199.5 1560 H179.5 Q161 1560 161 1541 Z" fill="#121616"/>
<path d="M159.5 1556 Q159.5 1566 171.5 1566 H207.5 Q219.5 1566 219.5 1556" fill="none" stroke="#fff" stroke-width="2" opacity="0.6"/>
<rect x="146.5" y="1461" width="86" height="283" fill="none" stroke="#dfe" stroke-width="1.6" opacity="0.6"/>
<rect x="153.5" y="1735" width="72" height="3" fill="#111" opacity="0.8"/>
<rect x="146.5" y="1419" width="86" height="26" rx="11" fill="#e9e9dc"/>
<rect x="159.5" y="1440" width="60" height="72" rx="4" fill="#e9e9dc" opacity="0.92"/>
<rect x="159.5" y="1478" width="60" height="34" fill="#efd184" opacity="0.35"/>
<rect x="147.5" y="1746" width="84" height="30" fill="#eedb9c" opacity="0.55"/>
<rect x="154.5" y="1750" width="70" height="26" fill="#efd184" opacity="0.75"/>
<rect x="153.5" y="1746" width="72" height="5" fill="#0d0d0d" opacity="0.85"/>
<text x="189.5" y="1800" font-size="20.5" text-anchor="middle" fill="#fff" font-family="'Liberation Sans', Arial, Helvetica, sans-serif">+ γ-CD</text>
<linearGradient id="lq2" x1="0" y1="0" x2="0" y2="1"><stop offset="0" stop-color="#f6eec4"/><stop offset="1" stop-color="#f4e9b6"/></linearGradient>
<rect x="243" y="1412" width="96" height="365" fill="#0b0b0b"/>
<rect x="248" y="1461" width="86" height="283" rx="3" fill="#efe8c4" opacity="0.45"/>
<rect x="249" y="1462" width="84" height="50" fill="#1a1c1c"/>
<rect x="249" y="1462" width="84" height="50" fill="none" stroke="#9aa" stroke-width="1.5" opacity="0.7"/>
<rect x="249" y="1510" width="84" height="233" fill="#efe8c4" opacity="0.85"/>
<rect x="256" y="1552" width="70" height="184" fill="url(#lq2)"/>
<path d="M262.5 1515.5 H319.5 V1541 Q319.5 1560 301 1560 H281 Q262.5 1560 262.5 1541 Z" fill="#121616"/>
<path d="M261 1556 Q261 1566 273 1566 H309 Q321 1566 321 1556" fill="none" stroke="#fff" stroke-width="2" opacity="0.6"/>
<rect x="248" y="1461" width="86" height="283" fill="none" stroke="#dfe" stroke-width="1.6" opacity="0.6"/>
<rect x="255" y="1735" width="72" height="3" fill="#111" opacity="0.8"/>
<rect x="248" y="1419" width="86" height="26" rx="11" fill="#e6e6dc"/>
<rect x="261" y="1440" width="60" height="72" rx="4" fill="#e6e6dc" opacity="0.92"/>
<rect x="261" y="1478" width="60" height="34" fill="#f4e9b6" opacity="0.35"/>
<rect x="249" y="1746" width="84" height="30" fill="#efe8c4" opacity="0.55"/>
<rect x="256" y="1750" width="70" height="26" fill="#f4e9b6" opacity="0.75"/>
<rect x="255" y="1746" width="72" height="5" fill="#0d0d0d" opacity="0.85"/>
<text x="291" y="1800" font-size="20.5" text-anchor="middle" fill="#fff" font-family="'Liberation Sans', Arial, Helvetica, sans-serif">10 min</text>
<linearGradient id="lq3" x1="0" y1="0" x2="0" y2="1"><stop offset="0" stop-color="#e2e9cf"/><stop offset="1" stop-color="#dfe6c8"/></linearGradient>
<rect x="342" y="1412" width="96" height="365" fill="#0b0b0b"/>
<rect x="347" y="1461" width="86" height="283" rx="3" fill="#dfe5cd" opacity="0.45"/>
<rect x="348" y="1462" width="84" height="50" fill="#1a1c1c"/>
<rect x="348" y="1462" width="84" height="50" fill="none" stroke="#9aa" stroke-width="1.5" opacity="0.7"/>
<rect x="348" y="1510" width="84" height="233" fill="#dfe5cd" opacity="0.85"/>
<rect x="355" y="1552" width="70" height="184" fill="url(#lq3)"/>
<path d="M361.5 1515.5 H418.5 V1541 Q418.5 1560 400 1560 H380 Q361.5 1560 361.5 1541 Z" fill="#121616"/>
<path d="M360 1556 Q360 1566 372 1566 H408 Q420 1566 420 1556" fill="none" stroke="#fff" stroke-width="2" opacity="0.6"/>
<rect x="347" y="1461" width="86" height="283" fill="none" stroke="#dfe" stroke-width="1.6" opacity="0.6"/>
<rect x="354" y="1735" width="72" height="3" fill="#111" opacity="0.8"/>
<rect x="347" y="1419" width="86" height="26" rx="11" fill="#e6e7e0"/>
<rect x="360" y="1440" width="60" height="72" rx="4" fill="#e6e7e0" opacity="0.92"/>
<rect x="360" y="1478" width="60" height="34" fill="#dfe6c8" opacity="0.35"/>
<rect x="348" y="1746" width="84" height="30" fill="#dfe5cd" opacity="0.55"/>
<rect x="355" y="1750" width="70" height="26" fill="#dfe6c8" opacity="0.75"/>
<rect x="354" y="1746" width="72" height="5" fill="#0d0d0d" opacity="0.85"/>
<text x="390" y="1800" font-size="20.5" text-anchor="middle" fill="#fff" font-family="'Liberation Sans', Arial, Helvetica, sans-serif">22 min</text>
<linearGradient id="lq4" x1="0" y1="0" x2="0" y2="1"><stop offset="0" stop-color="#dde7df"/><stop offset="1" stop-color="#d7e2d9"/></linearGradient>
<rect x="439" y="1412" width="96" height="365" fill="#0b0b0b"/>
<rect x="444" y="1461" width="86" height="283" rx="3" fill="#d9e2da" opacity="0.45"/>
<rect x="445" y="1462" width="84" height="50" fill="#1a1c1c"/>
<rect x="445" y="1462" width="84" height="50" fill="none" stroke="#9aa" stroke-width="1.5" opacity="0.7"/>
<rect x="445" y="1510" width="84" height="233" fill="#d9e2da" opacity="0.85"/>
<rect x="452" y="1552" width="70" height="184" fill="url(#lq4)"/>
<path d="M458.5 1515.5 H515.5 V1541 Q515.5 1560 497 1560 H477 Q458.5 1560 458.5 1541 Z" fill="#121616"/>
<path d="M457 1556 Q457 1566 469 1566 H505 Q517 1566 517 1556" fill="none" stroke="#fff" stroke-width="2" opacity="0.6"/>
<rect x="444" y="1461" width="86" height="283" fill="none" stroke="#dfe" stroke-width="1.6" opacity="0.6"/>
<rect x="451" y="1735" width="72" height="3" fill="#111" opacity="0.8"/>
<rect x="444" y="1419" width="86" height="26" rx="11" fill="#e6e8e3"/>
<rect x="457" y="1440" width="60" height="72" rx="4" fill="#e6e8e3" opacity="0.92"/>
<rect x="457" y="1478" width="60" height="34" fill="#d7e2d9" opacity="0.35"/>
<rect x="445" y="1746" width="84" height="30" fill="#d9e2da" opacity="0.55"/>
<rect x="452" y="1750" width="70" height="26" fill="#d7e2d9" opacity="0.75"/>
<rect x="451" y="1746" width="72" height="5" fill="#0d0d0d" opacity="0.85"/>
<text x="487" y="1800" font-size="20.5" text-anchor="middle" fill="#fff" font-family="'Liberation Sans', Arial, Helvetica, sans-serif">38 min</text>
<linearGradient id="lq5" x1="0" y1="0" x2="0" y2="1"><stop offset="0" stop-color="#d3e3e8"/><stop offset="1" stop-color="#cfe0e5"/></linearGradient>
<rect x="543" y="1412" width="96" height="365" fill="#0b0b0b"/>
<rect x="548" y="1461" width="86" height="283" rx="3" fill="#d1e0e4" opacity="0.45"/>
<rect x="549" y="1462" width="84" height="50" fill="#1a1c1c"/>
<rect x="549" y="1462" width="84" height="50" fill="none" stroke="#9aa" stroke-width="1.5" opacity="0.7"/>
<rect x="549" y="1510" width="84" height="233" fill="#d1e0e4" opacity="0.85"/>
<rect x="556" y="1552" width="70" height="184" fill="url(#lq5)"/>
<path d="M562.5 1515.5 H619.5 V1541 Q619.5 1560 601 1560 H581 Q562.5 1560 562.5 1541 Z" fill="#121616"/>
<path d="M561 1556 Q561 1566 573 1566 H609 Q621 1566 621 1556" fill="none" stroke="#fff" stroke-width="2" opacity="0.6"/>
<rect x="548" y="1461" width="86" height="283" fill="none" stroke="#dfe" stroke-width="1.6" opacity="0.6"/>
<rect x="555" y="1735" width="72" height="3" fill="#111" opacity="0.8"/>
<rect x="548" y="1419" width="86" height="26" rx="11" fill="#e7e8e4"/>
<rect x="561" y="1440" width="60" height="72" rx="4" fill="#e7e8e4" opacity="0.92"/>
<rect x="561" y="1478" width="60" height="34" fill="#cfe0e5" opacity="0.35"/>
<rect x="549" y="1746" width="84" height="30" fill="#d1e0e4" opacity="0.55"/>
<rect x="556" y="1750" width="70" height="26" fill="#cfe0e5" opacity="0.75"/>
<rect x="555" y="1746" width="72" height="5" fill="#0d0d0d" opacity="0.85"/>
<text x="591" y="1800" font-size="20.5" text-anchor="middle" fill="#fff" font-family="'Liberation Sans', Arial, Helvetica, sans-serif">50 min</text>
<linearGradient id="lq6" x1="0" y1="0" x2="0" y2="1"><stop offset="0" stop-color="#c7e3f2"/><stop offset="1" stop-color="#c1dff0"/></linearGradient>
<rect x="647" y="1412" width="96" height="365" fill="#0b0b0b"/>
<rect x="652" y="1461" width="86" height="283" rx="3" fill="#c8e1ee" opacity="0.45"/>
<rect x="653" y="1462" width="84" height="50" fill="#1a1c1c"/>
<rect x="653" y="1462" width="84" height="50" fill="none" stroke="#9aa" stroke-width="1.5" opacity="0.7"/>
<rect x="653" y="1510" width="84" height="233" fill="#c8e1ee" opacity="0.85"/>
<rect x="660" y="1552" width="70" height="184" fill="url(#lq6)"/>
<path d="M666.5 1515.5 H723.5 V1541 Q723.5 1560 705 1560 H685 Q666.5 1560 666.5 1541 Z" fill="#121616"/>
<path d="M665 1556 Q665 1566 677 1566 H713 Q725 1566 725 1556" fill="none" stroke="#fff" stroke-width="2" opacity="0.6"/>
<rect x="652" y="1461" width="86" height="283" fill="none" stroke="#dfe" stroke-width="1.6" opacity="0.6"/>
<rect x="659" y="1735" width="72" height="3" fill="#111" opacity="0.8"/>
<rect x="652" y="1419" width="86" height="26" rx="11" fill="#ecebe6"/>
<rect x="665" y="1440" width="60" height="72" rx="4" fill="#ecebe6" opacity="0.92"/>
<rect x="665" y="1478" width="60" height="34" fill="#c1dff0" opacity="0.35"/>
<rect x="653" y="1746" width="84" height="30" fill="#c8e1ee" opacity="0.55"/>
<rect x="660" y="1750" width="70" height="26" fill="#c1dff0" opacity="0.75"/>
<rect x="659" y="1746" width="72" height="5" fill="#0d0d0d" opacity="0.85"/>
<text x="695" y="1800" font-size="20.5" text-anchor="middle" fill="#fff" font-family="'Liberation Sans', Arial, Helvetica, sans-serif">55 min</text>
<linearGradient id="lq7" x1="0" y1="0" x2="0" y2="1"><stop offset="0" stop-color="#48afe8"/><stop offset="1" stop-color="#3da5e3"/></linearGradient>
<rect x="748" y="1412" width="96" height="365" fill="#0b0b0b"/>
<rect x="753" y="1461" width="86" height="283" rx="3" fill="#6cc0ee" opacity="0.45"/>
<rect x="754" y="1462" width="84" height="50" fill="#1a1c1c"/>
<rect x="754" y="1462" width="84" height="50" fill="none" stroke="#9aa" stroke-width="1.5" opacity="0.7"/>
<rect x="754" y="1510" width="84" height="233" fill="#6cc0ee" opacity="0.85"/>
<rect x="761" y="1552" width="70" height="184" fill="url(#lq7)"/>
<path d="M767.5 1515.5 H824.5 V1541 Q824.5 1560 806 1560 H786 Q767.5 1560 767.5 1541 Z" fill="#121616"/>
<path d="M766 1556 Q766 1566 778 1566 H814 Q826 1566 826 1556" fill="none" stroke="#fff" stroke-width="2" opacity="0.6"/>
<rect x="753" y="1461" width="86" height="283" fill="none" stroke="#dfe" stroke-width="1.6" opacity="0.6"/>
<rect x="760" y="1735" width="72" height="3" fill="#111" opacity="0.8"/>
<rect x="753" y="1419" width="86" height="26" rx="11" fill="#f2f1ea"/>
<rect x="766" y="1440" width="60" height="72" rx="4" fill="#f2f1ea" opacity="0.92"/>
<rect x="766" y="1478" width="60" height="34" fill="#3da5e3" opacity="0.35"/>
<rect x="754" y="1746" width="84" height="30" fill="#6cc0ee" opacity="0.55"/>
<rect x="761" y="1750" width="70" height="26" fill="#3da5e3" opacity="0.75"/>
<rect x="760" y="1746" width="72" height="5" fill="#0d0d0d" opacity="0.85"/>
<text x="796" y="1800" font-size="20.5" text-anchor="middle" fill="#fff" font-family="'Liberation Sans', Arial, Helvetica, sans-serif">90 min</text>
<linearGradient id="lq8" x1="0" y1="0" x2="0" y2="1"><stop offset="0" stop-color="#2a97dc"/><stop offset="1" stop-color="#2189d4"/></linearGradient>
<rect x="849.5" y="1412" width="96" height="365" fill="#0b0b0b"/>
<rect x="854.5" y="1461" width="86" height="283" rx="3" fill="#4ba9e4" opacity="0.45"/>
<rect x="855.5" y="1462" width="84" height="50" fill="#1a1c1c"/>
<rect x="855.5" y="1462" width="84" height="50" fill="none" stroke="#9aa" stroke-width="1.5" opacity="0.7"/>
<rect x="855.5" y="1510" width="84" height="233" fill="#4ba9e4" opacity="0.85"/>
<rect x="862.5" y="1552" width="70" height="184" fill="url(#lq8)"/>
<path d="M869 1515.5 H926 V1541 Q926 1560 907.5 1560 H887.5 Q869 1560 869 1541 Z" fill="#121616"/>
<path d="M867.5 1556 Q867.5 1566 879.5 1566 H915.5 Q927.5 1566 927.5 1556" fill="none" stroke="#fff" stroke-width="2" opacity="0.6"/>
<rect x="854.5" y="1461" width="86" height="283" fill="none" stroke="#dfe" stroke-width="1.6" opacity="0.6"/>
<rect x="861.5" y="1735" width="72" height="3" fill="#111" opacity="0.8"/>
<rect x="854.5" y="1419" width="86" height="26" rx="11" fill="#fbfbf6"/>
<rect x="867.5" y="1440" width="60" height="72" rx="4" fill="#fbfbf6" opacity="0.92"/>
<rect x="867.5" y="1478" width="60" height="34" fill="#2189d4" opacity="0.35"/>
<rect x="855.5" y="1746" width="84" height="30" fill="#4ba9e4" opacity="0.55"/>
<rect x="862.5" y="1750" width="70" height="26" fill="#2189d4" opacity="0.75"/>
<rect x="861.5" y="1746" width="72" height="5" fill="#0d0d0d" opacity="0.85"/>
<text x="897.5" y="1800" font-size="20.5" text-anchor="middle" fill="#fff" font-family="'Liberation Sans', Arial, Helvetica, sans-serif">110 min</text>
<text x="10.5" y="1450.5" font-size="40" font-weight="bold" fill="#fff" font-family="'Liberation Sans', Arial, Helvetica, sans-serif">f</text>
<rect x="1005" y="1409" width="1026" height="399" fill="#000"/>
<radialGradient id="dishg" cx="0.5" cy="0.52" r="0.5"><stop offset="0" stop-color="#7eaadd"/><stop offset="0.7" stop-color="#7aa8dc"/><stop offset="0.9" stop-color="#8ab6e4"/><stop offset="1" stop-color="#a9cdef"/></radialGradient>
<filter id="gblur4" x="-20%" y="-50%" width="140%" height="200%"><feGaussianBlur stdDeviation="4"/></filter>
<circle cx="1123.8" cy="1507" r="86" fill="#34476a"/>
<circle cx="1123.8" cy="1507" r="85" fill="none" stroke="#8fb0dc" stroke-width="1.6" stroke-dasharray="1.4 1.4" opacity="0.8"/>
<circle cx="1123.8" cy="1507" r="82" fill="#5b80b6"/>
<circle cx="1123.8" cy="1507" r="77" fill="url(#dishg)"/>
<circle cx="1123.8" cy="1507" r="76.5" fill="none" stroke="#eaf6ff" stroke-width="3.2" opacity="0.9"/>
<circle cx="1123.8" cy="1507" r="80.5" fill="none" stroke="#3f5f90" stroke-width="1.2" opacity="0.7"/>
<path d="M1070.5 1470.9 Q1123.8 1433 1177.1 1470.9" fill="none" stroke="#a6cdf2" stroke-width="9" opacity="0.7" filter="url(#gblur4)"/>
<path d="M1076.5 1488.1 Q1128.1 1453.7 1177.1 1489.8" fill="none" stroke="#5c88c6" stroke-width="7" opacity="0.75" filter="url(#gblur4)"/>
<circle cx="1393.4" cy="1506.2" r="87" fill="#34476a"/>
<circle cx="1393.4" cy="1506.2" r="86" fill="none" stroke="#8fb0dc" stroke-width="1.6" stroke-dasharray="1.4 1.4" opacity="0.8"/>
<circle cx="1393.4" cy="1506.2" r="83" fill="#5b80b6"/>
<circle cx="1393.4" cy="1506.2" r="78" fill="url(#dishg)"/>
<circle cx="1393.4" cy="1506.2" r="77.5" fill="none" stroke="#eaf6ff" stroke-width="3.2" opacity="0.9"/>
<circle cx="1393.4" cy="1506.2" r="81.5" fill="none" stroke="#3f5f90" stroke-width="1.2" opacity="0.7"/>
<path d="M1339.5 1469.7 Q1393.4 1431.4 1447.3 1469.7" fill="none" stroke="#a6cdf2" stroke-width="9" opacity="0.7" filter="url(#gblur4)"/>
<path d="M1345.6 1487.1 Q1397.8 1452.3 1447.3 1488.8" fill="none" stroke="#5c88c6" stroke-width="7" opacity="0.75" filter="url(#gblur4)"/>
<text x="1372" y="1539" font-family="'Liberation Sans', Arial, Helvetica, sans-serif" font-size="88" textLength="44" lengthAdjust="spacingAndGlyphs" fill="#f1ddb6" stroke="#efd9ae" stroke-width="1.2" stroke-linejoin="round">K</text>
<circle cx="1658.9" cy="1505.2" r="88" fill="#34476a"/>
<circle cx="1658.9" cy="1505.2" r="87" fill="none" stroke="#8fb0dc" stroke-width="1.6" stroke-dasharray="1.4 1.4" opacity="0.8"/>
<circle cx="1658.9" cy="1505.2" r="84" fill="#5b80b6"/>
<circle cx="1658.9" cy="1505.2" r="79" fill="url(#dishg)"/>
<circle cx="1658.9" cy="1505.2" r="78.5" fill="none" stroke="#eaf6ff" stroke-width="3.2" opacity="0.9"/>
<circle cx="1658.9" cy="1505.2" r="82.5" fill="none" stroke="#3f5f90" stroke-width="1.2" opacity="0.7"/>
<path d="M1604.3 1468.2 Q1658.9 1429.5 1713.5 1468.2" fill="none" stroke="#a6cdf2" stroke-width="9" opacity="0.7" filter="url(#gblur4)"/>
<path d="M1610.5 1485.8 Q1663.3 1450.6 1713.5 1487.6" fill="none" stroke="#5c88c6" stroke-width="7" opacity="0.75" filter="url(#gblur4)"/>
<circle cx="1922.8" cy="1505.2" r="87" fill="#34476a"/>
<circle cx="1922.8" cy="1505.2" r="86" fill="none" stroke="#8fb0dc" stroke-width="1.6" stroke-dasharray="1.4 1.4" opacity="0.8"/>
<circle cx="1922.8" cy="1505.2" r="83" fill="#5b80b6"/>
<circle cx="1922.8" cy="1505.2" r="78" fill="url(#dishg)"/>
<circle cx="1922.8" cy="1505.2" r="77.5" fill="none" stroke="#eaf6ff" stroke-width="3.2" opacity="0.9"/>
<circle cx="1922.8" cy="1505.2" r="81.5" fill="none" stroke="#3f5f90" stroke-width="1.2" opacity="0.7"/>
<path d="M1868.9 1468.7 Q1922.8 1430.4 1976.7 1468.7" fill="none" stroke="#a6cdf2" stroke-width="9" opacity="0.7" filter="url(#gblur4)"/>
<path d="M1875 1486.1 Q1927.1 1451.3 1976.7 1487.8" fill="none" stroke="#5c88c6" stroke-width="7" opacity="0.75" filter="url(#gblur4)"/>
<circle cx="1128.4" cy="1707.7" r="86" fill="#34476a"/>
<circle cx="1128.4" cy="1707.7" r="85" fill="none" stroke="#8fb0dc" stroke-width="1.6" stroke-dasharray="1.4 1.4" opacity="0.8"/>
<circle cx="1128.4" cy="1707.7" r="82" fill="#5b80b6"/>
<circle cx="1128.4" cy="1707.7" r="77" fill="url(#dishg)"/>
<circle cx="1128.4" cy="1707.7" r="76.5" fill="none" stroke="#eaf6ff" stroke-width="3.2" opacity="0.9"/>
<circle cx="1128.4" cy="1707.7" r="80.5" fill="none" stroke="#3f5f90" stroke-width="1.2" opacity="0.7"/>
<path d="M1075.1 1671.6 Q1128.4 1633.7 1181.7 1671.6" fill="none" stroke="#a6cdf2" stroke-width="9" opacity="0.7" filter="url(#gblur4)"/>
<path d="M1081.1 1688.8 Q1132.7 1654.4 1181.7 1690.5" fill="none" stroke="#5c88c6" stroke-width="7" opacity="0.75" filter="url(#gblur4)"/>
<text x="1105" y="1737" font-family="'Liberation Sans', Arial, Helvetica, sans-serif" font-size="82.4" textLength="44" lengthAdjust="spacingAndGlyphs" fill="#f1ddb6" stroke="#efd9ae" stroke-width="1.2" stroke-linejoin="round">K</text>
<circle cx="1402.6" cy="1707.7" r="87" fill="#34476a"/>
<circle cx="1402.6" cy="1707.7" r="86" fill="none" stroke="#8fb0dc" stroke-width="1.6" stroke-dasharray="1.4 1.4" opacity="0.8"/>
<circle cx="1402.6" cy="1707.7" r="83" fill="#5b80b6"/>
<circle cx="1402.6" cy="1707.7" r="78" fill="url(#dishg)"/>
<circle cx="1402.6" cy="1707.7" r="77.5" fill="none" stroke="#eaf6ff" stroke-width="3.2" opacity="0.9"/>
<circle cx="1402.6" cy="1707.7" r="81.5" fill="none" stroke="#3f5f90" stroke-width="1.2" opacity="0.7"/>
<path d="M1348.7 1671.2 Q1402.6 1632.9 1456.5 1671.2" fill="none" stroke="#a6cdf2" stroke-width="9" opacity="0.7" filter="url(#gblur4)"/>
<path d="M1354.8 1688.6 Q1406.9 1653.8 1456.5 1690.3" fill="none" stroke="#5c88c6" stroke-width="7" opacity="0.75" filter="url(#gblur4)"/>
<text x="1369" y="1734" font-family="'Liberation Sans', Arial, Helvetica, sans-serif" font-size="85.2" textLength="62" lengthAdjust="spacingAndGlyphs" fill="#f1ddb6" stroke="#efd9ae" stroke-width="1.2" stroke-linejoin="round">L</text>
<circle cx="1666.6" cy="1702.5" r="88" fill="#34476a"/>
<circle cx="1666.6" cy="1702.5" r="87" fill="none" stroke="#8fb0dc" stroke-width="1.6" stroke-dasharray="1.4 1.4" opacity="0.8"/>
<circle cx="1666.6" cy="1702.5" r="84" fill="#5b80b6"/>
<circle cx="1666.6" cy="1702.5" r="79" fill="url(#dishg)"/>
<circle cx="1666.6" cy="1702.5" r="78.5" fill="none" stroke="#eaf6ff" stroke-width="3.2" opacity="0.9"/>
<circle cx="1666.6" cy="1702.5" r="82.5" fill="none" stroke="#3f5f90" stroke-width="1.2" opacity="0.7"/>
<path d="M1612 1665.5 Q1666.6 1626.8 1721.2 1665.5" fill="none" stroke="#a6cdf2" stroke-width="9" opacity="0.7" filter="url(#gblur4)"/>
<path d="M1618.2 1683.1 Q1671 1647.9 1721.2 1684.9" fill="none" stroke="#5c88c6" stroke-width="7" opacity="0.75" filter="url(#gblur4)"/>
<text x="1642.5" y="1734" font-family="'Liberation Sans', Arial, Helvetica, sans-serif" font-size="92.2" textLength="56" lengthAdjust="spacingAndGlyphs" fill="#f1ddb6" stroke="#efd9ae" stroke-width="1.2" stroke-linejoin="round">A</text>
<circle cx="1933" cy="1710.2" r="88" fill="#34476a"/>
<circle cx="1933" cy="1710.2" r="87" fill="none" stroke="#8fb0dc" stroke-width="1.6" stroke-dasharray="1.4 1.4" opacity="0.8"/>
<circle cx="1933" cy="1710.2" r="84" fill="#5b80b6"/>
<circle cx="1933" cy="1710.2" r="79" fill="url(#dishg)"/>
<circle cx="1933" cy="1710.2" r="78.5" fill="none" stroke="#eaf6ff" stroke-width="3.2" opacity="0.9"/>
<circle cx="1933" cy="1710.2" r="82.5" fill="none" stroke="#3f5f90" stroke-width="1.2" opacity="0.7"/>
<path d="M1878.4 1673.2 Q1933 1634.5 1987.6 1673.2" fill="none" stroke="#a6cdf2" stroke-width="9" opacity="0.7" filter="url(#gblur4)"/>
<path d="M1884.6 1690.8 Q1937.4 1655.6 1987.6 1692.6" fill="none" stroke="#5c88c6" stroke-width="7" opacity="0.75" filter="url(#gblur4)"/>
<text x="1886.3" y="1742" font-family="'Liberation Sans', Arial, Helvetica, sans-serif" font-size="71.2" textLength="91" lengthAdjust="spacingAndGlyphs" fill="#f1ddb6" stroke="#efd9ae" stroke-width="1.2" stroke-linejoin="round">M</text>
<line x1="1213" y1="1503.7" x2="1287" y2="1503.7" stroke="#fff" stroke-width="4.5"/><path d="M1299 1503.7 L1279 1493.7 L1279 1513.7 Z" fill="#fff"/>
<text x="1249" y="1489.8" font-size="24" text-anchor="middle" fill="#fff" font-family="'Liberation Sans', Arial, Helvetica, sans-serif">Write</text>
<line x1="1484.6" y1="1503.7" x2="1558" y2="1503.7" stroke="#fff" stroke-width="4.5"/><path d="M1570 1503.7 L1550 1493.7 L1550 1513.7 Z" fill="#fff"/>
<text x="1513" y="1489.8" font-size="24" text-anchor="middle" fill="#fff" font-family="'Liberation Sans', Arial, Helvetica, sans-serif">8 h</text>
<line x1="1748.6" y1="1503.7" x2="1822" y2="1503.7" stroke="#fff" stroke-width="4.5"/><path d="M1834 1503.7 L1814 1493.7 L1814 1513.7 Z" fill="#fff"/>
<text x="1787" y="1489.8" font-size="24" text-anchor="middle" fill="#fff" font-family="'Liberation Sans', Arial, Helvetica, sans-serif">12 h</text>
<line x1="1218" y1="1715.3" x2="1294" y2="1715.3" stroke="#fff" stroke-width="4.5"/><path d="M1306 1715.3 L1286 1705.3 L1286 1725.3 Z" fill="#fff"/>
<text x="1219" y="1694.5" font-size="24" fill="#fff" font-family="'Liberation Sans', Arial, Helvetica, sans-serif">i) 12 h</text>
<text x="1215.5" y="1751" font-size="24" fill="#fff" font-family="'Liberation Sans', Arial, Helvetica, sans-serif">ii) Write</text>
<line x1="1492.3" y1="1715.3" x2="1568" y2="1715.3" stroke="#fff" stroke-width="4.5"/><path d="M1580 1715.3 L1560 1705.3 L1560 1725.3 Z" fill="#fff"/>
<text x="1493.3" y="1694.5" font-size="24" fill="#fff" font-family="'Liberation Sans', Arial, Helvetica, sans-serif">i) 14 h</text>
<text x="1489.8" y="1751" font-size="24" fill="#fff" font-family="'Liberation Sans', Arial, Helvetica, sans-serif">ii) Write</text>
<line x1="1756.3" y1="1715.3" x2="1832" y2="1715.3" stroke="#fff" stroke-width="4.5"/><path d="M1844 1715.3 L1824 1705.3 L1824 1725.3 Z" fill="#fff"/>
<text x="1757.3" y="1694.5" font-size="24" fill="#fff" font-family="'Liberation Sans', Arial, Helvetica, sans-serif">i) 20 h</text>
<text x="1753.8" y="1751" font-size="24" fill="#fff" font-family="'Liberation Sans', Arial, Helvetica, sans-serif">ii) Write</text>
<text x="1015.5" y="1446" font-size="40" font-weight="bold" fill="#fff" font-family="'Liberation Sans', Arial, Helvetica, sans-serif">g</text></svg></body></html>
